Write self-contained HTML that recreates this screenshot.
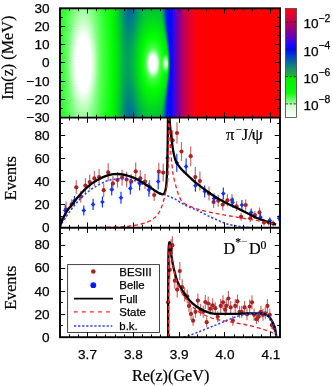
<!DOCTYPE html>
<html><head><meta charset="utf-8"><title>plot</title>
<style>
html,body{margin:0;padding:0;background:#fff;}
svg{display:block;}
.t{font-family:"Liberation Sans",sans-serif;font-size:13.6px;stroke:#000;stroke-width:0.25px;fill:#000;}
.s{font-family:"Liberation Serif",serif;font-size:16.2px;fill:#000;stroke:#000;stroke-width:0.2px;}
</style></head><body>
<svg width="332" height="386" viewBox="0 0 332 386">
<defs><clipPath id="clipm"><rect x="60.0" y="117.6" width="220.0" height="110.1"/></clipPath><clipPath id="clipb"><rect x="60.0" y="227.7" width="220.0" height="109.5"/></clipPath></defs>
<rect width="332" height="386" fill="#fff"/>
<defs><linearGradient id="c60" x1="0" y1="0" x2="0" y2="1"><stop offset="0.000" stop-color="#1bff1b"/><stop offset="0.028" stop-color="#1dff1d"/><stop offset="0.056" stop-color="#1fff1f"/><stop offset="0.083" stop-color="#20ff20"/><stop offset="0.111" stop-color="#22ff22"/><stop offset="0.139" stop-color="#23ff23"/><stop offset="0.167" stop-color="#24ff24"/><stop offset="0.194" stop-color="#26ff26"/><stop offset="0.222" stop-color="#27ff27"/><stop offset="0.250" stop-color="#28ff28"/><stop offset="0.278" stop-color="#28ff28"/><stop offset="0.306" stop-color="#29ff29"/><stop offset="0.333" stop-color="#2aff2a"/><stop offset="0.361" stop-color="#2aff2a"/><stop offset="0.389" stop-color="#2bff2b"/><stop offset="0.417" stop-color="#2bff2b"/><stop offset="0.444" stop-color="#2cff2c"/><stop offset="0.472" stop-color="#2cff2c"/><stop offset="0.500" stop-color="#2cff2c"/><stop offset="0.528" stop-color="#2cff2c"/><stop offset="0.556" stop-color="#2cff2c"/><stop offset="0.583" stop-color="#2bff2b"/><stop offset="0.611" stop-color="#2bff2b"/><stop offset="0.639" stop-color="#2bff2b"/><stop offset="0.667" stop-color="#2aff2a"/><stop offset="0.694" stop-color="#29ff29"/><stop offset="0.722" stop-color="#29ff29"/><stop offset="0.750" stop-color="#28ff28"/><stop offset="0.778" stop-color="#27ff27"/><stop offset="0.806" stop-color="#26ff26"/><stop offset="0.833" stop-color="#25ff25"/><stop offset="0.861" stop-color="#24ff24"/><stop offset="0.889" stop-color="#22ff22"/><stop offset="0.917" stop-color="#21ff21"/><stop offset="0.944" stop-color="#1fff1f"/><stop offset="0.972" stop-color="#1eff1e"/><stop offset="1.000" stop-color="#1cff1c"/></linearGradient><linearGradient id="c61" x1="0" y1="0" x2="0" y2="1"><stop offset="0.000" stop-color="#21ff21"/><stop offset="0.028" stop-color="#23ff23"/><stop offset="0.056" stop-color="#24ff24"/><stop offset="0.083" stop-color="#26ff26"/><stop offset="0.111" stop-color="#28ff28"/><stop offset="0.139" stop-color="#29ff29"/><stop offset="0.167" stop-color="#2bff2b"/><stop offset="0.194" stop-color="#2cff2c"/><stop offset="0.222" stop-color="#2dff2d"/><stop offset="0.250" stop-color="#2eff2e"/><stop offset="0.278" stop-color="#2fff2f"/><stop offset="0.306" stop-color="#30ff30"/><stop offset="0.333" stop-color="#31ff31"/><stop offset="0.361" stop-color="#32ff32"/><stop offset="0.389" stop-color="#32ff32"/><stop offset="0.417" stop-color="#33ff33"/><stop offset="0.444" stop-color="#33ff33"/><stop offset="0.472" stop-color="#33ff33"/><stop offset="0.500" stop-color="#33ff33"/><stop offset="0.528" stop-color="#33ff33"/><stop offset="0.556" stop-color="#33ff33"/><stop offset="0.583" stop-color="#33ff33"/><stop offset="0.611" stop-color="#32ff32"/><stop offset="0.639" stop-color="#32ff32"/><stop offset="0.667" stop-color="#31ff31"/><stop offset="0.694" stop-color="#31ff31"/><stop offset="0.722" stop-color="#30ff30"/><stop offset="0.750" stop-color="#2fff2f"/><stop offset="0.778" stop-color="#2eff2e"/><stop offset="0.806" stop-color="#2dff2d"/><stop offset="0.833" stop-color="#2bff2b"/><stop offset="0.861" stop-color="#2aff2a"/><stop offset="0.889" stop-color="#28ff28"/><stop offset="0.917" stop-color="#27ff27"/><stop offset="0.944" stop-color="#25ff25"/><stop offset="0.972" stop-color="#23ff23"/><stop offset="1.000" stop-color="#21ff21"/></linearGradient><linearGradient id="c62" x1="0" y1="0" x2="0" y2="1"><stop offset="0.000" stop-color="#26ff26"/><stop offset="0.028" stop-color="#28ff28"/><stop offset="0.056" stop-color="#2bff2b"/><stop offset="0.083" stop-color="#2dff2d"/><stop offset="0.111" stop-color="#2eff2e"/><stop offset="0.139" stop-color="#30ff30"/><stop offset="0.167" stop-color="#32ff32"/><stop offset="0.194" stop-color="#33ff33"/><stop offset="0.222" stop-color="#35ff35"/><stop offset="0.250" stop-color="#36ff36"/><stop offset="0.278" stop-color="#37ff37"/><stop offset="0.306" stop-color="#38ff38"/><stop offset="0.333" stop-color="#39ff39"/><stop offset="0.361" stop-color="#39ff39"/><stop offset="0.389" stop-color="#3aff3a"/><stop offset="0.417" stop-color="#3bff3b"/><stop offset="0.444" stop-color="#3bff3b"/><stop offset="0.472" stop-color="#3bff3b"/><stop offset="0.500" stop-color="#3bff3b"/><stop offset="0.528" stop-color="#3bff3b"/><stop offset="0.556" stop-color="#3bff3b"/><stop offset="0.583" stop-color="#3bff3b"/><stop offset="0.611" stop-color="#3aff3a"/><stop offset="0.639" stop-color="#3aff3a"/><stop offset="0.667" stop-color="#39ff39"/><stop offset="0.694" stop-color="#38ff38"/><stop offset="0.722" stop-color="#37ff37"/><stop offset="0.750" stop-color="#36ff36"/><stop offset="0.778" stop-color="#35ff35"/><stop offset="0.806" stop-color="#34ff34"/><stop offset="0.833" stop-color="#32ff32"/><stop offset="0.861" stop-color="#31ff31"/><stop offset="0.889" stop-color="#2fff2f"/><stop offset="0.917" stop-color="#2dff2d"/><stop offset="0.944" stop-color="#2bff2b"/><stop offset="0.972" stop-color="#29ff29"/><stop offset="1.000" stop-color="#27ff27"/></linearGradient><linearGradient id="c63" x1="0" y1="0" x2="0" y2="1"><stop offset="0.000" stop-color="#2cff2c"/><stop offset="0.028" stop-color="#2fff2f"/><stop offset="0.056" stop-color="#31ff31"/><stop offset="0.083" stop-color="#33ff33"/><stop offset="0.111" stop-color="#35ff35"/><stop offset="0.139" stop-color="#37ff37"/><stop offset="0.167" stop-color="#39ff39"/><stop offset="0.194" stop-color="#3bff3b"/><stop offset="0.222" stop-color="#3cff3c"/><stop offset="0.250" stop-color="#3eff3e"/><stop offset="0.278" stop-color="#3fff3f"/><stop offset="0.306" stop-color="#40ff40"/><stop offset="0.333" stop-color="#41ff41"/><stop offset="0.361" stop-color="#42ff42"/><stop offset="0.389" stop-color="#42ff42"/><stop offset="0.417" stop-color="#43ff43"/><stop offset="0.444" stop-color="#43ff43"/><stop offset="0.472" stop-color="#44ff44"/><stop offset="0.500" stop-color="#44ff44"/><stop offset="0.528" stop-color="#44ff44"/><stop offset="0.556" stop-color="#43ff43"/><stop offset="0.583" stop-color="#43ff43"/><stop offset="0.611" stop-color="#43ff43"/><stop offset="0.639" stop-color="#42ff42"/><stop offset="0.667" stop-color="#41ff41"/><stop offset="0.694" stop-color="#40ff40"/><stop offset="0.722" stop-color="#3fff3f"/><stop offset="0.750" stop-color="#3eff3e"/><stop offset="0.778" stop-color="#3dff3d"/><stop offset="0.806" stop-color="#3bff3b"/><stop offset="0.833" stop-color="#3aff3a"/><stop offset="0.861" stop-color="#38ff38"/><stop offset="0.889" stop-color="#36ff36"/><stop offset="0.917" stop-color="#34ff34"/><stop offset="0.944" stop-color="#32ff32"/><stop offset="0.972" stop-color="#30ff30"/><stop offset="1.000" stop-color="#2dff2d"/></linearGradient><linearGradient id="c64" x1="0" y1="0" x2="0" y2="1"><stop offset="0.000" stop-color="#33ff33"/><stop offset="0.028" stop-color="#35ff35"/><stop offset="0.056" stop-color="#38ff38"/><stop offset="0.083" stop-color="#3bff3b"/><stop offset="0.111" stop-color="#3dff3d"/><stop offset="0.139" stop-color="#3fff3f"/><stop offset="0.167" stop-color="#41ff41"/><stop offset="0.194" stop-color="#43ff43"/><stop offset="0.222" stop-color="#45ff45"/><stop offset="0.250" stop-color="#46ff46"/><stop offset="0.278" stop-color="#47ff47"/><stop offset="0.306" stop-color="#49ff49"/><stop offset="0.333" stop-color="#4aff4a"/><stop offset="0.361" stop-color="#4bff4b"/><stop offset="0.389" stop-color="#4bff4b"/><stop offset="0.417" stop-color="#4cff4c"/><stop offset="0.444" stop-color="#4cff4c"/><stop offset="0.472" stop-color="#4dff4d"/><stop offset="0.500" stop-color="#4dff4d"/><stop offset="0.528" stop-color="#4dff4d"/><stop offset="0.556" stop-color="#4cff4c"/><stop offset="0.583" stop-color="#4cff4c"/><stop offset="0.611" stop-color="#4cff4c"/><stop offset="0.639" stop-color="#4bff4b"/><stop offset="0.667" stop-color="#4aff4a"/><stop offset="0.694" stop-color="#49ff49"/><stop offset="0.722" stop-color="#48ff48"/><stop offset="0.750" stop-color="#47ff47"/><stop offset="0.778" stop-color="#45ff45"/><stop offset="0.806" stop-color="#43ff43"/><stop offset="0.833" stop-color="#42ff42"/><stop offset="0.861" stop-color="#40ff40"/><stop offset="0.889" stop-color="#3eff3e"/><stop offset="0.917" stop-color="#3bff3b"/><stop offset="0.944" stop-color="#39ff39"/><stop offset="0.972" stop-color="#36ff36"/><stop offset="1.000" stop-color="#34ff34"/></linearGradient><linearGradient id="c65" x1="0" y1="0" x2="0" y2="1"><stop offset="0.000" stop-color="#39ff39"/><stop offset="0.028" stop-color="#3cff3c"/><stop offset="0.056" stop-color="#3fff3f"/><stop offset="0.083" stop-color="#42ff42"/><stop offset="0.111" stop-color="#45ff45"/><stop offset="0.139" stop-color="#47ff47"/><stop offset="0.167" stop-color="#49ff49"/><stop offset="0.194" stop-color="#4bff4b"/><stop offset="0.222" stop-color="#4dff4d"/><stop offset="0.250" stop-color="#4fff4f"/><stop offset="0.278" stop-color="#50ff50"/><stop offset="0.306" stop-color="#52ff52"/><stop offset="0.333" stop-color="#53ff53"/><stop offset="0.361" stop-color="#54ff54"/><stop offset="0.389" stop-color="#55ff55"/><stop offset="0.417" stop-color="#55ff55"/><stop offset="0.444" stop-color="#56ff56"/><stop offset="0.472" stop-color="#56ff56"/><stop offset="0.500" stop-color="#56ff56"/><stop offset="0.528" stop-color="#56ff56"/><stop offset="0.556" stop-color="#56ff56"/><stop offset="0.583" stop-color="#56ff56"/><stop offset="0.611" stop-color="#55ff55"/><stop offset="0.639" stop-color="#54ff54"/><stop offset="0.667" stop-color="#53ff53"/><stop offset="0.694" stop-color="#52ff52"/><stop offset="0.722" stop-color="#51ff51"/><stop offset="0.750" stop-color="#4fff4f"/><stop offset="0.778" stop-color="#4eff4e"/><stop offset="0.806" stop-color="#4cff4c"/><stop offset="0.833" stop-color="#4aff4a"/><stop offset="0.861" stop-color="#48ff48"/><stop offset="0.889" stop-color="#46ff46"/><stop offset="0.917" stop-color="#43ff43"/><stop offset="0.944" stop-color="#40ff40"/><stop offset="0.972" stop-color="#3eff3e"/><stop offset="1.000" stop-color="#3aff3a"/></linearGradient><linearGradient id="c66" x1="0" y1="0" x2="0" y2="1"><stop offset="0.000" stop-color="#40ff40"/><stop offset="0.028" stop-color="#44ff44"/><stop offset="0.056" stop-color="#47ff47"/><stop offset="0.083" stop-color="#4aff4a"/><stop offset="0.111" stop-color="#4dff4d"/><stop offset="0.139" stop-color="#4fff4f"/><stop offset="0.167" stop-color="#52ff52"/><stop offset="0.194" stop-color="#54ff54"/><stop offset="0.222" stop-color="#56ff56"/><stop offset="0.250" stop-color="#58ff58"/><stop offset="0.278" stop-color="#5aff5a"/><stop offset="0.306" stop-color="#5bff5b"/><stop offset="0.333" stop-color="#5cff5c"/><stop offset="0.361" stop-color="#5eff5e"/><stop offset="0.389" stop-color="#5eff5e"/><stop offset="0.417" stop-color="#5fff5f"/><stop offset="0.444" stop-color="#60ff60"/><stop offset="0.472" stop-color="#60ff60"/><stop offset="0.500" stop-color="#60ff60"/><stop offset="0.528" stop-color="#60ff60"/><stop offset="0.556" stop-color="#60ff60"/><stop offset="0.583" stop-color="#5fff5f"/><stop offset="0.611" stop-color="#5fff5f"/><stop offset="0.639" stop-color="#5eff5e"/><stop offset="0.667" stop-color="#5dff5d"/><stop offset="0.694" stop-color="#5cff5c"/><stop offset="0.722" stop-color="#5aff5a"/><stop offset="0.750" stop-color="#59ff59"/><stop offset="0.778" stop-color="#57ff57"/><stop offset="0.806" stop-color="#55ff55"/><stop offset="0.833" stop-color="#53ff53"/><stop offset="0.861" stop-color="#50ff50"/><stop offset="0.889" stop-color="#4eff4e"/><stop offset="0.917" stop-color="#4bff4b"/><stop offset="0.944" stop-color="#48ff48"/><stop offset="0.972" stop-color="#45ff45"/><stop offset="1.000" stop-color="#42ff42"/></linearGradient><linearGradient id="c67" x1="0" y1="0" x2="0" y2="1"><stop offset="0.000" stop-color="#48ff48"/><stop offset="0.028" stop-color="#4bff4b"/><stop offset="0.056" stop-color="#4fff4f"/><stop offset="0.083" stop-color="#52ff52"/><stop offset="0.111" stop-color="#55ff55"/><stop offset="0.139" stop-color="#58ff58"/><stop offset="0.167" stop-color="#5bff5b"/><stop offset="0.194" stop-color="#5dff5d"/><stop offset="0.222" stop-color="#60ff60"/><stop offset="0.250" stop-color="#62ff62"/><stop offset="0.278" stop-color="#63ff63"/><stop offset="0.306" stop-color="#65ff65"/><stop offset="0.333" stop-color="#66ff66"/><stop offset="0.361" stop-color="#68ff68"/><stop offset="0.389" stop-color="#6aff6a"/><stop offset="0.417" stop-color="#6bff6b"/><stop offset="0.444" stop-color="#6cff6c"/><stop offset="0.472" stop-color="#6dff6d"/><stop offset="0.500" stop-color="#6dff6d"/><stop offset="0.528" stop-color="#6dff6d"/><stop offset="0.556" stop-color="#6cff6c"/><stop offset="0.583" stop-color="#6bff6b"/><stop offset="0.611" stop-color="#6aff6a"/><stop offset="0.639" stop-color="#69ff69"/><stop offset="0.667" stop-color="#67ff67"/><stop offset="0.694" stop-color="#66ff66"/><stop offset="0.722" stop-color="#64ff64"/><stop offset="0.750" stop-color="#62ff62"/><stop offset="0.778" stop-color="#60ff60"/><stop offset="0.806" stop-color="#5eff5e"/><stop offset="0.833" stop-color="#5cff5c"/><stop offset="0.861" stop-color="#59ff59"/><stop offset="0.889" stop-color="#56ff56"/><stop offset="0.917" stop-color="#53ff53"/><stop offset="0.944" stop-color="#50ff50"/><stop offset="0.972" stop-color="#4dff4d"/><stop offset="1.000" stop-color="#49ff49"/></linearGradient><linearGradient id="c68" x1="0" y1="0" x2="0" y2="1"><stop offset="0.000" stop-color="#4fff4f"/><stop offset="0.028" stop-color="#53ff53"/><stop offset="0.056" stop-color="#57ff57"/><stop offset="0.083" stop-color="#5bff5b"/><stop offset="0.111" stop-color="#5eff5e"/><stop offset="0.139" stop-color="#61ff61"/><stop offset="0.167" stop-color="#64ff64"/><stop offset="0.194" stop-color="#67ff67"/><stop offset="0.222" stop-color="#69ff69"/><stop offset="0.250" stop-color="#6bff6b"/><stop offset="0.278" stop-color="#6dff6d"/><stop offset="0.306" stop-color="#70ff70"/><stop offset="0.333" stop-color="#73ff73"/><stop offset="0.361" stop-color="#76ff76"/><stop offset="0.389" stop-color="#78ff78"/><stop offset="0.417" stop-color="#7aff7a"/><stop offset="0.444" stop-color="#7cff7c"/><stop offset="0.472" stop-color="#7dff7d"/><stop offset="0.500" stop-color="#7eff7e"/><stop offset="0.528" stop-color="#7dff7d"/><stop offset="0.556" stop-color="#7cff7c"/><stop offset="0.583" stop-color="#7bff7b"/><stop offset="0.611" stop-color="#79ff79"/><stop offset="0.639" stop-color="#76ff76"/><stop offset="0.667" stop-color="#74ff74"/><stop offset="0.694" stop-color="#71ff71"/><stop offset="0.722" stop-color="#6eff6e"/><stop offset="0.750" stop-color="#6cff6c"/><stop offset="0.778" stop-color="#6aff6a"/><stop offset="0.806" stop-color="#68ff68"/><stop offset="0.833" stop-color="#65ff65"/><stop offset="0.861" stop-color="#62ff62"/><stop offset="0.889" stop-color="#5fff5f"/><stop offset="0.917" stop-color="#5cff5c"/><stop offset="0.944" stop-color="#58ff58"/><stop offset="0.972" stop-color="#55ff55"/><stop offset="1.000" stop-color="#51ff51"/></linearGradient><linearGradient id="c69" x1="0" y1="0" x2="0" y2="1"><stop offset="0.000" stop-color="#57ff57"/><stop offset="0.028" stop-color="#5bff5b"/><stop offset="0.056" stop-color="#5fff5f"/><stop offset="0.083" stop-color="#63ff63"/><stop offset="0.111" stop-color="#67ff67"/><stop offset="0.139" stop-color="#6aff6a"/><stop offset="0.167" stop-color="#6dff6d"/><stop offset="0.194" stop-color="#70ff70"/><stop offset="0.222" stop-color="#73ff73"/><stop offset="0.250" stop-color="#76ff76"/><stop offset="0.278" stop-color="#7aff7a"/><stop offset="0.306" stop-color="#7eff7e"/><stop offset="0.333" stop-color="#82ff82"/><stop offset="0.361" stop-color="#86ff86"/><stop offset="0.389" stop-color="#8aff8a"/><stop offset="0.417" stop-color="#8dff8d"/><stop offset="0.444" stop-color="#8fff8f"/><stop offset="0.472" stop-color="#90ff90"/><stop offset="0.500" stop-color="#91ff91"/><stop offset="0.528" stop-color="#91ff91"/><stop offset="0.556" stop-color="#90ff90"/><stop offset="0.583" stop-color="#8eff8e"/><stop offset="0.611" stop-color="#8bff8b"/><stop offset="0.639" stop-color="#87ff87"/><stop offset="0.667" stop-color="#84ff84"/><stop offset="0.694" stop-color="#7fff7f"/><stop offset="0.722" stop-color="#7bff7b"/><stop offset="0.750" stop-color="#77ff77"/><stop offset="0.778" stop-color="#74ff74"/><stop offset="0.806" stop-color="#71ff71"/><stop offset="0.833" stop-color="#6eff6e"/><stop offset="0.861" stop-color="#6bff6b"/><stop offset="0.889" stop-color="#68ff68"/><stop offset="0.917" stop-color="#64ff64"/><stop offset="0.944" stop-color="#61ff61"/><stop offset="0.972" stop-color="#5dff5d"/><stop offset="1.000" stop-color="#58ff58"/></linearGradient><linearGradient id="c70" x1="0" y1="0" x2="0" y2="1"><stop offset="0.000" stop-color="#5eff5e"/><stop offset="0.028" stop-color="#63ff63"/><stop offset="0.056" stop-color="#67ff67"/><stop offset="0.083" stop-color="#6cff6c"/><stop offset="0.111" stop-color="#70ff70"/><stop offset="0.139" stop-color="#73ff73"/><stop offset="0.167" stop-color="#77ff77"/><stop offset="0.194" stop-color="#7aff7a"/><stop offset="0.222" stop-color="#7eff7e"/><stop offset="0.250" stop-color="#83ff83"/><stop offset="0.278" stop-color="#89ff89"/><stop offset="0.306" stop-color="#8eff8e"/><stop offset="0.333" stop-color="#94ff94"/><stop offset="0.361" stop-color="#99ff99"/><stop offset="0.389" stop-color="#9eff9e"/><stop offset="0.417" stop-color="#a1ffa1"/><stop offset="0.444" stop-color="#a4ffa4"/><stop offset="0.472" stop-color="#a6ffa6"/><stop offset="0.500" stop-color="#a7ffa7"/><stop offset="0.528" stop-color="#a7ffa7"/><stop offset="0.556" stop-color="#a5ffa5"/><stop offset="0.583" stop-color="#a3ffa3"/><stop offset="0.611" stop-color="#9fff9f"/><stop offset="0.639" stop-color="#9bff9b"/><stop offset="0.667" stop-color="#96ff96"/><stop offset="0.694" stop-color="#90ff90"/><stop offset="0.722" stop-color="#8bff8b"/><stop offset="0.750" stop-color="#85ff85"/><stop offset="0.778" stop-color="#80ff80"/><stop offset="0.806" stop-color="#7bff7b"/><stop offset="0.833" stop-color="#78ff78"/><stop offset="0.861" stop-color="#74ff74"/><stop offset="0.889" stop-color="#71ff71"/><stop offset="0.917" stop-color="#6dff6d"/><stop offset="0.944" stop-color="#69ff69"/><stop offset="0.972" stop-color="#65ff65"/><stop offset="1.000" stop-color="#60ff60"/></linearGradient><linearGradient id="c71" x1="0" y1="0" x2="0" y2="1"><stop offset="0.000" stop-color="#66ff66"/><stop offset="0.028" stop-color="#6bff6b"/><stop offset="0.056" stop-color="#70ff70"/><stop offset="0.083" stop-color="#74ff74"/><stop offset="0.111" stop-color="#78ff78"/><stop offset="0.139" stop-color="#7cff7c"/><stop offset="0.167" stop-color="#80ff80"/><stop offset="0.194" stop-color="#86ff86"/><stop offset="0.222" stop-color="#8cff8c"/><stop offset="0.250" stop-color="#93ff93"/><stop offset="0.278" stop-color="#9aff9a"/><stop offset="0.306" stop-color="#a1ffa1"/><stop offset="0.333" stop-color="#a8ffa8"/><stop offset="0.361" stop-color="#aeffae"/><stop offset="0.389" stop-color="#b2ffb2"/><stop offset="0.417" stop-color="#b5ffb5"/><stop offset="0.444" stop-color="#b7ffb7"/><stop offset="0.472" stop-color="#b9ffb9"/><stop offset="0.500" stop-color="#b9ffb9"/><stop offset="0.528" stop-color="#b9ffb9"/><stop offset="0.556" stop-color="#b8ffb8"/><stop offset="0.583" stop-color="#b6ffb6"/><stop offset="0.611" stop-color="#b3ffb3"/><stop offset="0.639" stop-color="#b0ffb0"/><stop offset="0.667" stop-color="#aaffaa"/><stop offset="0.694" stop-color="#a3ffa3"/><stop offset="0.722" stop-color="#9cff9c"/><stop offset="0.750" stop-color="#95ff95"/><stop offset="0.778" stop-color="#8eff8e"/><stop offset="0.806" stop-color="#88ff88"/><stop offset="0.833" stop-color="#82ff82"/><stop offset="0.861" stop-color="#7eff7e"/><stop offset="0.889" stop-color="#7aff7a"/><stop offset="0.917" stop-color="#76ff76"/><stop offset="0.944" stop-color="#71ff71"/><stop offset="0.972" stop-color="#6dff6d"/><stop offset="1.000" stop-color="#68ff68"/></linearGradient><linearGradient id="c72" x1="0" y1="0" x2="0" y2="1"><stop offset="0.000" stop-color="#6dff6d"/><stop offset="0.028" stop-color="#73ff73"/><stop offset="0.056" stop-color="#78ff78"/><stop offset="0.083" stop-color="#7cff7c"/><stop offset="0.111" stop-color="#81ff81"/><stop offset="0.139" stop-color="#85ff85"/><stop offset="0.167" stop-color="#8bff8b"/><stop offset="0.194" stop-color="#93ff93"/><stop offset="0.222" stop-color="#9bff9b"/><stop offset="0.250" stop-color="#a3ffa3"/><stop offset="0.278" stop-color="#acffac"/><stop offset="0.306" stop-color="#b3ffb3"/><stop offset="0.333" stop-color="#b8ffb8"/><stop offset="0.361" stop-color="#bdffbd"/><stop offset="0.389" stop-color="#c1ffc1"/><stop offset="0.417" stop-color="#c4ffc4"/><stop offset="0.444" stop-color="#c7ffc7"/><stop offset="0.472" stop-color="#c9ffc9"/><stop offset="0.500" stop-color="#c9ffc9"/><stop offset="0.528" stop-color="#c9ffc9"/><stop offset="0.556" stop-color="#c8ffc8"/><stop offset="0.583" stop-color="#c5ffc5"/><stop offset="0.611" stop-color="#c2ffc2"/><stop offset="0.639" stop-color="#beffbe"/><stop offset="0.667" stop-color="#baffba"/><stop offset="0.694" stop-color="#b5ffb5"/><stop offset="0.722" stop-color="#afffaf"/><stop offset="0.750" stop-color="#a6ffa6"/><stop offset="0.778" stop-color="#9eff9e"/><stop offset="0.806" stop-color="#95ff95"/><stop offset="0.833" stop-color="#8eff8e"/><stop offset="0.861" stop-color="#87ff87"/><stop offset="0.889" stop-color="#82ff82"/><stop offset="0.917" stop-color="#7eff7e"/><stop offset="0.944" stop-color="#79ff79"/><stop offset="0.972" stop-color="#74ff74"/><stop offset="1.000" stop-color="#6fff6f"/></linearGradient><linearGradient id="c73" x1="0" y1="0" x2="0" y2="1"><stop offset="0.000" stop-color="#74ff74"/><stop offset="0.028" stop-color="#7aff7a"/><stop offset="0.056" stop-color="#7fff7f"/><stop offset="0.083" stop-color="#84ff84"/><stop offset="0.111" stop-color="#89ff89"/><stop offset="0.139" stop-color="#90ff90"/><stop offset="0.167" stop-color="#98ff98"/><stop offset="0.194" stop-color="#a1ffa1"/><stop offset="0.222" stop-color="#abffab"/><stop offset="0.250" stop-color="#b3ffb3"/><stop offset="0.278" stop-color="#b9ffb9"/><stop offset="0.306" stop-color="#c0ffc0"/><stop offset="0.333" stop-color="#c6ffc6"/><stop offset="0.361" stop-color="#cbffcb"/><stop offset="0.389" stop-color="#d0ffd0"/><stop offset="0.417" stop-color="#d4ffd4"/><stop offset="0.444" stop-color="#d7ffd7"/><stop offset="0.472" stop-color="#d9ffd9"/><stop offset="0.500" stop-color="#daffda"/><stop offset="0.528" stop-color="#d9ffd9"/><stop offset="0.556" stop-color="#d8ffd8"/><stop offset="0.583" stop-color="#d5ffd5"/><stop offset="0.611" stop-color="#d2ffd2"/><stop offset="0.639" stop-color="#cdffcd"/><stop offset="0.667" stop-color="#c8ffc8"/><stop offset="0.694" stop-color="#c2ffc2"/><stop offset="0.722" stop-color="#bcffbc"/><stop offset="0.750" stop-color="#b5ffb5"/><stop offset="0.778" stop-color="#aeffae"/><stop offset="0.806" stop-color="#a4ffa4"/><stop offset="0.833" stop-color="#9bff9b"/><stop offset="0.861" stop-color="#93ff93"/><stop offset="0.889" stop-color="#8cff8c"/><stop offset="0.917" stop-color="#86ff86"/><stop offset="0.944" stop-color="#81ff81"/><stop offset="0.972" stop-color="#7cff7c"/><stop offset="1.000" stop-color="#76ff76"/></linearGradient><linearGradient id="c74" x1="0" y1="0" x2="0" y2="1"><stop offset="0.000" stop-color="#7bff7b"/><stop offset="0.028" stop-color="#81ff81"/><stop offset="0.056" stop-color="#87ff87"/><stop offset="0.083" stop-color="#8cff8c"/><stop offset="0.111" stop-color="#93ff93"/><stop offset="0.139" stop-color="#9bff9b"/><stop offset="0.167" stop-color="#a5ffa5"/><stop offset="0.194" stop-color="#afffaf"/><stop offset="0.222" stop-color="#b7ffb7"/><stop offset="0.250" stop-color="#beffbe"/><stop offset="0.278" stop-color="#c6ffc6"/><stop offset="0.306" stop-color="#cdffcd"/><stop offset="0.333" stop-color="#d4ffd4"/><stop offset="0.361" stop-color="#daffda"/><stop offset="0.389" stop-color="#e0ffe0"/><stop offset="0.417" stop-color="#e4ffe4"/><stop offset="0.444" stop-color="#e7ffe7"/><stop offset="0.472" stop-color="#eaffea"/><stop offset="0.500" stop-color="#eaffea"/><stop offset="0.528" stop-color="#eaffea"/><stop offset="0.556" stop-color="#e8ffe8"/><stop offset="0.583" stop-color="#e5ffe5"/><stop offset="0.611" stop-color="#e1ffe1"/><stop offset="0.639" stop-color="#dcffdc"/><stop offset="0.667" stop-color="#d6ffd6"/><stop offset="0.694" stop-color="#d0ffd0"/><stop offset="0.722" stop-color="#c8ffc8"/><stop offset="0.750" stop-color="#c1ffc1"/><stop offset="0.778" stop-color="#b9ffb9"/><stop offset="0.806" stop-color="#b2ffb2"/><stop offset="0.833" stop-color="#a9ffa9"/><stop offset="0.861" stop-color="#9eff9e"/><stop offset="0.889" stop-color="#95ff95"/><stop offset="0.917" stop-color="#8eff8e"/><stop offset="0.944" stop-color="#89ff89"/><stop offset="0.972" stop-color="#83ff83"/><stop offset="1.000" stop-color="#7dff7d"/></linearGradient><linearGradient id="c75" x1="0" y1="0" x2="0" y2="1"><stop offset="0.000" stop-color="#81ff81"/><stop offset="0.028" stop-color="#88ff88"/><stop offset="0.056" stop-color="#8eff8e"/><stop offset="0.083" stop-color="#94ff94"/><stop offset="0.111" stop-color="#9cff9c"/><stop offset="0.139" stop-color="#a6ffa6"/><stop offset="0.167" stop-color="#b1ffb1"/><stop offset="0.194" stop-color="#b9ffb9"/><stop offset="0.222" stop-color="#c1ffc1"/><stop offset="0.250" stop-color="#caffca"/><stop offset="0.278" stop-color="#d2ffd2"/><stop offset="0.306" stop-color="#daffda"/><stop offset="0.333" stop-color="#e2ffe2"/><stop offset="0.361" stop-color="#e9ffe9"/><stop offset="0.389" stop-color="#efffef"/><stop offset="0.417" stop-color="#f4fff4"/><stop offset="0.444" stop-color="#f7fff7"/><stop offset="0.472" stop-color="#fafffa"/><stop offset="0.500" stop-color="#fbfffb"/><stop offset="0.528" stop-color="#fafffa"/><stop offset="0.556" stop-color="#f8fff8"/><stop offset="0.583" stop-color="#f5fff5"/><stop offset="0.611" stop-color="#f1fff1"/><stop offset="0.639" stop-color="#ebffeb"/><stop offset="0.667" stop-color="#e4ffe4"/><stop offset="0.694" stop-color="#ddffdd"/><stop offset="0.722" stop-color="#d5ffd5"/><stop offset="0.750" stop-color="#cdffcd"/><stop offset="0.778" stop-color="#c4ffc4"/><stop offset="0.806" stop-color="#bcffbc"/><stop offset="0.833" stop-color="#b4ffb4"/><stop offset="0.861" stop-color="#aaffaa"/><stop offset="0.889" stop-color="#a0ffa0"/><stop offset="0.917" stop-color="#97ff97"/><stop offset="0.944" stop-color="#90ff90"/><stop offset="0.972" stop-color="#8aff8a"/><stop offset="1.000" stop-color="#84ff84"/></linearGradient><linearGradient id="c76" x1="0" y1="0" x2="0" y2="1"><stop offset="0.000" stop-color="#87ff87"/><stop offset="0.028" stop-color="#8eff8e"/><stop offset="0.056" stop-color="#94ff94"/><stop offset="0.083" stop-color="#9cff9c"/><stop offset="0.111" stop-color="#a6ffa6"/><stop offset="0.139" stop-color="#b1ffb1"/><stop offset="0.167" stop-color="#b9ffb9"/><stop offset="0.194" stop-color="#c2ffc2"/><stop offset="0.222" stop-color="#cbffcb"/><stop offset="0.250" stop-color="#d5ffd5"/><stop offset="0.278" stop-color="#deffde"/><stop offset="0.306" stop-color="#e7ffe7"/><stop offset="0.333" stop-color="#efffef"/><stop offset="0.361" stop-color="#f7fff7"/><stop offset="0.389" stop-color="#fdfffd"/><stop offset="0.417" stop-color="#ffffff"/><stop offset="0.444" stop-color="#ffffff"/><stop offset="0.472" stop-color="#ffffff"/><stop offset="0.500" stop-color="#ffffff"/><stop offset="0.528" stop-color="#ffffff"/><stop offset="0.556" stop-color="#ffffff"/><stop offset="0.583" stop-color="#ffffff"/><stop offset="0.611" stop-color="#ffffff"/><stop offset="0.639" stop-color="#f9fff9"/><stop offset="0.667" stop-color="#f2fff2"/><stop offset="0.694" stop-color="#eaffea"/><stop offset="0.722" stop-color="#e1ffe1"/><stop offset="0.750" stop-color="#d8ffd8"/><stop offset="0.778" stop-color="#cfffcf"/><stop offset="0.806" stop-color="#c5ffc5"/><stop offset="0.833" stop-color="#bcffbc"/><stop offset="0.861" stop-color="#b4ffb4"/><stop offset="0.889" stop-color="#aaffaa"/><stop offset="0.917" stop-color="#9fff9f"/><stop offset="0.944" stop-color="#97ff97"/><stop offset="0.972" stop-color="#90ff90"/><stop offset="1.000" stop-color="#8aff8a"/></linearGradient><linearGradient id="c77" x1="0" y1="0" x2="0" y2="1"><stop offset="0.000" stop-color="#8dff8d"/><stop offset="0.028" stop-color="#93ff93"/><stop offset="0.056" stop-color="#9aff9a"/><stop offset="0.083" stop-color="#a4ffa4"/><stop offset="0.111" stop-color="#afffaf"/><stop offset="0.139" stop-color="#b7ffb7"/><stop offset="0.167" stop-color="#c1ffc1"/><stop offset="0.194" stop-color="#caffca"/><stop offset="0.222" stop-color="#d5ffd5"/><stop offset="0.250" stop-color="#dfffdf"/><stop offset="0.278" stop-color="#e9ffe9"/><stop offset="0.306" stop-color="#f2fff2"/><stop offset="0.333" stop-color="#fbfffb"/><stop offset="0.361" stop-color="#ffffff"/><stop offset="0.389" stop-color="#ffffff"/><stop offset="0.417" stop-color="#ffffff"/><stop offset="0.444" stop-color="#ffffff"/><stop offset="0.472" stop-color="#ffffff"/><stop offset="0.500" stop-color="#ffffff"/><stop offset="0.528" stop-color="#ffffff"/><stop offset="0.556" stop-color="#ffffff"/><stop offset="0.583" stop-color="#ffffff"/><stop offset="0.611" stop-color="#ffffff"/><stop offset="0.639" stop-color="#ffffff"/><stop offset="0.667" stop-color="#ffffff"/><stop offset="0.694" stop-color="#f6fff6"/><stop offset="0.722" stop-color="#ecffec"/><stop offset="0.750" stop-color="#e2ffe2"/><stop offset="0.778" stop-color="#d8ffd8"/><stop offset="0.806" stop-color="#ceffce"/><stop offset="0.833" stop-color="#c4ffc4"/><stop offset="0.861" stop-color="#bbffbb"/><stop offset="0.889" stop-color="#b2ffb2"/><stop offset="0.917" stop-color="#a8ffa8"/><stop offset="0.944" stop-color="#9dff9d"/><stop offset="0.972" stop-color="#96ff96"/><stop offset="1.000" stop-color="#8fff8f"/></linearGradient><linearGradient id="c78" x1="0" y1="0" x2="0" y2="1"><stop offset="0.000" stop-color="#91ff91"/><stop offset="0.028" stop-color="#98ff98"/><stop offset="0.056" stop-color="#a0ffa0"/><stop offset="0.083" stop-color="#abffab"/><stop offset="0.111" stop-color="#b4ffb4"/><stop offset="0.139" stop-color="#beffbe"/><stop offset="0.167" stop-color="#c8ffc8"/><stop offset="0.194" stop-color="#d2ffd2"/><stop offset="0.222" stop-color="#ddffdd"/><stop offset="0.250" stop-color="#e8ffe8"/><stop offset="0.278" stop-color="#f3fff3"/><stop offset="0.306" stop-color="#fdfffd"/><stop offset="0.333" stop-color="#ffffff"/><stop offset="0.361" stop-color="#ffffff"/><stop offset="0.389" stop-color="#ffffff"/><stop offset="0.417" stop-color="#ffffff"/><stop offset="0.444" stop-color="#ffffff"/><stop offset="0.472" stop-color="#ffffff"/><stop offset="0.500" stop-color="#ffffff"/><stop offset="0.528" stop-color="#ffffff"/><stop offset="0.556" stop-color="#ffffff"/><stop offset="0.583" stop-color="#ffffff"/><stop offset="0.611" stop-color="#ffffff"/><stop offset="0.639" stop-color="#ffffff"/><stop offset="0.667" stop-color="#ffffff"/><stop offset="0.694" stop-color="#ffffff"/><stop offset="0.722" stop-color="#f6fff6"/><stop offset="0.750" stop-color="#ecffec"/><stop offset="0.778" stop-color="#e1ffe1"/><stop offset="0.806" stop-color="#d6ffd6"/><stop offset="0.833" stop-color="#cbffcb"/><stop offset="0.861" stop-color="#c1ffc1"/><stop offset="0.889" stop-color="#b8ffb8"/><stop offset="0.917" stop-color="#afffaf"/><stop offset="0.944" stop-color="#a4ffa4"/><stop offset="0.972" stop-color="#9bff9b"/><stop offset="1.000" stop-color="#94ff94"/></linearGradient><linearGradient id="c79" x1="0" y1="0" x2="0" y2="1"><stop offset="0.000" stop-color="#95ff95"/><stop offset="0.028" stop-color="#9cff9c"/><stop offset="0.056" stop-color="#a5ffa5"/><stop offset="0.083" stop-color="#b0ffb0"/><stop offset="0.111" stop-color="#b9ffb9"/><stop offset="0.139" stop-color="#c3ffc3"/><stop offset="0.167" stop-color="#cdffcd"/><stop offset="0.194" stop-color="#d9ffd9"/><stop offset="0.222" stop-color="#e4ffe4"/><stop offset="0.250" stop-color="#f0fff0"/><stop offset="0.278" stop-color="#fbfffb"/><stop offset="0.306" stop-color="#ffffff"/><stop offset="0.333" stop-color="#ffffff"/><stop offset="0.361" stop-color="#ffffff"/><stop offset="0.389" stop-color="#ffffff"/><stop offset="0.417" stop-color="#ffffff"/><stop offset="0.444" stop-color="#ffffff"/><stop offset="0.472" stop-color="#ffffff"/><stop offset="0.500" stop-color="#ffffff"/><stop offset="0.528" stop-color="#ffffff"/><stop offset="0.556" stop-color="#ffffff"/><stop offset="0.583" stop-color="#ffffff"/><stop offset="0.611" stop-color="#ffffff"/><stop offset="0.639" stop-color="#ffffff"/><stop offset="0.667" stop-color="#ffffff"/><stop offset="0.694" stop-color="#ffffff"/><stop offset="0.722" stop-color="#ffffff"/><stop offset="0.750" stop-color="#f4fff4"/><stop offset="0.778" stop-color="#e8ffe8"/><stop offset="0.806" stop-color="#ddffdd"/><stop offset="0.833" stop-color="#d1ffd1"/><stop offset="0.861" stop-color="#c7ffc7"/><stop offset="0.889" stop-color="#bcffbc"/><stop offset="0.917" stop-color="#b3ffb3"/><stop offset="0.944" stop-color="#a9ffa9"/><stop offset="0.972" stop-color="#9fff9f"/><stop offset="1.000" stop-color="#98ff98"/></linearGradient><linearGradient id="c80" x1="0" y1="0" x2="0" y2="1"><stop offset="0.000" stop-color="#98ff98"/><stop offset="0.028" stop-color="#a0ffa0"/><stop offset="0.056" stop-color="#aaffaa"/><stop offset="0.083" stop-color="#b4ffb4"/><stop offset="0.111" stop-color="#bdffbd"/><stop offset="0.139" stop-color="#c7ffc7"/><stop offset="0.167" stop-color="#d2ffd2"/><stop offset="0.194" stop-color="#deffde"/><stop offset="0.222" stop-color="#eaffea"/><stop offset="0.250" stop-color="#f6fff6"/><stop offset="0.278" stop-color="#ffffff"/><stop offset="0.306" stop-color="#ffffff"/><stop offset="0.333" stop-color="#ffffff"/><stop offset="0.361" stop-color="#ffffff"/><stop offset="0.389" stop-color="#ffffff"/><stop offset="0.417" stop-color="#ffffff"/><stop offset="0.444" stop-color="#ffffff"/><stop offset="0.472" stop-color="#ffffff"/><stop offset="0.500" stop-color="#ffffff"/><stop offset="0.528" stop-color="#ffffff"/><stop offset="0.556" stop-color="#ffffff"/><stop offset="0.583" stop-color="#ffffff"/><stop offset="0.611" stop-color="#ffffff"/><stop offset="0.639" stop-color="#ffffff"/><stop offset="0.667" stop-color="#ffffff"/><stop offset="0.694" stop-color="#ffffff"/><stop offset="0.722" stop-color="#ffffff"/><stop offset="0.750" stop-color="#fafffa"/><stop offset="0.778" stop-color="#eeffee"/><stop offset="0.806" stop-color="#e2ffe2"/><stop offset="0.833" stop-color="#d6ffd6"/><stop offset="0.861" stop-color="#cbffcb"/><stop offset="0.889" stop-color="#c0ffc0"/><stop offset="0.917" stop-color="#b7ffb7"/><stop offset="0.944" stop-color="#aeffae"/><stop offset="0.972" stop-color="#a3ffa3"/><stop offset="1.000" stop-color="#9bff9b"/></linearGradient><linearGradient id="c81" x1="0" y1="0" x2="0" y2="1"><stop offset="0.000" stop-color="#9aff9a"/><stop offset="0.028" stop-color="#a2ffa2"/><stop offset="0.056" stop-color="#adffad"/><stop offset="0.083" stop-color="#b6ffb6"/><stop offset="0.111" stop-color="#bfffbf"/><stop offset="0.139" stop-color="#caffca"/><stop offset="0.167" stop-color="#d6ffd6"/><stop offset="0.194" stop-color="#e2ffe2"/><stop offset="0.222" stop-color="#eeffee"/><stop offset="0.250" stop-color="#fafffa"/><stop offset="0.278" stop-color="#ffffff"/><stop offset="0.306" stop-color="#ffffff"/><stop offset="0.333" stop-color="#ffffff"/><stop offset="0.361" stop-color="#ffffff"/><stop offset="0.389" stop-color="#ffffff"/><stop offset="0.417" stop-color="#ffffff"/><stop offset="0.444" stop-color="#ffffff"/><stop offset="0.472" stop-color="#ffffff"/><stop offset="0.500" stop-color="#ffffff"/><stop offset="0.528" stop-color="#ffffff"/><stop offset="0.556" stop-color="#ffffff"/><stop offset="0.583" stop-color="#ffffff"/><stop offset="0.611" stop-color="#ffffff"/><stop offset="0.639" stop-color="#ffffff"/><stop offset="0.667" stop-color="#ffffff"/><stop offset="0.694" stop-color="#ffffff"/><stop offset="0.722" stop-color="#ffffff"/><stop offset="0.750" stop-color="#ffffff"/><stop offset="0.778" stop-color="#f2fff2"/><stop offset="0.806" stop-color="#e6ffe6"/><stop offset="0.833" stop-color="#daffda"/><stop offset="0.861" stop-color="#ceffce"/><stop offset="0.889" stop-color="#c3ffc3"/><stop offset="0.917" stop-color="#b9ffb9"/><stop offset="0.944" stop-color="#b0ffb0"/><stop offset="0.972" stop-color="#a6ffa6"/><stop offset="1.000" stop-color="#9dff9d"/></linearGradient><linearGradient id="c82" x1="0" y1="0" x2="0" y2="1"><stop offset="0.000" stop-color="#9bff9b"/><stop offset="0.028" stop-color="#a4ffa4"/><stop offset="0.056" stop-color="#aeffae"/><stop offset="0.083" stop-color="#b7ffb7"/><stop offset="0.111" stop-color="#c1ffc1"/><stop offset="0.139" stop-color="#ccffcc"/><stop offset="0.167" stop-color="#d8ffd8"/><stop offset="0.194" stop-color="#e4ffe4"/><stop offset="0.222" stop-color="#f0fff0"/><stop offset="0.250" stop-color="#fdfffd"/><stop offset="0.278" stop-color="#ffffff"/><stop offset="0.306" stop-color="#ffffff"/><stop offset="0.333" stop-color="#ffffff"/><stop offset="0.361" stop-color="#ffffff"/><stop offset="0.389" stop-color="#ffffff"/><stop offset="0.417" stop-color="#ffffff"/><stop offset="0.444" stop-color="#ffffff"/><stop offset="0.472" stop-color="#ffffff"/><stop offset="0.500" stop-color="#ffffff"/><stop offset="0.528" stop-color="#ffffff"/><stop offset="0.556" stop-color="#ffffff"/><stop offset="0.583" stop-color="#ffffff"/><stop offset="0.611" stop-color="#ffffff"/><stop offset="0.639" stop-color="#ffffff"/><stop offset="0.667" stop-color="#ffffff"/><stop offset="0.694" stop-color="#ffffff"/><stop offset="0.722" stop-color="#ffffff"/><stop offset="0.750" stop-color="#ffffff"/><stop offset="0.778" stop-color="#f5fff5"/><stop offset="0.806" stop-color="#e8ffe8"/><stop offset="0.833" stop-color="#dcffdc"/><stop offset="0.861" stop-color="#d0ffd0"/><stop offset="0.889" stop-color="#c5ffc5"/><stop offset="0.917" stop-color="#bbffbb"/><stop offset="0.944" stop-color="#b2ffb2"/><stop offset="0.972" stop-color="#a7ffa7"/><stop offset="1.000" stop-color="#9eff9e"/></linearGradient><linearGradient id="c83" x1="0" y1="0" x2="0" y2="1"><stop offset="0.000" stop-color="#9bff9b"/><stop offset="0.028" stop-color="#a4ffa4"/><stop offset="0.056" stop-color="#afffaf"/><stop offset="0.083" stop-color="#b8ffb8"/><stop offset="0.111" stop-color="#c1ffc1"/><stop offset="0.139" stop-color="#ccffcc"/><stop offset="0.167" stop-color="#d8ffd8"/><stop offset="0.194" stop-color="#e4ffe4"/><stop offset="0.222" stop-color="#f1fff1"/><stop offset="0.250" stop-color="#fdfffd"/><stop offset="0.278" stop-color="#ffffff"/><stop offset="0.306" stop-color="#ffffff"/><stop offset="0.333" stop-color="#ffffff"/><stop offset="0.361" stop-color="#ffffff"/><stop offset="0.389" stop-color="#ffffff"/><stop offset="0.417" stop-color="#ffffff"/><stop offset="0.444" stop-color="#ffffff"/><stop offset="0.472" stop-color="#ffffff"/><stop offset="0.500" stop-color="#ffffff"/><stop offset="0.528" stop-color="#ffffff"/><stop offset="0.556" stop-color="#ffffff"/><stop offset="0.583" stop-color="#ffffff"/><stop offset="0.611" stop-color="#ffffff"/><stop offset="0.639" stop-color="#ffffff"/><stop offset="0.667" stop-color="#ffffff"/><stop offset="0.694" stop-color="#ffffff"/><stop offset="0.722" stop-color="#ffffff"/><stop offset="0.750" stop-color="#ffffff"/><stop offset="0.778" stop-color="#f5fff5"/><stop offset="0.806" stop-color="#e9ffe9"/><stop offset="0.833" stop-color="#dcffdc"/><stop offset="0.861" stop-color="#d0ffd0"/><stop offset="0.889" stop-color="#c5ffc5"/><stop offset="0.917" stop-color="#bbffbb"/><stop offset="0.944" stop-color="#b2ffb2"/><stop offset="0.972" stop-color="#a8ffa8"/><stop offset="1.000" stop-color="#9eff9e"/></linearGradient><linearGradient id="c84" x1="0" y1="0" x2="0" y2="1"><stop offset="0.000" stop-color="#9bff9b"/><stop offset="0.028" stop-color="#a3ffa3"/><stop offset="0.056" stop-color="#aeffae"/><stop offset="0.083" stop-color="#b7ffb7"/><stop offset="0.111" stop-color="#c1ffc1"/><stop offset="0.139" stop-color="#cbffcb"/><stop offset="0.167" stop-color="#d7ffd7"/><stop offset="0.194" stop-color="#e3ffe3"/><stop offset="0.222" stop-color="#f0fff0"/><stop offset="0.250" stop-color="#fcfffc"/><stop offset="0.278" stop-color="#ffffff"/><stop offset="0.306" stop-color="#ffffff"/><stop offset="0.333" stop-color="#ffffff"/><stop offset="0.361" stop-color="#ffffff"/><stop offset="0.389" stop-color="#ffffff"/><stop offset="0.417" stop-color="#ffffff"/><stop offset="0.444" stop-color="#ffffff"/><stop offset="0.472" stop-color="#ffffff"/><stop offset="0.500" stop-color="#ffffff"/><stop offset="0.528" stop-color="#ffffff"/><stop offset="0.556" stop-color="#ffffff"/><stop offset="0.583" stop-color="#ffffff"/><stop offset="0.611" stop-color="#ffffff"/><stop offset="0.639" stop-color="#ffffff"/><stop offset="0.667" stop-color="#ffffff"/><stop offset="0.694" stop-color="#ffffff"/><stop offset="0.722" stop-color="#ffffff"/><stop offset="0.750" stop-color="#ffffff"/><stop offset="0.778" stop-color="#f4fff4"/><stop offset="0.806" stop-color="#e8ffe8"/><stop offset="0.833" stop-color="#dbffdb"/><stop offset="0.861" stop-color="#cfffcf"/><stop offset="0.889" stop-color="#c4ffc4"/><stop offset="0.917" stop-color="#baffba"/><stop offset="0.944" stop-color="#b1ffb1"/><stop offset="0.972" stop-color="#a7ffa7"/><stop offset="1.000" stop-color="#9eff9e"/></linearGradient><linearGradient id="c85" x1="0" y1="0" x2="0" y2="1"><stop offset="0.000" stop-color="#99ff99"/><stop offset="0.028" stop-color="#a1ffa1"/><stop offset="0.056" stop-color="#acffac"/><stop offset="0.083" stop-color="#b5ffb5"/><stop offset="0.111" stop-color="#bfffbf"/><stop offset="0.139" stop-color="#c9ffc9"/><stop offset="0.167" stop-color="#d4ffd4"/><stop offset="0.194" stop-color="#e0ffe0"/><stop offset="0.222" stop-color="#ecffec"/><stop offset="0.250" stop-color="#f9fff9"/><stop offset="0.278" stop-color="#ffffff"/><stop offset="0.306" stop-color="#ffffff"/><stop offset="0.333" stop-color="#ffffff"/><stop offset="0.361" stop-color="#ffffff"/><stop offset="0.389" stop-color="#ffffff"/><stop offset="0.417" stop-color="#ffffff"/><stop offset="0.444" stop-color="#ffffff"/><stop offset="0.472" stop-color="#ffffff"/><stop offset="0.500" stop-color="#ffffff"/><stop offset="0.528" stop-color="#ffffff"/><stop offset="0.556" stop-color="#ffffff"/><stop offset="0.583" stop-color="#ffffff"/><stop offset="0.611" stop-color="#ffffff"/><stop offset="0.639" stop-color="#ffffff"/><stop offset="0.667" stop-color="#ffffff"/><stop offset="0.694" stop-color="#ffffff"/><stop offset="0.722" stop-color="#ffffff"/><stop offset="0.750" stop-color="#fdfffd"/><stop offset="0.778" stop-color="#f1fff1"/><stop offset="0.806" stop-color="#e5ffe5"/><stop offset="0.833" stop-color="#d9ffd9"/><stop offset="0.861" stop-color="#cdffcd"/><stop offset="0.889" stop-color="#c2ffc2"/><stop offset="0.917" stop-color="#b8ffb8"/><stop offset="0.944" stop-color="#b0ffb0"/><stop offset="0.972" stop-color="#a5ffa5"/><stop offset="1.000" stop-color="#9cff9c"/></linearGradient><linearGradient id="c86" x1="0" y1="0" x2="0" y2="1"><stop offset="0.000" stop-color="#97ff97"/><stop offset="0.028" stop-color="#9eff9e"/><stop offset="0.056" stop-color="#a8ffa8"/><stop offset="0.083" stop-color="#b2ffb2"/><stop offset="0.111" stop-color="#bbffbb"/><stop offset="0.139" stop-color="#c6ffc6"/><stop offset="0.167" stop-color="#d0ffd0"/><stop offset="0.194" stop-color="#dcffdc"/><stop offset="0.222" stop-color="#e8ffe8"/><stop offset="0.250" stop-color="#f3fff3"/><stop offset="0.278" stop-color="#ffffff"/><stop offset="0.306" stop-color="#ffffff"/><stop offset="0.333" stop-color="#ffffff"/><stop offset="0.361" stop-color="#ffffff"/><stop offset="0.389" stop-color="#ffffff"/><stop offset="0.417" stop-color="#ffffff"/><stop offset="0.444" stop-color="#ffffff"/><stop offset="0.472" stop-color="#ffffff"/><stop offset="0.500" stop-color="#ffffff"/><stop offset="0.528" stop-color="#ffffff"/><stop offset="0.556" stop-color="#ffffff"/><stop offset="0.583" stop-color="#ffffff"/><stop offset="0.611" stop-color="#ffffff"/><stop offset="0.639" stop-color="#ffffff"/><stop offset="0.667" stop-color="#ffffff"/><stop offset="0.694" stop-color="#ffffff"/><stop offset="0.722" stop-color="#ffffff"/><stop offset="0.750" stop-color="#f8fff8"/><stop offset="0.778" stop-color="#ecffec"/><stop offset="0.806" stop-color="#e0ffe0"/><stop offset="0.833" stop-color="#d5ffd5"/><stop offset="0.861" stop-color="#c9ffc9"/><stop offset="0.889" stop-color="#bfffbf"/><stop offset="0.917" stop-color="#b5ffb5"/><stop offset="0.944" stop-color="#acffac"/><stop offset="0.972" stop-color="#a2ffa2"/><stop offset="1.000" stop-color="#99ff99"/></linearGradient><linearGradient id="c87" x1="0" y1="0" x2="0" y2="1"><stop offset="0.000" stop-color="#93ff93"/><stop offset="0.028" stop-color="#9bff9b"/><stop offset="0.056" stop-color="#a3ffa3"/><stop offset="0.083" stop-color="#afffaf"/><stop offset="0.111" stop-color="#b7ffb7"/><stop offset="0.139" stop-color="#c1ffc1"/><stop offset="0.167" stop-color="#cbffcb"/><stop offset="0.194" stop-color="#d6ffd6"/><stop offset="0.222" stop-color="#e1ffe1"/><stop offset="0.250" stop-color="#edffed"/><stop offset="0.278" stop-color="#f8fff8"/><stop offset="0.306" stop-color="#ffffff"/><stop offset="0.333" stop-color="#ffffff"/><stop offset="0.361" stop-color="#ffffff"/><stop offset="0.389" stop-color="#ffffff"/><stop offset="0.417" stop-color="#ffffff"/><stop offset="0.444" stop-color="#ffffff"/><stop offset="0.472" stop-color="#ffffff"/><stop offset="0.500" stop-color="#ffffff"/><stop offset="0.528" stop-color="#ffffff"/><stop offset="0.556" stop-color="#ffffff"/><stop offset="0.583" stop-color="#ffffff"/><stop offset="0.611" stop-color="#ffffff"/><stop offset="0.639" stop-color="#ffffff"/><stop offset="0.667" stop-color="#ffffff"/><stop offset="0.694" stop-color="#ffffff"/><stop offset="0.722" stop-color="#fcfffc"/><stop offset="0.750" stop-color="#f1fff1"/><stop offset="0.778" stop-color="#e5ffe5"/><stop offset="0.806" stop-color="#daffda"/><stop offset="0.833" stop-color="#cfffcf"/><stop offset="0.861" stop-color="#c5ffc5"/><stop offset="0.889" stop-color="#bbffbb"/><stop offset="0.917" stop-color="#b2ffb2"/><stop offset="0.944" stop-color="#a7ffa7"/><stop offset="0.972" stop-color="#9eff9e"/><stop offset="1.000" stop-color="#96ff96"/></linearGradient><linearGradient id="c88" x1="0" y1="0" x2="0" y2="1"><stop offset="0.000" stop-color="#8fff8f"/><stop offset="0.028" stop-color="#96ff96"/><stop offset="0.056" stop-color="#9eff9e"/><stop offset="0.083" stop-color="#a8ffa8"/><stop offset="0.111" stop-color="#b2ffb2"/><stop offset="0.139" stop-color="#bbffbb"/><stop offset="0.167" stop-color="#c5ffc5"/><stop offset="0.194" stop-color="#cfffcf"/><stop offset="0.222" stop-color="#daffda"/><stop offset="0.250" stop-color="#e4ffe4"/><stop offset="0.278" stop-color="#efffef"/><stop offset="0.306" stop-color="#f9fff9"/><stop offset="0.333" stop-color="#ffffff"/><stop offset="0.361" stop-color="#ffffff"/><stop offset="0.389" stop-color="#ffffff"/><stop offset="0.417" stop-color="#ffffff"/><stop offset="0.444" stop-color="#ffffff"/><stop offset="0.472" stop-color="#ffffff"/><stop offset="0.500" stop-color="#ffffff"/><stop offset="0.528" stop-color="#ffffff"/><stop offset="0.556" stop-color="#ffffff"/><stop offset="0.583" stop-color="#ffffff"/><stop offset="0.611" stop-color="#ffffff"/><stop offset="0.639" stop-color="#ffffff"/><stop offset="0.667" stop-color="#ffffff"/><stop offset="0.694" stop-color="#fcfffc"/><stop offset="0.722" stop-color="#f2fff2"/><stop offset="0.750" stop-color="#e8ffe8"/><stop offset="0.778" stop-color="#deffde"/><stop offset="0.806" stop-color="#d3ffd3"/><stop offset="0.833" stop-color="#c9ffc9"/><stop offset="0.861" stop-color="#bfffbf"/><stop offset="0.889" stop-color="#b5ffb5"/><stop offset="0.917" stop-color="#acffac"/><stop offset="0.944" stop-color="#a1ffa1"/><stop offset="0.972" stop-color="#99ff99"/><stop offset="1.000" stop-color="#92ff92"/></linearGradient><linearGradient id="c89" x1="0" y1="0" x2="0" y2="1"><stop offset="0.000" stop-color="#8bff8b"/><stop offset="0.028" stop-color="#91ff91"/><stop offset="0.056" stop-color="#98ff98"/><stop offset="0.083" stop-color="#a1ffa1"/><stop offset="0.111" stop-color="#acffac"/><stop offset="0.139" stop-color="#b5ffb5"/><stop offset="0.167" stop-color="#beffbe"/><stop offset="0.194" stop-color="#c7ffc7"/><stop offset="0.222" stop-color="#d1ffd1"/><stop offset="0.250" stop-color="#dbffdb"/><stop offset="0.278" stop-color="#e5ffe5"/><stop offset="0.306" stop-color="#eeffee"/><stop offset="0.333" stop-color="#f7fff7"/><stop offset="0.361" stop-color="#ffffff"/><stop offset="0.389" stop-color="#ffffff"/><stop offset="0.417" stop-color="#ffffff"/><stop offset="0.444" stop-color="#ffffff"/><stop offset="0.472" stop-color="#ffffff"/><stop offset="0.500" stop-color="#ffffff"/><stop offset="0.528" stop-color="#ffffff"/><stop offset="0.556" stop-color="#ffffff"/><stop offset="0.583" stop-color="#ffffff"/><stop offset="0.611" stop-color="#ffffff"/><stop offset="0.639" stop-color="#ffffff"/><stop offset="0.667" stop-color="#fafffa"/><stop offset="0.694" stop-color="#f1fff1"/><stop offset="0.722" stop-color="#e8ffe8"/><stop offset="0.750" stop-color="#deffde"/><stop offset="0.778" stop-color="#d4ffd4"/><stop offset="0.806" stop-color="#cbffcb"/><stop offset="0.833" stop-color="#c1ffc1"/><stop offset="0.861" stop-color="#b8ffb8"/><stop offset="0.889" stop-color="#b0ffb0"/><stop offset="0.917" stop-color="#a4ffa4"/><stop offset="0.944" stop-color="#9bff9b"/><stop offset="0.972" stop-color="#94ff94"/><stop offset="1.000" stop-color="#8dff8d"/></linearGradient><linearGradient id="c90" x1="0" y1="0" x2="0" y2="1"><stop offset="0.000" stop-color="#85ff85"/><stop offset="0.028" stop-color="#8bff8b"/><stop offset="0.056" stop-color="#92ff92"/><stop offset="0.083" stop-color="#99ff99"/><stop offset="0.111" stop-color="#a2ffa2"/><stop offset="0.139" stop-color="#adffad"/><stop offset="0.167" stop-color="#b6ffb6"/><stop offset="0.194" stop-color="#beffbe"/><stop offset="0.222" stop-color="#c7ffc7"/><stop offset="0.250" stop-color="#d0ffd0"/><stop offset="0.278" stop-color="#d9ffd9"/><stop offset="0.306" stop-color="#e2ffe2"/><stop offset="0.333" stop-color="#eaffea"/><stop offset="0.361" stop-color="#f1fff1"/><stop offset="0.389" stop-color="#f8fff8"/><stop offset="0.417" stop-color="#fdfffd"/><stop offset="0.444" stop-color="#ffffff"/><stop offset="0.472" stop-color="#ffffff"/><stop offset="0.500" stop-color="#ffffff"/><stop offset="0.528" stop-color="#ffffff"/><stop offset="0.556" stop-color="#ffffff"/><stop offset="0.583" stop-color="#fefffe"/><stop offset="0.611" stop-color="#fafffa"/><stop offset="0.639" stop-color="#f4fff4"/><stop offset="0.667" stop-color="#edffed"/><stop offset="0.694" stop-color="#e5ffe5"/><stop offset="0.722" stop-color="#dcffdc"/><stop offset="0.750" stop-color="#d4ffd4"/><stop offset="0.778" stop-color="#caffca"/><stop offset="0.806" stop-color="#c1ffc1"/><stop offset="0.833" stop-color="#b9ffb9"/><stop offset="0.861" stop-color="#b1ffb1"/><stop offset="0.889" stop-color="#a6ffa6"/><stop offset="0.917" stop-color="#9cff9c"/><stop offset="0.944" stop-color="#94ff94"/><stop offset="0.972" stop-color="#8eff8e"/><stop offset="1.000" stop-color="#87ff87"/></linearGradient><linearGradient id="c91" x1="0" y1="0" x2="0" y2="1"><stop offset="0.000" stop-color="#7fff7f"/><stop offset="0.028" stop-color="#85ff85"/><stop offset="0.056" stop-color="#8bff8b"/><stop offset="0.083" stop-color="#91ff91"/><stop offset="0.111" stop-color="#98ff98"/><stop offset="0.139" stop-color="#a2ffa2"/><stop offset="0.167" stop-color="#adffad"/><stop offset="0.194" stop-color="#b5ffb5"/><stop offset="0.222" stop-color="#bdffbd"/><stop offset="0.250" stop-color="#c5ffc5"/><stop offset="0.278" stop-color="#cdffcd"/><stop offset="0.306" stop-color="#d5ffd5"/><stop offset="0.333" stop-color="#dcffdc"/><stop offset="0.361" stop-color="#e3ffe3"/><stop offset="0.389" stop-color="#e9ffe9"/><stop offset="0.417" stop-color="#eeffee"/><stop offset="0.444" stop-color="#f1fff1"/><stop offset="0.472" stop-color="#f3fff3"/><stop offset="0.500" stop-color="#f4fff4"/><stop offset="0.528" stop-color="#f4fff4"/><stop offset="0.556" stop-color="#f2fff2"/><stop offset="0.583" stop-color="#efffef"/><stop offset="0.611" stop-color="#ebffeb"/><stop offset="0.639" stop-color="#e5ffe5"/><stop offset="0.667" stop-color="#dfffdf"/><stop offset="0.694" stop-color="#d8ffd8"/><stop offset="0.722" stop-color="#d0ffd0"/><stop offset="0.750" stop-color="#c8ffc8"/><stop offset="0.778" stop-color="#c0ffc0"/><stop offset="0.806" stop-color="#b8ffb8"/><stop offset="0.833" stop-color="#b0ffb0"/><stop offset="0.861" stop-color="#a6ffa6"/><stop offset="0.889" stop-color="#9cff9c"/><stop offset="0.917" stop-color="#93ff93"/><stop offset="0.944" stop-color="#8dff8d"/><stop offset="0.972" stop-color="#87ff87"/><stop offset="1.000" stop-color="#81ff81"/></linearGradient><linearGradient id="c92" x1="0" y1="0" x2="0" y2="1"><stop offset="0.000" stop-color="#78ff78"/><stop offset="0.028" stop-color="#7eff7e"/><stop offset="0.056" stop-color="#84ff84"/><stop offset="0.083" stop-color="#89ff89"/><stop offset="0.111" stop-color="#8fff8f"/><stop offset="0.139" stop-color="#96ff96"/><stop offset="0.167" stop-color="#a0ffa0"/><stop offset="0.194" stop-color="#aaffaa"/><stop offset="0.222" stop-color="#b2ffb2"/><stop offset="0.250" stop-color="#baffba"/><stop offset="0.278" stop-color="#c1ffc1"/><stop offset="0.306" stop-color="#c8ffc8"/><stop offset="0.333" stop-color="#ceffce"/><stop offset="0.361" stop-color="#d4ffd4"/><stop offset="0.389" stop-color="#d9ffd9"/><stop offset="0.417" stop-color="#deffde"/><stop offset="0.444" stop-color="#e1ffe1"/><stop offset="0.472" stop-color="#e3ffe3"/><stop offset="0.500" stop-color="#e4ffe4"/><stop offset="0.528" stop-color="#e3ffe3"/><stop offset="0.556" stop-color="#e2ffe2"/><stop offset="0.583" stop-color="#dfffdf"/><stop offset="0.611" stop-color="#dbffdb"/><stop offset="0.639" stop-color="#d6ffd6"/><stop offset="0.667" stop-color="#d1ffd1"/><stop offset="0.694" stop-color="#caffca"/><stop offset="0.722" stop-color="#c3ffc3"/><stop offset="0.750" stop-color="#bcffbc"/><stop offset="0.778" stop-color="#b5ffb5"/><stop offset="0.806" stop-color="#adffad"/><stop offset="0.833" stop-color="#a3ffa3"/><stop offset="0.861" stop-color="#9aff9a"/><stop offset="0.889" stop-color="#91ff91"/><stop offset="0.917" stop-color="#8bff8b"/><stop offset="0.944" stop-color="#86ff86"/><stop offset="0.972" stop-color="#80ff80"/><stop offset="1.000" stop-color="#7bff7b"/></linearGradient><linearGradient id="c93" x1="0" y1="0" x2="0" y2="1"><stop offset="0.000" stop-color="#71ff71"/><stop offset="0.028" stop-color="#77ff77"/><stop offset="0.056" stop-color="#7cff7c"/><stop offset="0.083" stop-color="#81ff81"/><stop offset="0.111" stop-color="#86ff86"/><stop offset="0.139" stop-color="#8cff8c"/><stop offset="0.167" stop-color="#93ff93"/><stop offset="0.194" stop-color="#9bff9b"/><stop offset="0.222" stop-color="#a4ffa4"/><stop offset="0.250" stop-color="#aeffae"/><stop offset="0.278" stop-color="#b4ffb4"/><stop offset="0.306" stop-color="#baffba"/><stop offset="0.333" stop-color="#c0ffc0"/><stop offset="0.361" stop-color="#c5ffc5"/><stop offset="0.389" stop-color="#caffca"/><stop offset="0.417" stop-color="#ceffce"/><stop offset="0.444" stop-color="#d1ffd1"/><stop offset="0.472" stop-color="#d2ffd2"/><stop offset="0.500" stop-color="#d3ffd3"/><stop offset="0.528" stop-color="#d3ffd3"/><stop offset="0.556" stop-color="#d1ffd1"/><stop offset="0.583" stop-color="#cfffcf"/><stop offset="0.611" stop-color="#cbffcb"/><stop offset="0.639" stop-color="#c7ffc7"/><stop offset="0.667" stop-color="#c2ffc2"/><stop offset="0.694" stop-color="#bdffbd"/><stop offset="0.722" stop-color="#b7ffb7"/><stop offset="0.750" stop-color="#b0ffb0"/><stop offset="0.778" stop-color="#a8ffa8"/><stop offset="0.806" stop-color="#9eff9e"/><stop offset="0.833" stop-color="#96ff96"/><stop offset="0.861" stop-color="#8eff8e"/><stop offset="0.889" stop-color="#88ff88"/><stop offset="0.917" stop-color="#83ff83"/><stop offset="0.944" stop-color="#7eff7e"/><stop offset="0.972" stop-color="#79ff79"/><stop offset="1.000" stop-color="#73ff73"/></linearGradient><linearGradient id="c94" x1="0" y1="0" x2="0" y2="1"><stop offset="0.000" stop-color="#6aff6a"/><stop offset="0.028" stop-color="#6fff6f"/><stop offset="0.056" stop-color="#74ff74"/><stop offset="0.083" stop-color="#79ff79"/><stop offset="0.111" stop-color="#7dff7d"/><stop offset="0.139" stop-color="#82ff82"/><stop offset="0.167" stop-color="#87ff87"/><stop offset="0.194" stop-color="#8dff8d"/><stop offset="0.222" stop-color="#95ff95"/><stop offset="0.250" stop-color="#9cff9c"/><stop offset="0.278" stop-color="#a5ffa5"/><stop offset="0.306" stop-color="#adffad"/><stop offset="0.333" stop-color="#b2ffb2"/><stop offset="0.361" stop-color="#b7ffb7"/><stop offset="0.389" stop-color="#bbffbb"/><stop offset="0.417" stop-color="#beffbe"/><stop offset="0.444" stop-color="#c1ffc1"/><stop offset="0.472" stop-color="#c2ffc2"/><stop offset="0.500" stop-color="#c3ffc3"/><stop offset="0.528" stop-color="#c2ffc2"/><stop offset="0.556" stop-color="#c1ffc1"/><stop offset="0.583" stop-color="#bfffbf"/><stop offset="0.611" stop-color="#bcffbc"/><stop offset="0.639" stop-color="#b8ffb8"/><stop offset="0.667" stop-color="#b4ffb4"/><stop offset="0.694" stop-color="#afffaf"/><stop offset="0.722" stop-color="#a7ffa7"/><stop offset="0.750" stop-color="#9fff9f"/><stop offset="0.778" stop-color="#97ff97"/><stop offset="0.806" stop-color="#90ff90"/><stop offset="0.833" stop-color="#89ff89"/><stop offset="0.861" stop-color="#83ff83"/><stop offset="0.889" stop-color="#7fff7f"/><stop offset="0.917" stop-color="#7bff7b"/><stop offset="0.944" stop-color="#76ff76"/><stop offset="0.972" stop-color="#71ff71"/><stop offset="1.000" stop-color="#6cff6c"/></linearGradient><linearGradient id="c95" x1="0" y1="0" x2="0" y2="1"><stop offset="0.000" stop-color="#63ff63"/><stop offset="0.028" stop-color="#68ff68"/><stop offset="0.056" stop-color="#6cff6c"/><stop offset="0.083" stop-color="#71ff71"/><stop offset="0.111" stop-color="#75ff75"/><stop offset="0.139" stop-color="#79ff79"/><stop offset="0.167" stop-color="#7cff7c"/><stop offset="0.194" stop-color="#81ff81"/><stop offset="0.222" stop-color="#86ff86"/><stop offset="0.250" stop-color="#8cff8c"/><stop offset="0.278" stop-color="#93ff93"/><stop offset="0.306" stop-color="#99ff99"/><stop offset="0.333" stop-color="#a0ffa0"/><stop offset="0.361" stop-color="#a5ffa5"/><stop offset="0.389" stop-color="#abffab"/><stop offset="0.417" stop-color="#afffaf"/><stop offset="0.444" stop-color="#b1ffb1"/><stop offset="0.472" stop-color="#b2ffb2"/><stop offset="0.500" stop-color="#b3ffb3"/><stop offset="0.528" stop-color="#b3ffb3"/><stop offset="0.556" stop-color="#b2ffb2"/><stop offset="0.583" stop-color="#b0ffb0"/><stop offset="0.611" stop-color="#acffac"/><stop offset="0.639" stop-color="#a7ffa7"/><stop offset="0.667" stop-color="#a2ffa2"/><stop offset="0.694" stop-color="#9cff9c"/><stop offset="0.722" stop-color="#95ff95"/><stop offset="0.750" stop-color="#8fff8f"/><stop offset="0.778" stop-color="#88ff88"/><stop offset="0.806" stop-color="#83ff83"/><stop offset="0.833" stop-color="#7eff7e"/><stop offset="0.861" stop-color="#7aff7a"/><stop offset="0.889" stop-color="#76ff76"/><stop offset="0.917" stop-color="#72ff72"/><stop offset="0.944" stop-color="#6eff6e"/><stop offset="0.972" stop-color="#69ff69"/><stop offset="1.000" stop-color="#65ff65"/></linearGradient><linearGradient id="c96" x1="0" y1="0" x2="0" y2="1"><stop offset="0.000" stop-color="#5bff5b"/><stop offset="0.028" stop-color="#60ff60"/><stop offset="0.056" stop-color="#64ff64"/><stop offset="0.083" stop-color="#68ff68"/><stop offset="0.111" stop-color="#6cff6c"/><stop offset="0.139" stop-color="#70ff70"/><stop offset="0.167" stop-color="#73ff73"/><stop offset="0.194" stop-color="#76ff76"/><stop offset="0.222" stop-color="#79ff79"/><stop offset="0.250" stop-color="#7eff7e"/><stop offset="0.278" stop-color="#83ff83"/><stop offset="0.306" stop-color="#88ff88"/><stop offset="0.333" stop-color="#8dff8d"/><stop offset="0.361" stop-color="#91ff91"/><stop offset="0.389" stop-color="#95ff95"/><stop offset="0.417" stop-color="#99ff99"/><stop offset="0.444" stop-color="#9cff9c"/><stop offset="0.472" stop-color="#9dff9d"/><stop offset="0.500" stop-color="#9eff9e"/><stop offset="0.528" stop-color="#9eff9e"/><stop offset="0.556" stop-color="#9cff9c"/><stop offset="0.583" stop-color="#9aff9a"/><stop offset="0.611" stop-color="#97ff97"/><stop offset="0.639" stop-color="#93ff93"/><stop offset="0.667" stop-color="#8eff8e"/><stop offset="0.694" stop-color="#89ff89"/><stop offset="0.722" stop-color="#84ff84"/><stop offset="0.750" stop-color="#7fff7f"/><stop offset="0.778" stop-color="#7bff7b"/><stop offset="0.806" stop-color="#77ff77"/><stop offset="0.833" stop-color="#74ff74"/><stop offset="0.861" stop-color="#71ff71"/><stop offset="0.889" stop-color="#6dff6d"/><stop offset="0.917" stop-color="#6aff6a"/><stop offset="0.944" stop-color="#66ff66"/><stop offset="0.972" stop-color="#61ff61"/><stop offset="1.000" stop-color="#5dff5d"/></linearGradient><linearGradient id="c97" x1="0" y1="0" x2="0" y2="1"><stop offset="0.000" stop-color="#54ff54"/><stop offset="0.028" stop-color="#58ff58"/><stop offset="0.056" stop-color="#5cff5c"/><stop offset="0.083" stop-color="#60ff60"/><stop offset="0.111" stop-color="#63ff63"/><stop offset="0.139" stop-color="#66ff66"/><stop offset="0.167" stop-color="#6aff6a"/><stop offset="0.194" stop-color="#6cff6c"/><stop offset="0.222" stop-color="#6fff6f"/><stop offset="0.250" stop-color="#71ff71"/><stop offset="0.278" stop-color="#75ff75"/><stop offset="0.306" stop-color="#78ff78"/><stop offset="0.333" stop-color="#7cff7c"/><stop offset="0.361" stop-color="#7fff7f"/><stop offset="0.389" stop-color="#82ff82"/><stop offset="0.417" stop-color="#85ff85"/><stop offset="0.444" stop-color="#87ff87"/><stop offset="0.472" stop-color="#88ff88"/><stop offset="0.500" stop-color="#89ff89"/><stop offset="0.528" stop-color="#89ff89"/><stop offset="0.556" stop-color="#88ff88"/><stop offset="0.583" stop-color="#86ff86"/><stop offset="0.611" stop-color="#83ff83"/><stop offset="0.639" stop-color="#80ff80"/><stop offset="0.667" stop-color="#7dff7d"/><stop offset="0.694" stop-color="#79ff79"/><stop offset="0.722" stop-color="#76ff76"/><stop offset="0.750" stop-color="#73ff73"/><stop offset="0.778" stop-color="#70ff70"/><stop offset="0.806" stop-color="#6dff6d"/><stop offset="0.833" stop-color="#6bff6b"/><stop offset="0.861" stop-color="#68ff68"/><stop offset="0.889" stop-color="#64ff64"/><stop offset="0.917" stop-color="#61ff61"/><stop offset="0.944" stop-color="#5dff5d"/><stop offset="0.972" stop-color="#59ff59"/><stop offset="1.000" stop-color="#55ff55"/></linearGradient><linearGradient id="c98" x1="0" y1="0" x2="0" y2="1"><stop offset="0.000" stop-color="#4cff4c"/><stop offset="0.028" stop-color="#50ff50"/><stop offset="0.056" stop-color="#54ff54"/><stop offset="0.083" stop-color="#57ff57"/><stop offset="0.111" stop-color="#5aff5a"/><stop offset="0.139" stop-color="#5dff5d"/><stop offset="0.167" stop-color="#60ff60"/><stop offset="0.194" stop-color="#63ff63"/><stop offset="0.222" stop-color="#65ff65"/><stop offset="0.250" stop-color="#67ff67"/><stop offset="0.278" stop-color="#69ff69"/><stop offset="0.306" stop-color="#6bff6b"/><stop offset="0.333" stop-color="#6dff6d"/><stop offset="0.361" stop-color="#70ff70"/><stop offset="0.389" stop-color="#72ff72"/><stop offset="0.417" stop-color="#74ff74"/><stop offset="0.444" stop-color="#75ff75"/><stop offset="0.472" stop-color="#76ff76"/><stop offset="0.500" stop-color="#77ff77"/><stop offset="0.528" stop-color="#76ff76"/><stop offset="0.556" stop-color="#76ff76"/><stop offset="0.583" stop-color="#74ff74"/><stop offset="0.611" stop-color="#73ff73"/><stop offset="0.639" stop-color="#71ff71"/><stop offset="0.667" stop-color="#6eff6e"/><stop offset="0.694" stop-color="#6cff6c"/><stop offset="0.722" stop-color="#6aff6a"/><stop offset="0.750" stop-color="#68ff68"/><stop offset="0.778" stop-color="#66ff66"/><stop offset="0.806" stop-color="#64ff64"/><stop offset="0.833" stop-color="#61ff61"/><stop offset="0.861" stop-color="#5fff5f"/><stop offset="0.889" stop-color="#5cff5c"/><stop offset="0.917" stop-color="#58ff58"/><stop offset="0.944" stop-color="#55ff55"/><stop offset="0.972" stop-color="#51ff51"/><stop offset="1.000" stop-color="#4eff4e"/></linearGradient><linearGradient id="c99" x1="0" y1="0" x2="0" y2="1"><stop offset="0.000" stop-color="#45ff45"/><stop offset="0.028" stop-color="#48ff48"/><stop offset="0.056" stop-color="#4cff4c"/><stop offset="0.083" stop-color="#4fff4f"/><stop offset="0.111" stop-color="#52ff52"/><stop offset="0.139" stop-color="#55ff55"/><stop offset="0.167" stop-color="#57ff57"/><stop offset="0.194" stop-color="#5aff5a"/><stop offset="0.222" stop-color="#5cff5c"/><stop offset="0.250" stop-color="#5eff5e"/><stop offset="0.278" stop-color="#5fff5f"/><stop offset="0.306" stop-color="#61ff61"/><stop offset="0.333" stop-color="#62ff62"/><stop offset="0.361" stop-color="#64ff64"/><stop offset="0.389" stop-color="#65ff65"/><stop offset="0.417" stop-color="#66ff66"/><stop offset="0.444" stop-color="#67ff67"/><stop offset="0.472" stop-color="#67ff67"/><stop offset="0.500" stop-color="#68ff68"/><stop offset="0.528" stop-color="#67ff67"/><stop offset="0.556" stop-color="#67ff67"/><stop offset="0.583" stop-color="#66ff66"/><stop offset="0.611" stop-color="#65ff65"/><stop offset="0.639" stop-color="#64ff64"/><stop offset="0.667" stop-color="#63ff63"/><stop offset="0.694" stop-color="#62ff62"/><stop offset="0.722" stop-color="#60ff60"/><stop offset="0.750" stop-color="#5eff5e"/><stop offset="0.778" stop-color="#5dff5d"/><stop offset="0.806" stop-color="#5aff5a"/><stop offset="0.833" stop-color="#58ff58"/><stop offset="0.861" stop-color="#56ff56"/><stop offset="0.889" stop-color="#53ff53"/><stop offset="0.917" stop-color="#50ff50"/><stop offset="0.944" stop-color="#4dff4d"/><stop offset="0.972" stop-color="#4aff4a"/><stop offset="1.000" stop-color="#46ff46"/></linearGradient><linearGradient id="c100" x1="0" y1="0" x2="0" y2="1"><stop offset="0.000" stop-color="#3eff3e"/><stop offset="0.028" stop-color="#41ff41"/><stop offset="0.056" stop-color="#44ff44"/><stop offset="0.083" stop-color="#47ff47"/><stop offset="0.111" stop-color="#4aff4a"/><stop offset="0.139" stop-color="#4cff4c"/><stop offset="0.167" stop-color="#4eff4e"/><stop offset="0.194" stop-color="#51ff51"/><stop offset="0.222" stop-color="#53ff53"/><stop offset="0.250" stop-color="#54ff54"/><stop offset="0.278" stop-color="#56ff56"/><stop offset="0.306" stop-color="#57ff57"/><stop offset="0.333" stop-color="#59ff59"/><stop offset="0.361" stop-color="#5aff5a"/><stop offset="0.389" stop-color="#5bff5b"/><stop offset="0.417" stop-color="#5bff5b"/><stop offset="0.444" stop-color="#5cff5c"/><stop offset="0.472" stop-color="#5cff5c"/><stop offset="0.500" stop-color="#5cff5c"/><stop offset="0.528" stop-color="#5cff5c"/><stop offset="0.556" stop-color="#5cff5c"/><stop offset="0.583" stop-color="#5bff5b"/><stop offset="0.611" stop-color="#5bff5b"/><stop offset="0.639" stop-color="#5aff5a"/><stop offset="0.667" stop-color="#59ff59"/><stop offset="0.694" stop-color="#58ff58"/><stop offset="0.722" stop-color="#56ff56"/><stop offset="0.750" stop-color="#55ff55"/><stop offset="0.778" stop-color="#53ff53"/><stop offset="0.806" stop-color="#51ff51"/><stop offset="0.833" stop-color="#4fff4f"/><stop offset="0.861" stop-color="#4dff4d"/><stop offset="0.889" stop-color="#4aff4a"/><stop offset="0.917" stop-color="#48ff48"/><stop offset="0.944" stop-color="#45ff45"/><stop offset="0.972" stop-color="#42ff42"/><stop offset="1.000" stop-color="#3fff3f"/></linearGradient><linearGradient id="c101" x1="0" y1="0" x2="0" y2="1"><stop offset="0.000" stop-color="#37ff37"/><stop offset="0.028" stop-color="#3aff3a"/><stop offset="0.056" stop-color="#3cff3c"/><stop offset="0.083" stop-color="#3fff3f"/><stop offset="0.111" stop-color="#41ff41"/><stop offset="0.139" stop-color="#44ff44"/><stop offset="0.167" stop-color="#46ff46"/><stop offset="0.194" stop-color="#48ff48"/><stop offset="0.222" stop-color="#4aff4a"/><stop offset="0.250" stop-color="#4bff4b"/><stop offset="0.278" stop-color="#4dff4d"/><stop offset="0.306" stop-color="#4eff4e"/><stop offset="0.333" stop-color="#4fff4f"/><stop offset="0.361" stop-color="#50ff50"/><stop offset="0.389" stop-color="#51ff51"/><stop offset="0.417" stop-color="#52ff52"/><stop offset="0.444" stop-color="#52ff52"/><stop offset="0.472" stop-color="#52ff52"/><stop offset="0.500" stop-color="#52ff52"/><stop offset="0.528" stop-color="#52ff52"/><stop offset="0.556" stop-color="#52ff52"/><stop offset="0.583" stop-color="#52ff52"/><stop offset="0.611" stop-color="#51ff51"/><stop offset="0.639" stop-color="#50ff50"/><stop offset="0.667" stop-color="#50ff50"/><stop offset="0.694" stop-color="#4eff4e"/><stop offset="0.722" stop-color="#4dff4d"/><stop offset="0.750" stop-color="#4cff4c"/><stop offset="0.778" stop-color="#4aff4a"/><stop offset="0.806" stop-color="#49ff49"/><stop offset="0.833" stop-color="#47ff47"/><stop offset="0.861" stop-color="#45ff45"/><stop offset="0.889" stop-color="#42ff42"/><stop offset="0.917" stop-color="#40ff40"/><stop offset="0.944" stop-color="#3dff3d"/><stop offset="0.972" stop-color="#3bff3b"/><stop offset="1.000" stop-color="#38ff38"/></linearGradient><linearGradient id="c102" x1="0" y1="0" x2="0" y2="1"><stop offset="0.000" stop-color="#30ff30"/><stop offset="0.028" stop-color="#33ff33"/><stop offset="0.056" stop-color="#35ff35"/><stop offset="0.083" stop-color="#38ff38"/><stop offset="0.111" stop-color="#3aff3a"/><stop offset="0.139" stop-color="#3cff3c"/><stop offset="0.167" stop-color="#3eff3e"/><stop offset="0.194" stop-color="#40ff40"/><stop offset="0.222" stop-color="#41ff41"/><stop offset="0.250" stop-color="#43ff43"/><stop offset="0.278" stop-color="#44ff44"/><stop offset="0.306" stop-color="#45ff45"/><stop offset="0.333" stop-color="#46ff46"/><stop offset="0.361" stop-color="#47ff47"/><stop offset="0.389" stop-color="#48ff48"/><stop offset="0.417" stop-color="#48ff48"/><stop offset="0.444" stop-color="#49ff49"/><stop offset="0.472" stop-color="#49ff49"/><stop offset="0.500" stop-color="#49ff49"/><stop offset="0.528" stop-color="#49ff49"/><stop offset="0.556" stop-color="#49ff49"/><stop offset="0.583" stop-color="#48ff48"/><stop offset="0.611" stop-color="#48ff48"/><stop offset="0.639" stop-color="#47ff47"/><stop offset="0.667" stop-color="#46ff46"/><stop offset="0.694" stop-color="#46ff46"/><stop offset="0.722" stop-color="#44ff44"/><stop offset="0.750" stop-color="#43ff43"/><stop offset="0.778" stop-color="#42ff42"/><stop offset="0.806" stop-color="#40ff40"/><stop offset="0.833" stop-color="#3eff3e"/><stop offset="0.861" stop-color="#3dff3d"/><stop offset="0.889" stop-color="#3bff3b"/><stop offset="0.917" stop-color="#38ff38"/><stop offset="0.944" stop-color="#36ff36"/><stop offset="0.972" stop-color="#34ff34"/><stop offset="1.000" stop-color="#31ff31"/></linearGradient><linearGradient id="c103" x1="0" y1="0" x2="0" y2="1"><stop offset="0.000" stop-color="#2aff2a"/><stop offset="0.028" stop-color="#2cff2c"/><stop offset="0.056" stop-color="#2eff2e"/><stop offset="0.083" stop-color="#31ff31"/><stop offset="0.111" stop-color="#33ff33"/><stop offset="0.139" stop-color="#34ff34"/><stop offset="0.167" stop-color="#36ff36"/><stop offset="0.194" stop-color="#38ff38"/><stop offset="0.222" stop-color="#39ff39"/><stop offset="0.250" stop-color="#3aff3a"/><stop offset="0.278" stop-color="#3cff3c"/><stop offset="0.306" stop-color="#3dff3d"/><stop offset="0.333" stop-color="#3eff3e"/><stop offset="0.361" stop-color="#3eff3e"/><stop offset="0.389" stop-color="#3fff3f"/><stop offset="0.417" stop-color="#40ff40"/><stop offset="0.444" stop-color="#40ff40"/><stop offset="0.472" stop-color="#40ff40"/><stop offset="0.500" stop-color="#40ff40"/><stop offset="0.528" stop-color="#40ff40"/><stop offset="0.556" stop-color="#40ff40"/><stop offset="0.583" stop-color="#40ff40"/><stop offset="0.611" stop-color="#3fff3f"/><stop offset="0.639" stop-color="#3fff3f"/><stop offset="0.667" stop-color="#3eff3e"/><stop offset="0.694" stop-color="#3dff3d"/><stop offset="0.722" stop-color="#3cff3c"/><stop offset="0.750" stop-color="#3bff3b"/><stop offset="0.778" stop-color="#3aff3a"/><stop offset="0.806" stop-color="#38ff38"/><stop offset="0.833" stop-color="#37ff37"/><stop offset="0.861" stop-color="#35ff35"/><stop offset="0.889" stop-color="#33ff33"/><stop offset="0.917" stop-color="#31ff31"/><stop offset="0.944" stop-color="#2fff2f"/><stop offset="0.972" stop-color="#2dff2d"/><stop offset="1.000" stop-color="#2bff2b"/></linearGradient><linearGradient id="c104" x1="0" y1="0" x2="0" y2="1"><stop offset="0.000" stop-color="#24ff24"/><stop offset="0.028" stop-color="#26ff26"/><stop offset="0.056" stop-color="#28ff28"/><stop offset="0.083" stop-color="#2aff2a"/><stop offset="0.111" stop-color="#2cff2c"/><stop offset="0.139" stop-color="#2dff2d"/><stop offset="0.167" stop-color="#2fff2f"/><stop offset="0.194" stop-color="#30ff30"/><stop offset="0.222" stop-color="#32ff32"/><stop offset="0.250" stop-color="#33ff33"/><stop offset="0.278" stop-color="#34ff34"/><stop offset="0.306" stop-color="#35ff35"/><stop offset="0.333" stop-color="#36ff36"/><stop offset="0.361" stop-color="#36ff36"/><stop offset="0.389" stop-color="#37ff37"/><stop offset="0.417" stop-color="#37ff37"/><stop offset="0.444" stop-color="#38ff38"/><stop offset="0.472" stop-color="#38ff38"/><stop offset="0.500" stop-color="#38ff38"/><stop offset="0.528" stop-color="#38ff38"/><stop offset="0.556" stop-color="#38ff38"/><stop offset="0.583" stop-color="#37ff37"/><stop offset="0.611" stop-color="#37ff37"/><stop offset="0.639" stop-color="#36ff36"/><stop offset="0.667" stop-color="#36ff36"/><stop offset="0.694" stop-color="#35ff35"/><stop offset="0.722" stop-color="#34ff34"/><stop offset="0.750" stop-color="#33ff33"/><stop offset="0.778" stop-color="#32ff32"/><stop offset="0.806" stop-color="#31ff31"/><stop offset="0.833" stop-color="#2fff2f"/><stop offset="0.861" stop-color="#2eff2e"/><stop offset="0.889" stop-color="#2cff2c"/><stop offset="0.917" stop-color="#2bff2b"/><stop offset="0.944" stop-color="#29ff29"/><stop offset="0.972" stop-color="#27ff27"/><stop offset="1.000" stop-color="#25ff25"/></linearGradient><linearGradient id="c105" x1="0" y1="0" x2="0" y2="1"><stop offset="0.000" stop-color="#1eff1e"/><stop offset="0.028" stop-color="#20ff20"/><stop offset="0.056" stop-color="#22ff22"/><stop offset="0.083" stop-color="#24ff24"/><stop offset="0.111" stop-color="#25ff25"/><stop offset="0.139" stop-color="#27ff27"/><stop offset="0.167" stop-color="#28ff28"/><stop offset="0.194" stop-color="#29ff29"/><stop offset="0.222" stop-color="#2bff2b"/><stop offset="0.250" stop-color="#2cff2c"/><stop offset="0.278" stop-color="#2dff2d"/><stop offset="0.306" stop-color="#2dff2d"/><stop offset="0.333" stop-color="#2eff2e"/><stop offset="0.361" stop-color="#2fff2f"/><stop offset="0.389" stop-color="#2fff2f"/><stop offset="0.417" stop-color="#30ff30"/><stop offset="0.444" stop-color="#30ff30"/><stop offset="0.472" stop-color="#30ff30"/><stop offset="0.500" stop-color="#30ff30"/><stop offset="0.528" stop-color="#30ff30"/><stop offset="0.556" stop-color="#30ff30"/><stop offset="0.583" stop-color="#30ff30"/><stop offset="0.611" stop-color="#2fff2f"/><stop offset="0.639" stop-color="#2fff2f"/><stop offset="0.667" stop-color="#2eff2e"/><stop offset="0.694" stop-color="#2eff2e"/><stop offset="0.722" stop-color="#2dff2d"/><stop offset="0.750" stop-color="#2cff2c"/><stop offset="0.778" stop-color="#2bff2b"/><stop offset="0.806" stop-color="#2aff2a"/><stop offset="0.833" stop-color="#29ff29"/><stop offset="0.861" stop-color="#27ff27"/><stop offset="0.889" stop-color="#26ff26"/><stop offset="0.917" stop-color="#24ff24"/><stop offset="0.944" stop-color="#23ff23"/><stop offset="0.972" stop-color="#21ff21"/><stop offset="1.000" stop-color="#1fff1f"/></linearGradient><linearGradient id="c106" x1="0" y1="0" x2="0" y2="1"><stop offset="0.000" stop-color="#19ff19"/><stop offset="0.028" stop-color="#1bff1b"/><stop offset="0.056" stop-color="#1dff1d"/><stop offset="0.083" stop-color="#1eff1e"/><stop offset="0.111" stop-color="#1fff1f"/><stop offset="0.139" stop-color="#21ff21"/><stop offset="0.167" stop-color="#22ff22"/><stop offset="0.194" stop-color="#23ff23"/><stop offset="0.222" stop-color="#24ff24"/><stop offset="0.250" stop-color="#25ff25"/><stop offset="0.278" stop-color="#26ff26"/><stop offset="0.306" stop-color="#27ff27"/><stop offset="0.333" stop-color="#27ff27"/><stop offset="0.361" stop-color="#28ff28"/><stop offset="0.389" stop-color="#28ff28"/><stop offset="0.417" stop-color="#28ff28"/><stop offset="0.444" stop-color="#29ff29"/><stop offset="0.472" stop-color="#29ff29"/><stop offset="0.500" stop-color="#29ff29"/><stop offset="0.528" stop-color="#29ff29"/><stop offset="0.556" stop-color="#29ff29"/><stop offset="0.583" stop-color="#29ff29"/><stop offset="0.611" stop-color="#28ff28"/><stop offset="0.639" stop-color="#28ff28"/><stop offset="0.667" stop-color="#27ff27"/><stop offset="0.694" stop-color="#27ff27"/><stop offset="0.722" stop-color="#26ff26"/><stop offset="0.750" stop-color="#25ff25"/><stop offset="0.778" stop-color="#24ff24"/><stop offset="0.806" stop-color="#23ff23"/><stop offset="0.833" stop-color="#22ff22"/><stop offset="0.861" stop-color="#21ff21"/><stop offset="0.889" stop-color="#20ff20"/><stop offset="0.917" stop-color="#1fff1f"/><stop offset="0.944" stop-color="#1dff1d"/><stop offset="0.972" stop-color="#1cff1c"/><stop offset="1.000" stop-color="#1aff1a"/></linearGradient><linearGradient id="c107" x1="0" y1="0" x2="0" y2="1"><stop offset="0.000" stop-color="#15ff15"/><stop offset="0.028" stop-color="#16ff16"/><stop offset="0.056" stop-color="#18ff18"/><stop offset="0.083" stop-color="#19ff19"/><stop offset="0.111" stop-color="#1aff1a"/><stop offset="0.139" stop-color="#1bff1b"/><stop offset="0.167" stop-color="#1cff1c"/><stop offset="0.194" stop-color="#1dff1d"/><stop offset="0.222" stop-color="#1eff1e"/><stop offset="0.250" stop-color="#1fff1f"/><stop offset="0.278" stop-color="#20ff20"/><stop offset="0.306" stop-color="#20ff20"/><stop offset="0.333" stop-color="#21ff21"/><stop offset="0.361" stop-color="#21ff21"/><stop offset="0.389" stop-color="#22ff22"/><stop offset="0.417" stop-color="#22ff22"/><stop offset="0.444" stop-color="#22ff22"/><stop offset="0.472" stop-color="#22ff22"/><stop offset="0.500" stop-color="#22ff22"/><stop offset="0.528" stop-color="#22ff22"/><stop offset="0.556" stop-color="#22ff22"/><stop offset="0.583" stop-color="#22ff22"/><stop offset="0.611" stop-color="#22ff22"/><stop offset="0.639" stop-color="#21ff21"/><stop offset="0.667" stop-color="#21ff21"/><stop offset="0.694" stop-color="#20ff20"/><stop offset="0.722" stop-color="#20ff20"/><stop offset="0.750" stop-color="#1fff1f"/><stop offset="0.778" stop-color="#1eff1e"/><stop offset="0.806" stop-color="#1eff1e"/><stop offset="0.833" stop-color="#1dff1d"/><stop offset="0.861" stop-color="#1cff1c"/><stop offset="0.889" stop-color="#1aff1a"/><stop offset="0.917" stop-color="#19ff19"/><stop offset="0.944" stop-color="#18ff18"/><stop offset="0.972" stop-color="#17ff17"/><stop offset="1.000" stop-color="#15ff15"/></linearGradient><linearGradient id="c108" x1="0" y1="0" x2="0" y2="1"><stop offset="0.000" stop-color="#10ff10"/><stop offset="0.028" stop-color="#12ff12"/><stop offset="0.056" stop-color="#13ff13"/><stop offset="0.083" stop-color="#14ff14"/><stop offset="0.111" stop-color="#15ff15"/><stop offset="0.139" stop-color="#16ff16"/><stop offset="0.167" stop-color="#17ff17"/><stop offset="0.194" stop-color="#18ff18"/><stop offset="0.222" stop-color="#19ff19"/><stop offset="0.250" stop-color="#19ff19"/><stop offset="0.278" stop-color="#1aff1a"/><stop offset="0.306" stop-color="#1bff1b"/><stop offset="0.333" stop-color="#1bff1b"/><stop offset="0.361" stop-color="#1bff1b"/><stop offset="0.389" stop-color="#1cff1c"/><stop offset="0.417" stop-color="#1cff1c"/><stop offset="0.444" stop-color="#1cff1c"/><stop offset="0.472" stop-color="#1cff1c"/><stop offset="0.500" stop-color="#1cff1c"/><stop offset="0.528" stop-color="#1cff1c"/><stop offset="0.556" stop-color="#1cff1c"/><stop offset="0.583" stop-color="#1cff1c"/><stop offset="0.611" stop-color="#1cff1c"/><stop offset="0.639" stop-color="#1cff1c"/><stop offset="0.667" stop-color="#1bff1b"/><stop offset="0.694" stop-color="#1bff1b"/><stop offset="0.722" stop-color="#1aff1a"/><stop offset="0.750" stop-color="#1aff1a"/><stop offset="0.778" stop-color="#19ff19"/><stop offset="0.806" stop-color="#18ff18"/><stop offset="0.833" stop-color="#17ff17"/><stop offset="0.861" stop-color="#16ff16"/><stop offset="0.889" stop-color="#15ff15"/><stop offset="0.917" stop-color="#14ff14"/><stop offset="0.944" stop-color="#13ff13"/><stop offset="0.972" stop-color="#12ff12"/><stop offset="1.000" stop-color="#11ff11"/></linearGradient><linearGradient id="c109" x1="0" y1="0" x2="0" y2="1"><stop offset="0.000" stop-color="#0cff0c"/><stop offset="0.028" stop-color="#0dff0d"/><stop offset="0.056" stop-color="#0eff0e"/><stop offset="0.083" stop-color="#0fff0f"/><stop offset="0.111" stop-color="#10ff10"/><stop offset="0.139" stop-color="#11ff11"/><stop offset="0.167" stop-color="#12ff12"/><stop offset="0.194" stop-color="#13ff13"/><stop offset="0.222" stop-color="#13ff13"/><stop offset="0.250" stop-color="#14ff14"/><stop offset="0.278" stop-color="#14ff14"/><stop offset="0.306" stop-color="#15ff15"/><stop offset="0.333" stop-color="#15ff15"/><stop offset="0.361" stop-color="#16ff16"/><stop offset="0.389" stop-color="#16ff16"/><stop offset="0.417" stop-color="#16ff16"/><stop offset="0.444" stop-color="#16ff16"/><stop offset="0.472" stop-color="#17ff17"/><stop offset="0.500" stop-color="#17ff17"/><stop offset="0.528" stop-color="#17ff17"/><stop offset="0.556" stop-color="#16ff16"/><stop offset="0.583" stop-color="#16ff16"/><stop offset="0.611" stop-color="#16ff16"/><stop offset="0.639" stop-color="#16ff16"/><stop offset="0.667" stop-color="#16ff16"/><stop offset="0.694" stop-color="#15ff15"/><stop offset="0.722" stop-color="#15ff15"/><stop offset="0.750" stop-color="#14ff14"/><stop offset="0.778" stop-color="#14ff14"/><stop offset="0.806" stop-color="#13ff13"/><stop offset="0.833" stop-color="#12ff12"/><stop offset="0.861" stop-color="#11ff11"/><stop offset="0.889" stop-color="#11ff11"/><stop offset="0.917" stop-color="#10ff10"/><stop offset="0.944" stop-color="#0fff0f"/><stop offset="0.972" stop-color="#0eff0e"/><stop offset="1.000" stop-color="#0dff0d"/></linearGradient><linearGradient id="c110" x1="0" y1="0" x2="0" y2="1"><stop offset="0.000" stop-color="#06ff06"/><stop offset="0.028" stop-color="#07ff07"/><stop offset="0.056" stop-color="#08ff08"/><stop offset="0.083" stop-color="#09ff09"/><stop offset="0.111" stop-color="#09ff09"/><stop offset="0.139" stop-color="#0aff0a"/><stop offset="0.167" stop-color="#0bff0b"/><stop offset="0.194" stop-color="#0bff0b"/><stop offset="0.222" stop-color="#0cff0c"/><stop offset="0.250" stop-color="#0dff0d"/><stop offset="0.278" stop-color="#0dff0d"/><stop offset="0.306" stop-color="#0dff0d"/><stop offset="0.333" stop-color="#0eff0e"/><stop offset="0.361" stop-color="#0eff0e"/><stop offset="0.389" stop-color="#0eff0e"/><stop offset="0.417" stop-color="#0fff0f"/><stop offset="0.444" stop-color="#0fff0f"/><stop offset="0.472" stop-color="#0fff0f"/><stop offset="0.500" stop-color="#0fff0f"/><stop offset="0.528" stop-color="#0fff0f"/><stop offset="0.556" stop-color="#0fff0f"/><stop offset="0.583" stop-color="#0fff0f"/><stop offset="0.611" stop-color="#0eff0e"/><stop offset="0.639" stop-color="#0eff0e"/><stop offset="0.667" stop-color="#0eff0e"/><stop offset="0.694" stop-color="#0eff0e"/><stop offset="0.722" stop-color="#0dff0d"/><stop offset="0.750" stop-color="#0dff0d"/><stop offset="0.778" stop-color="#0cff0c"/><stop offset="0.806" stop-color="#0cff0c"/><stop offset="0.833" stop-color="#0bff0b"/><stop offset="0.861" stop-color="#0aff0a"/><stop offset="0.889" stop-color="#0aff0a"/><stop offset="0.917" stop-color="#09ff09"/><stop offset="0.944" stop-color="#08ff08"/><stop offset="0.972" stop-color="#07ff07"/><stop offset="1.000" stop-color="#06ff06"/></linearGradient><linearGradient id="c111" x1="0" y1="0" x2="0" y2="1"><stop offset="0.000" stop-color="#00fe01"/><stop offset="0.028" stop-color="#00fe01"/><stop offset="0.056" stop-color="#00fe00"/><stop offset="0.083" stop-color="#00ff00"/><stop offset="0.111" stop-color="#00ff00"/><stop offset="0.139" stop-color="#01ff01"/><stop offset="0.167" stop-color="#02ff02"/><stop offset="0.194" stop-color="#02ff02"/><stop offset="0.222" stop-color="#03ff03"/><stop offset="0.250" stop-color="#03ff03"/><stop offset="0.278" stop-color="#03ff03"/><stop offset="0.306" stop-color="#04ff04"/><stop offset="0.333" stop-color="#04ff04"/><stop offset="0.361" stop-color="#05ff05"/><stop offset="0.389" stop-color="#05ff05"/><stop offset="0.417" stop-color="#06ff06"/><stop offset="0.444" stop-color="#07ff07"/><stop offset="0.472" stop-color="#07ff07"/><stop offset="0.500" stop-color="#07ff07"/><stop offset="0.528" stop-color="#07ff07"/><stop offset="0.556" stop-color="#07ff07"/><stop offset="0.583" stop-color="#06ff06"/><stop offset="0.611" stop-color="#06ff06"/><stop offset="0.639" stop-color="#05ff05"/><stop offset="0.667" stop-color="#04ff04"/><stop offset="0.694" stop-color="#04ff04"/><stop offset="0.722" stop-color="#04ff04"/><stop offset="0.750" stop-color="#03ff03"/><stop offset="0.778" stop-color="#03ff03"/><stop offset="0.806" stop-color="#02ff02"/><stop offset="0.833" stop-color="#02ff02"/><stop offset="0.861" stop-color="#01ff01"/><stop offset="0.889" stop-color="#01ff01"/><stop offset="0.917" stop-color="#00ff00"/><stop offset="0.944" stop-color="#00ff00"/><stop offset="0.972" stop-color="#00fe01"/><stop offset="1.000" stop-color="#00fe01"/></linearGradient><linearGradient id="c112" x1="0" y1="0" x2="0" y2="1"><stop offset="0.000" stop-color="#00f805"/><stop offset="0.028" stop-color="#00f805"/><stop offset="0.056" stop-color="#00f905"/><stop offset="0.083" stop-color="#00f904"/><stop offset="0.111" stop-color="#00f904"/><stop offset="0.139" stop-color="#00fa04"/><stop offset="0.167" stop-color="#00fa04"/><stop offset="0.194" stop-color="#00fa04"/><stop offset="0.222" stop-color="#00fa03"/><stop offset="0.250" stop-color="#00fb03"/><stop offset="0.278" stop-color="#00fb03"/><stop offset="0.306" stop-color="#00fc02"/><stop offset="0.333" stop-color="#00fd02"/><stop offset="0.361" stop-color="#00fd01"/><stop offset="0.389" stop-color="#00fe01"/><stop offset="0.417" stop-color="#00fe01"/><stop offset="0.444" stop-color="#00fe00"/><stop offset="0.472" stop-color="#00ff00"/><stop offset="0.500" stop-color="#00ff00"/><stop offset="0.528" stop-color="#00ff00"/><stop offset="0.556" stop-color="#00ff00"/><stop offset="0.583" stop-color="#00fe01"/><stop offset="0.611" stop-color="#00fe01"/><stop offset="0.639" stop-color="#00fe01"/><stop offset="0.667" stop-color="#00fd01"/><stop offset="0.694" stop-color="#00fc02"/><stop offset="0.722" stop-color="#00fc02"/><stop offset="0.750" stop-color="#00fb03"/><stop offset="0.778" stop-color="#00fa03"/><stop offset="0.806" stop-color="#00fa04"/><stop offset="0.833" stop-color="#00fa04"/><stop offset="0.861" stop-color="#00fa04"/><stop offset="0.889" stop-color="#00f904"/><stop offset="0.917" stop-color="#00f904"/><stop offset="0.944" stop-color="#00f905"/><stop offset="0.972" stop-color="#00f805"/><stop offset="1.000" stop-color="#00f805"/></linearGradient><linearGradient id="c113" x1="0" y1="0" x2="0" y2="1"><stop offset="0.000" stop-color="#00f10a"/><stop offset="0.028" stop-color="#00f20a"/><stop offset="0.056" stop-color="#00f20a"/><stop offset="0.083" stop-color="#00f209"/><stop offset="0.111" stop-color="#00f309"/><stop offset="0.139" stop-color="#00f309"/><stop offset="0.167" stop-color="#00f309"/><stop offset="0.194" stop-color="#00f408"/><stop offset="0.222" stop-color="#00f508"/><stop offset="0.250" stop-color="#00f607"/><stop offset="0.278" stop-color="#00f706"/><stop offset="0.306" stop-color="#00f706"/><stop offset="0.333" stop-color="#00f805"/><stop offset="0.361" stop-color="#00f905"/><stop offset="0.389" stop-color="#00f904"/><stop offset="0.417" stop-color="#00f904"/><stop offset="0.444" stop-color="#00fa04"/><stop offset="0.472" stop-color="#00fa04"/><stop offset="0.500" stop-color="#00fa04"/><stop offset="0.528" stop-color="#00fa04"/><stop offset="0.556" stop-color="#00fa04"/><stop offset="0.583" stop-color="#00f904"/><stop offset="0.611" stop-color="#00f904"/><stop offset="0.639" stop-color="#00f905"/><stop offset="0.667" stop-color="#00f805"/><stop offset="0.694" stop-color="#00f806"/><stop offset="0.722" stop-color="#00f706"/><stop offset="0.750" stop-color="#00f607"/><stop offset="0.778" stop-color="#00f507"/><stop offset="0.806" stop-color="#00f408"/><stop offset="0.833" stop-color="#00f309"/><stop offset="0.861" stop-color="#00f309"/><stop offset="0.889" stop-color="#00f309"/><stop offset="0.917" stop-color="#00f209"/><stop offset="0.944" stop-color="#00f20a"/><stop offset="0.972" stop-color="#00f20a"/><stop offset="1.000" stop-color="#00f20a"/></linearGradient><linearGradient id="c114" x1="0" y1="0" x2="0" y2="1"><stop offset="0.000" stop-color="#00ea10"/><stop offset="0.028" stop-color="#00ea0f"/><stop offset="0.056" stop-color="#00eb0f"/><stop offset="0.083" stop-color="#00eb0f"/><stop offset="0.111" stop-color="#00eb0f"/><stop offset="0.139" stop-color="#00ec0e"/><stop offset="0.167" stop-color="#00ed0d"/><stop offset="0.194" stop-color="#00ee0d"/><stop offset="0.222" stop-color="#00ef0c"/><stop offset="0.250" stop-color="#00f00b"/><stop offset="0.278" stop-color="#00f10a"/><stop offset="0.306" stop-color="#00f20a"/><stop offset="0.333" stop-color="#00f209"/><stop offset="0.361" stop-color="#00f309"/><stop offset="0.389" stop-color="#00f409"/><stop offset="0.417" stop-color="#00f408"/><stop offset="0.444" stop-color="#00f408"/><stop offset="0.472" stop-color="#00f408"/><stop offset="0.500" stop-color="#00f408"/><stop offset="0.528" stop-color="#00f408"/><stop offset="0.556" stop-color="#00f408"/><stop offset="0.583" stop-color="#00f408"/><stop offset="0.611" stop-color="#00f408"/><stop offset="0.639" stop-color="#00f309"/><stop offset="0.667" stop-color="#00f309"/><stop offset="0.694" stop-color="#00f20a"/><stop offset="0.722" stop-color="#00f10a"/><stop offset="0.750" stop-color="#00f10b"/><stop offset="0.778" stop-color="#00f00c"/><stop offset="0.806" stop-color="#00ef0c"/><stop offset="0.833" stop-color="#00ee0d"/><stop offset="0.861" stop-color="#00ec0e"/><stop offset="0.889" stop-color="#00eb0f"/><stop offset="0.917" stop-color="#00eb0f"/><stop offset="0.944" stop-color="#00eb0f"/><stop offset="0.972" stop-color="#00eb0f"/><stop offset="1.000" stop-color="#00ea10"/></linearGradient><linearGradient id="c115" x1="0" y1="0" x2="0" y2="1"><stop offset="0.000" stop-color="#00e216"/><stop offset="0.028" stop-color="#00e215"/><stop offset="0.056" stop-color="#00e315"/><stop offset="0.083" stop-color="#00e315"/><stop offset="0.111" stop-color="#00e514"/><stop offset="0.139" stop-color="#00e613"/><stop offset="0.167" stop-color="#00e712"/><stop offset="0.194" stop-color="#00e811"/><stop offset="0.222" stop-color="#00e910"/><stop offset="0.250" stop-color="#00ea10"/><stop offset="0.278" stop-color="#00eb0f"/><stop offset="0.306" stop-color="#00ec0e"/><stop offset="0.333" stop-color="#00ec0e"/><stop offset="0.361" stop-color="#00ed0d"/><stop offset="0.389" stop-color="#00ee0d"/><stop offset="0.417" stop-color="#00ee0d"/><stop offset="0.444" stop-color="#00ee0d"/><stop offset="0.472" stop-color="#00ee0c"/><stop offset="0.500" stop-color="#00ef0c"/><stop offset="0.528" stop-color="#00ee0c"/><stop offset="0.556" stop-color="#00ee0c"/><stop offset="0.583" stop-color="#00ee0d"/><stop offset="0.611" stop-color="#00ee0d"/><stop offset="0.639" stop-color="#00ed0d"/><stop offset="0.667" stop-color="#00ed0e"/><stop offset="0.694" stop-color="#00ec0e"/><stop offset="0.722" stop-color="#00eb0f"/><stop offset="0.750" stop-color="#00ea0f"/><stop offset="0.778" stop-color="#00ea10"/><stop offset="0.806" stop-color="#00e811"/><stop offset="0.833" stop-color="#00e712"/><stop offset="0.861" stop-color="#00e613"/><stop offset="0.889" stop-color="#00e513"/><stop offset="0.917" stop-color="#00e414"/><stop offset="0.944" stop-color="#00e315"/><stop offset="0.972" stop-color="#00e215"/><stop offset="1.000" stop-color="#00e216"/></linearGradient><linearGradient id="c116" x1="0" y1="0" x2="0" y2="1"><stop offset="0.000" stop-color="#00da1c"/><stop offset="0.028" stop-color="#00da1c"/><stop offset="0.056" stop-color="#00db1b"/><stop offset="0.083" stop-color="#00dd1a"/><stop offset="0.111" stop-color="#00de19"/><stop offset="0.139" stop-color="#00df18"/><stop offset="0.167" stop-color="#00e017"/><stop offset="0.194" stop-color="#00e116"/><stop offset="0.222" stop-color="#00e315"/><stop offset="0.250" stop-color="#00e415"/><stop offset="0.278" stop-color="#00e414"/><stop offset="0.306" stop-color="#00e513"/><stop offset="0.333" stop-color="#00e613"/><stop offset="0.361" stop-color="#00e712"/><stop offset="0.389" stop-color="#00e712"/><stop offset="0.417" stop-color="#00e812"/><stop offset="0.444" stop-color="#00e811"/><stop offset="0.472" stop-color="#00e811"/><stop offset="0.500" stop-color="#00e811"/><stop offset="0.528" stop-color="#00e811"/><stop offset="0.556" stop-color="#00e811"/><stop offset="0.583" stop-color="#00e811"/><stop offset="0.611" stop-color="#00e712"/><stop offset="0.639" stop-color="#00e712"/><stop offset="0.667" stop-color="#00e613"/><stop offset="0.694" stop-color="#00e613"/><stop offset="0.722" stop-color="#00e514"/><stop offset="0.750" stop-color="#00e414"/><stop offset="0.778" stop-color="#00e315"/><stop offset="0.806" stop-color="#00e216"/><stop offset="0.833" stop-color="#00e117"/><stop offset="0.861" stop-color="#00e018"/><stop offset="0.889" stop-color="#00de19"/><stop offset="0.917" stop-color="#00dd19"/><stop offset="0.944" stop-color="#00dc1b"/><stop offset="0.972" stop-color="#00da1c"/><stop offset="1.000" stop-color="#00da1c"/></linearGradient><linearGradient id="c117" x1="0" y1="0" x2="0" y2="1"><stop offset="0.000" stop-color="#00cf27"/><stop offset="0.028" stop-color="#00d125"/><stop offset="0.056" stop-color="#00d323"/><stop offset="0.083" stop-color="#00d521"/><stop offset="0.111" stop-color="#00d71e"/><stop offset="0.139" stop-color="#00d81d"/><stop offset="0.167" stop-color="#00d91c"/><stop offset="0.194" stop-color="#00da1b"/><stop offset="0.222" stop-color="#00dc1b"/><stop offset="0.250" stop-color="#00dd1a"/><stop offset="0.278" stop-color="#00de19"/><stop offset="0.306" stop-color="#00df18"/><stop offset="0.333" stop-color="#00df18"/><stop offset="0.361" stop-color="#00e017"/><stop offset="0.389" stop-color="#00e117"/><stop offset="0.417" stop-color="#00e117"/><stop offset="0.444" stop-color="#00e116"/><stop offset="0.472" stop-color="#00e216"/><stop offset="0.500" stop-color="#00e216"/><stop offset="0.528" stop-color="#00e216"/><stop offset="0.556" stop-color="#00e116"/><stop offset="0.583" stop-color="#00e116"/><stop offset="0.611" stop-color="#00e117"/><stop offset="0.639" stop-color="#00e017"/><stop offset="0.667" stop-color="#00e018"/><stop offset="0.694" stop-color="#00df18"/><stop offset="0.722" stop-color="#00de19"/><stop offset="0.750" stop-color="#00dd19"/><stop offset="0.778" stop-color="#00dc1a"/><stop offset="0.806" stop-color="#00db1b"/><stop offset="0.833" stop-color="#00da1c"/><stop offset="0.861" stop-color="#00d81d"/><stop offset="0.889" stop-color="#00d71e"/><stop offset="0.917" stop-color="#00d520"/><stop offset="0.944" stop-color="#00d422"/><stop offset="0.972" stop-color="#00d224"/><stop offset="1.000" stop-color="#00d027"/></linearGradient><linearGradient id="c118" x1="0" y1="0" x2="0" y2="1"><stop offset="0.000" stop-color="#00c533"/><stop offset="0.028" stop-color="#00c731"/><stop offset="0.056" stop-color="#00c92f"/><stop offset="0.083" stop-color="#00cb2c"/><stop offset="0.111" stop-color="#00cd2a"/><stop offset="0.139" stop-color="#00cf28"/><stop offset="0.167" stop-color="#00d026"/><stop offset="0.194" stop-color="#00d224"/><stop offset="0.222" stop-color="#00d422"/><stop offset="0.250" stop-color="#00d520"/><stop offset="0.278" stop-color="#00d61f"/><stop offset="0.306" stop-color="#00d81e"/><stop offset="0.333" stop-color="#00d81d"/><stop offset="0.361" stop-color="#00d91c"/><stop offset="0.389" stop-color="#00da1c"/><stop offset="0.417" stop-color="#00da1c"/><stop offset="0.444" stop-color="#00db1b"/><stop offset="0.472" stop-color="#00db1b"/><stop offset="0.500" stop-color="#00db1b"/><stop offset="0.528" stop-color="#00db1b"/><stop offset="0.556" stop-color="#00db1b"/><stop offset="0.583" stop-color="#00da1b"/><stop offset="0.611" stop-color="#00da1c"/><stop offset="0.639" stop-color="#00d91c"/><stop offset="0.667" stop-color="#00d91d"/><stop offset="0.694" stop-color="#00d81d"/><stop offset="0.722" stop-color="#00d71e"/><stop offset="0.750" stop-color="#00d620"/><stop offset="0.778" stop-color="#00d421"/><stop offset="0.806" stop-color="#00d323"/><stop offset="0.833" stop-color="#00d125"/><stop offset="0.861" stop-color="#00cf27"/><stop offset="0.889" stop-color="#00ce29"/><stop offset="0.917" stop-color="#00cc2c"/><stop offset="0.944" stop-color="#00ca2e"/><stop offset="0.972" stop-color="#00c830"/><stop offset="1.000" stop-color="#00c632"/></linearGradient><linearGradient id="c119" x1="0" y1="0" x2="0" y2="1"><stop offset="0.000" stop-color="#00bb40"/><stop offset="0.028" stop-color="#00bd3d"/><stop offset="0.056" stop-color="#00bf3b"/><stop offset="0.083" stop-color="#00c139"/><stop offset="0.111" stop-color="#00c336"/><stop offset="0.139" stop-color="#00c534"/><stop offset="0.167" stop-color="#00c732"/><stop offset="0.194" stop-color="#00c830"/><stop offset="0.222" stop-color="#00ca2e"/><stop offset="0.250" stop-color="#00cc2c"/><stop offset="0.278" stop-color="#00cd2a"/><stop offset="0.306" stop-color="#00ce28"/><stop offset="0.333" stop-color="#00d027"/><stop offset="0.361" stop-color="#00d126"/><stop offset="0.389" stop-color="#00d225"/><stop offset="0.417" stop-color="#00d224"/><stop offset="0.444" stop-color="#00d323"/><stop offset="0.472" stop-color="#00d323"/><stop offset="0.500" stop-color="#00d322"/><stop offset="0.528" stop-color="#00d323"/><stop offset="0.556" stop-color="#00d323"/><stop offset="0.583" stop-color="#00d323"/><stop offset="0.611" stop-color="#00d224"/><stop offset="0.639" stop-color="#00d125"/><stop offset="0.667" stop-color="#00d026"/><stop offset="0.694" stop-color="#00cf28"/><stop offset="0.722" stop-color="#00ce29"/><stop offset="0.750" stop-color="#00cc2b"/><stop offset="0.778" stop-color="#00cb2d"/><stop offset="0.806" stop-color="#00c92f"/><stop offset="0.833" stop-color="#00c731"/><stop offset="0.861" stop-color="#00c633"/><stop offset="0.889" stop-color="#00c435"/><stop offset="0.917" stop-color="#00c238"/><stop offset="0.944" stop-color="#00c03a"/><stop offset="0.972" stop-color="#00be3c"/><stop offset="1.000" stop-color="#00bc3f"/></linearGradient><linearGradient id="c120" x1="0" y1="0" x2="0" y2="1"><stop offset="0.000" stop-color="#00b14c"/><stop offset="0.028" stop-color="#00b34a"/><stop offset="0.056" stop-color="#00b547"/><stop offset="0.083" stop-color="#00b745"/><stop offset="0.111" stop-color="#00b943"/><stop offset="0.139" stop-color="#00bb40"/><stop offset="0.167" stop-color="#00bd3e"/><stop offset="0.194" stop-color="#00bf3b"/><stop offset="0.222" stop-color="#00c039"/><stop offset="0.250" stop-color="#00c237"/><stop offset="0.278" stop-color="#00c435"/><stop offset="0.306" stop-color="#00c533"/><stop offset="0.333" stop-color="#00c732"/><stop offset="0.361" stop-color="#00c830"/><stop offset="0.389" stop-color="#00c92f"/><stop offset="0.417" stop-color="#00ca2e"/><stop offset="0.444" stop-color="#00ca2e"/><stop offset="0.472" stop-color="#00cb2d"/><stop offset="0.500" stop-color="#00cb2d"/><stop offset="0.528" stop-color="#00cb2d"/><stop offset="0.556" stop-color="#00ca2d"/><stop offset="0.583" stop-color="#00ca2e"/><stop offset="0.611" stop-color="#00c92f"/><stop offset="0.639" stop-color="#00c830"/><stop offset="0.667" stop-color="#00c731"/><stop offset="0.694" stop-color="#00c633"/><stop offset="0.722" stop-color="#00c435"/><stop offset="0.750" stop-color="#00c336"/><stop offset="0.778" stop-color="#00c138"/><stop offset="0.806" stop-color="#00bf3b"/><stop offset="0.833" stop-color="#00bd3d"/><stop offset="0.861" stop-color="#00bc3f"/><stop offset="0.889" stop-color="#00ba42"/><stop offset="0.917" stop-color="#00b744"/><stop offset="0.944" stop-color="#00b547"/><stop offset="0.972" stop-color="#00b349"/><stop offset="1.000" stop-color="#00b14c"/></linearGradient><linearGradient id="c121" x1="0" y1="0" x2="0" y2="1"><stop offset="0.000" stop-color="#00a559"/><stop offset="0.028" stop-color="#00a857"/><stop offset="0.056" stop-color="#00aa54"/><stop offset="0.083" stop-color="#00ac52"/><stop offset="0.111" stop-color="#00af4f"/><stop offset="0.139" stop-color="#00b14c"/><stop offset="0.167" stop-color="#00b34a"/><stop offset="0.194" stop-color="#00b547"/><stop offset="0.222" stop-color="#00b745"/><stop offset="0.250" stop-color="#00b942"/><stop offset="0.278" stop-color="#00bb40"/><stop offset="0.306" stop-color="#00bc3e"/><stop offset="0.333" stop-color="#00be3d"/><stop offset="0.361" stop-color="#00bf3b"/><stop offset="0.389" stop-color="#00c03a"/><stop offset="0.417" stop-color="#00c138"/><stop offset="0.444" stop-color="#00c238"/><stop offset="0.472" stop-color="#00c237"/><stop offset="0.500" stop-color="#00c237"/><stop offset="0.528" stop-color="#00c237"/><stop offset="0.556" stop-color="#00c237"/><stop offset="0.583" stop-color="#00c138"/><stop offset="0.611" stop-color="#00c139"/><stop offset="0.639" stop-color="#00c03a"/><stop offset="0.667" stop-color="#00be3c"/><stop offset="0.694" stop-color="#00bd3e"/><stop offset="0.722" stop-color="#00bb40"/><stop offset="0.750" stop-color="#00ba42"/><stop offset="0.778" stop-color="#00b844"/><stop offset="0.806" stop-color="#00b646"/><stop offset="0.833" stop-color="#00b449"/><stop offset="0.861" stop-color="#00b24b"/><stop offset="0.889" stop-color="#00af4e"/><stop offset="0.917" stop-color="#00ad51"/><stop offset="0.944" stop-color="#00ab53"/><stop offset="0.972" stop-color="#00a956"/><stop offset="1.000" stop-color="#00a659"/></linearGradient><linearGradient id="c122" x1="0" y1="0" x2="0" y2="1"><stop offset="0.000" stop-color="#009a67"/><stop offset="0.028" stop-color="#009c64"/><stop offset="0.056" stop-color="#009f61"/><stop offset="0.083" stop-color="#00a15e"/><stop offset="0.111" stop-color="#00a45b"/><stop offset="0.139" stop-color="#00a658"/><stop offset="0.167" stop-color="#00a956"/><stop offset="0.194" stop-color="#00ab53"/><stop offset="0.222" stop-color="#00ae50"/><stop offset="0.250" stop-color="#00b04d"/><stop offset="0.278" stop-color="#00b24b"/><stop offset="0.306" stop-color="#00b449"/><stop offset="0.333" stop-color="#00b547"/><stop offset="0.361" stop-color="#00b745"/><stop offset="0.389" stop-color="#00b843"/><stop offset="0.417" stop-color="#00b942"/><stop offset="0.444" stop-color="#00ba41"/><stop offset="0.472" stop-color="#00ba41"/><stop offset="0.500" stop-color="#00bb40"/><stop offset="0.528" stop-color="#00ba40"/><stop offset="0.556" stop-color="#00ba41"/><stop offset="0.583" stop-color="#00b942"/><stop offset="0.611" stop-color="#00b843"/><stop offset="0.639" stop-color="#00b744"/><stop offset="0.667" stop-color="#00b646"/><stop offset="0.694" stop-color="#00b448"/><stop offset="0.722" stop-color="#00b24a"/><stop offset="0.750" stop-color="#00b04d"/><stop offset="0.778" stop-color="#00ae4f"/><stop offset="0.806" stop-color="#00ac52"/><stop offset="0.833" stop-color="#00aa54"/><stop offset="0.861" stop-color="#00a757"/><stop offset="0.889" stop-color="#00a55a"/><stop offset="0.917" stop-color="#00a25d"/><stop offset="0.944" stop-color="#00a060"/><stop offset="0.972" stop-color="#009d63"/><stop offset="1.000" stop-color="#009b66"/></linearGradient><linearGradient id="c123" x1="0" y1="0" x2="0" y2="1"><stop offset="0.000" stop-color="#008f73"/><stop offset="0.028" stop-color="#009170"/><stop offset="0.056" stop-color="#00946d"/><stop offset="0.083" stop-color="#00966a"/><stop offset="0.111" stop-color="#009967"/><stop offset="0.139" stop-color="#009c64"/><stop offset="0.167" stop-color="#009f61"/><stop offset="0.194" stop-color="#00a15e"/><stop offset="0.222" stop-color="#00a45b"/><stop offset="0.250" stop-color="#00a758"/><stop offset="0.278" stop-color="#00a955"/><stop offset="0.306" stop-color="#00ab53"/><stop offset="0.333" stop-color="#00ad50"/><stop offset="0.361" stop-color="#00af4e"/><stop offset="0.389" stop-color="#00b14c"/><stop offset="0.417" stop-color="#00b24b"/><stop offset="0.444" stop-color="#00b34a"/><stop offset="0.472" stop-color="#00b349"/><stop offset="0.500" stop-color="#00b349"/><stop offset="0.528" stop-color="#00b349"/><stop offset="0.556" stop-color="#00b34a"/><stop offset="0.583" stop-color="#00b24b"/><stop offset="0.611" stop-color="#00b14c"/><stop offset="0.639" stop-color="#00b04e"/><stop offset="0.667" stop-color="#00ae50"/><stop offset="0.694" stop-color="#00ac52"/><stop offset="0.722" stop-color="#00aa54"/><stop offset="0.750" stop-color="#00a857"/><stop offset="0.778" stop-color="#00a55a"/><stop offset="0.806" stop-color="#00a25d"/><stop offset="0.833" stop-color="#00a060"/><stop offset="0.861" stop-color="#009d63"/><stop offset="0.889" stop-color="#009a66"/><stop offset="0.917" stop-color="#009769"/><stop offset="0.944" stop-color="#00956c"/><stop offset="0.972" stop-color="#00926f"/><stop offset="1.000" stop-color="#008f72"/></linearGradient><linearGradient id="c124" x1="0" y1="0" x2="0" y2="1"><stop offset="0.000" stop-color="#00847f"/><stop offset="0.028" stop-color="#00877c"/><stop offset="0.056" stop-color="#008979"/><stop offset="0.083" stop-color="#008c76"/><stop offset="0.111" stop-color="#008f72"/><stop offset="0.139" stop-color="#00926f"/><stop offset="0.167" stop-color="#00956c"/><stop offset="0.194" stop-color="#009868"/><stop offset="0.222" stop-color="#009b65"/><stop offset="0.250" stop-color="#009e62"/><stop offset="0.278" stop-color="#00a15e"/><stop offset="0.306" stop-color="#00a45c"/><stop offset="0.333" stop-color="#00a659"/><stop offset="0.361" stop-color="#00a857"/><stop offset="0.389" stop-color="#00aa54"/><stop offset="0.417" stop-color="#00ab53"/><stop offset="0.444" stop-color="#00ac52"/><stop offset="0.472" stop-color="#00ad51"/><stop offset="0.500" stop-color="#00ad50"/><stop offset="0.528" stop-color="#00ad51"/><stop offset="0.556" stop-color="#00ad51"/><stop offset="0.583" stop-color="#00ac52"/><stop offset="0.611" stop-color="#00aa54"/><stop offset="0.639" stop-color="#00a956"/><stop offset="0.667" stop-color="#00a758"/><stop offset="0.694" stop-color="#00a45b"/><stop offset="0.722" stop-color="#00a25d"/><stop offset="0.750" stop-color="#009f60"/><stop offset="0.778" stop-color="#009c64"/><stop offset="0.806" stop-color="#009967"/><stop offset="0.833" stop-color="#00966a"/><stop offset="0.861" stop-color="#00936e"/><stop offset="0.889" stop-color="#009071"/><stop offset="0.917" stop-color="#008d75"/><stop offset="0.944" stop-color="#008a78"/><stop offset="0.972" stop-color="#00887b"/><stop offset="1.000" stop-color="#00857e"/></linearGradient><linearGradient id="c125" x1="0" y1="0" x2="0" y2="1"><stop offset="0.000" stop-color="#007a8a"/><stop offset="0.028" stop-color="#007d87"/><stop offset="0.056" stop-color="#008083"/><stop offset="0.083" stop-color="#008380"/><stop offset="0.111" stop-color="#00867c"/><stop offset="0.139" stop-color="#008a79"/><stop offset="0.167" stop-color="#008d75"/><stop offset="0.194" stop-color="#009071"/><stop offset="0.222" stop-color="#00946d"/><stop offset="0.250" stop-color="#00976a"/><stop offset="0.278" stop-color="#009a66"/><stop offset="0.306" stop-color="#009d63"/><stop offset="0.333" stop-color="#00a060"/><stop offset="0.361" stop-color="#00a25d"/><stop offset="0.389" stop-color="#00a45b"/><stop offset="0.417" stop-color="#00a659"/><stop offset="0.444" stop-color="#00a758"/><stop offset="0.472" stop-color="#00a857"/><stop offset="0.500" stop-color="#00a856"/><stop offset="0.528" stop-color="#00a857"/><stop offset="0.556" stop-color="#00a757"/><stop offset="0.583" stop-color="#00a659"/><stop offset="0.611" stop-color="#00a55a"/><stop offset="0.639" stop-color="#00a35d"/><stop offset="0.667" stop-color="#00a05f"/><stop offset="0.694" stop-color="#009e62"/><stop offset="0.722" stop-color="#009b65"/><stop offset="0.750" stop-color="#009868"/><stop offset="0.778" stop-color="#00956c"/><stop offset="0.806" stop-color="#009270"/><stop offset="0.833" stop-color="#008e73"/><stop offset="0.861" stop-color="#008b77"/><stop offset="0.889" stop-color="#00887b"/><stop offset="0.917" stop-color="#00847f"/><stop offset="0.944" stop-color="#008182"/><stop offset="0.972" stop-color="#007e86"/><stop offset="1.000" stop-color="#007b89"/></linearGradient><linearGradient id="c126" x1="0" y1="0" x2="0" y2="1"><stop offset="0.000" stop-color="#007195"/><stop offset="0.028" stop-color="#007491"/><stop offset="0.056" stop-color="#00788d"/><stop offset="0.083" stop-color="#007c89"/><stop offset="0.111" stop-color="#007f84"/><stop offset="0.139" stop-color="#008380"/><stop offset="0.167" stop-color="#00877c"/><stop offset="0.194" stop-color="#008a78"/><stop offset="0.222" stop-color="#008e74"/><stop offset="0.250" stop-color="#009170"/><stop offset="0.278" stop-color="#00956c"/><stop offset="0.306" stop-color="#009869"/><stop offset="0.333" stop-color="#009b65"/><stop offset="0.361" stop-color="#009e62"/><stop offset="0.389" stop-color="#00a060"/><stop offset="0.417" stop-color="#00a25e"/><stop offset="0.444" stop-color="#00a35c"/><stop offset="0.472" stop-color="#00a45b"/><stop offset="0.500" stop-color="#00a45b"/><stop offset="0.528" stop-color="#00a45b"/><stop offset="0.556" stop-color="#00a35c"/><stop offset="0.583" stop-color="#00a25d"/><stop offset="0.611" stop-color="#00a15f"/><stop offset="0.639" stop-color="#009e61"/><stop offset="0.667" stop-color="#009c64"/><stop offset="0.694" stop-color="#009967"/><stop offset="0.722" stop-color="#00966b"/><stop offset="0.750" stop-color="#00936f"/><stop offset="0.778" stop-color="#008f73"/><stop offset="0.806" stop-color="#008c77"/><stop offset="0.833" stop-color="#00887b"/><stop offset="0.861" stop-color="#00847f"/><stop offset="0.889" stop-color="#008183"/><stop offset="0.917" stop-color="#007d87"/><stop offset="0.944" stop-color="#00798b"/><stop offset="0.972" stop-color="#007590"/><stop offset="1.000" stop-color="#007294"/></linearGradient><linearGradient id="c127" x1="0" y1="0" x2="0" y2="1"><stop offset="0.000" stop-color="#006a9d"/><stop offset="0.028" stop-color="#006d99"/><stop offset="0.056" stop-color="#007195"/><stop offset="0.083" stop-color="#007590"/><stop offset="0.111" stop-color="#007a8b"/><stop offset="0.139" stop-color="#007e86"/><stop offset="0.167" stop-color="#008281"/><stop offset="0.194" stop-color="#00867d"/><stop offset="0.222" stop-color="#008a78"/><stop offset="0.250" stop-color="#008e74"/><stop offset="0.278" stop-color="#009270"/><stop offset="0.306" stop-color="#00956c"/><stop offset="0.333" stop-color="#009868"/><stop offset="0.361" stop-color="#009b65"/><stop offset="0.389" stop-color="#009e62"/><stop offset="0.417" stop-color="#00a060"/><stop offset="0.444" stop-color="#00a15e"/><stop offset="0.472" stop-color="#00a25d"/><stop offset="0.500" stop-color="#00a35c"/><stop offset="0.528" stop-color="#00a35d"/><stop offset="0.556" stop-color="#00a25d"/><stop offset="0.583" stop-color="#00a05f"/><stop offset="0.611" stop-color="#009f61"/><stop offset="0.639" stop-color="#009c64"/><stop offset="0.667" stop-color="#009967"/><stop offset="0.694" stop-color="#00966a"/><stop offset="0.722" stop-color="#00936e"/><stop offset="0.750" stop-color="#008f72"/><stop offset="0.778" stop-color="#008b77"/><stop offset="0.806" stop-color="#00887b"/><stop offset="0.833" stop-color="#008480"/><stop offset="0.861" stop-color="#008084"/><stop offset="0.889" stop-color="#007b89"/><stop offset="0.917" stop-color="#00778e"/><stop offset="0.944" stop-color="#007393"/><stop offset="0.972" stop-color="#006f98"/><stop offset="1.000" stop-color="#006b9c"/></linearGradient><linearGradient id="c128" x1="0" y1="0" x2="0" y2="1"><stop offset="0.000" stop-color="#0066a1"/><stop offset="0.028" stop-color="#006a9d"/><stop offset="0.056" stop-color="#006e98"/><stop offset="0.083" stop-color="#007293"/><stop offset="0.111" stop-color="#00778e"/><stop offset="0.139" stop-color="#007c88"/><stop offset="0.167" stop-color="#008083"/><stop offset="0.194" stop-color="#00857e"/><stop offset="0.222" stop-color="#00897a"/><stop offset="0.250" stop-color="#008d75"/><stop offset="0.278" stop-color="#009170"/><stop offset="0.306" stop-color="#00956c"/><stop offset="0.333" stop-color="#009868"/><stop offset="0.361" stop-color="#009b65"/><stop offset="0.389" stop-color="#009e62"/><stop offset="0.417" stop-color="#00a05f"/><stop offset="0.444" stop-color="#00a25d"/><stop offset="0.472" stop-color="#00a35c"/><stop offset="0.500" stop-color="#00a45b"/><stop offset="0.528" stop-color="#00a45c"/><stop offset="0.556" stop-color="#00a35d"/><stop offset="0.583" stop-color="#00a15e"/><stop offset="0.611" stop-color="#009f61"/><stop offset="0.639" stop-color="#009c63"/><stop offset="0.667" stop-color="#009967"/><stop offset="0.694" stop-color="#00966b"/><stop offset="0.722" stop-color="#00926f"/><stop offset="0.750" stop-color="#008e73"/><stop offset="0.778" stop-color="#008a78"/><stop offset="0.806" stop-color="#00867d"/><stop offset="0.833" stop-color="#008281"/><stop offset="0.861" stop-color="#007e86"/><stop offset="0.889" stop-color="#00798c"/><stop offset="0.917" stop-color="#007491"/><stop offset="0.944" stop-color="#006f97"/><stop offset="0.972" stop-color="#006b9c"/><stop offset="1.000" stop-color="#0067a0"/></linearGradient><linearGradient id="c129" x1="0" y1="0" x2="0" y2="1"><stop offset="0.000" stop-color="#0066a2"/><stop offset="0.028" stop-color="#00699d"/><stop offset="0.056" stop-color="#006e98"/><stop offset="0.083" stop-color="#007393"/><stop offset="0.111" stop-color="#00788d"/><stop offset="0.139" stop-color="#007d87"/><stop offset="0.167" stop-color="#008182"/><stop offset="0.194" stop-color="#00867d"/><stop offset="0.222" stop-color="#008a78"/><stop offset="0.250" stop-color="#008f73"/><stop offset="0.278" stop-color="#00936e"/><stop offset="0.306" stop-color="#009769"/><stop offset="0.333" stop-color="#009b65"/><stop offset="0.361" stop-color="#009e61"/><stop offset="0.389" stop-color="#00a15e"/><stop offset="0.417" stop-color="#00a45b"/><stop offset="0.444" stop-color="#00a659"/><stop offset="0.472" stop-color="#00a758"/><stop offset="0.500" stop-color="#00a757"/><stop offset="0.528" stop-color="#00a758"/><stop offset="0.556" stop-color="#00a659"/><stop offset="0.583" stop-color="#00a45b"/><stop offset="0.611" stop-color="#00a25d"/><stop offset="0.639" stop-color="#009f60"/><stop offset="0.667" stop-color="#009c64"/><stop offset="0.694" stop-color="#009968"/><stop offset="0.722" stop-color="#00956c"/><stop offset="0.750" stop-color="#009071"/><stop offset="0.778" stop-color="#008c76"/><stop offset="0.806" stop-color="#00887b"/><stop offset="0.833" stop-color="#008380"/><stop offset="0.861" stop-color="#007f85"/><stop offset="0.889" stop-color="#00798b"/><stop offset="0.917" stop-color="#007491"/><stop offset="0.944" stop-color="#006f96"/><stop offset="0.972" stop-color="#006b9c"/><stop offset="1.000" stop-color="#0067a0"/></linearGradient><linearGradient id="c130" x1="0" y1="0" x2="0" y2="1"><stop offset="0.000" stop-color="#0067a0"/><stop offset="0.028" stop-color="#006b9b"/><stop offset="0.056" stop-color="#007096"/><stop offset="0.083" stop-color="#007590"/><stop offset="0.111" stop-color="#007a8a"/><stop offset="0.139" stop-color="#007f85"/><stop offset="0.167" stop-color="#00847f"/><stop offset="0.194" stop-color="#00897a"/><stop offset="0.222" stop-color="#008d75"/><stop offset="0.250" stop-color="#00926f"/><stop offset="0.278" stop-color="#00976a"/><stop offset="0.306" stop-color="#009b65"/><stop offset="0.333" stop-color="#009f61"/><stop offset="0.361" stop-color="#00a25d"/><stop offset="0.389" stop-color="#00a559"/><stop offset="0.417" stop-color="#00a856"/><stop offset="0.444" stop-color="#00aa54"/><stop offset="0.472" stop-color="#00ab53"/><stop offset="0.500" stop-color="#00ac52"/><stop offset="0.528" stop-color="#00ac53"/><stop offset="0.556" stop-color="#00ab54"/><stop offset="0.583" stop-color="#00a956"/><stop offset="0.611" stop-color="#00a658"/><stop offset="0.639" stop-color="#00a45c"/><stop offset="0.667" stop-color="#00a05f"/><stop offset="0.694" stop-color="#009c64"/><stop offset="0.722" stop-color="#009868"/><stop offset="0.750" stop-color="#00946d"/><stop offset="0.778" stop-color="#008f73"/><stop offset="0.806" stop-color="#008a78"/><stop offset="0.833" stop-color="#00867d"/><stop offset="0.861" stop-color="#008183"/><stop offset="0.889" stop-color="#007c88"/><stop offset="0.917" stop-color="#00778e"/><stop offset="0.944" stop-color="#007294"/><stop offset="0.972" stop-color="#006d99"/><stop offset="1.000" stop-color="#00699e"/></linearGradient><linearGradient id="c131" x1="0" y1="0" x2="0" y2="1"><stop offset="0.000" stop-color="#006a9c"/><stop offset="0.028" stop-color="#006f97"/><stop offset="0.056" stop-color="#007492"/><stop offset="0.083" stop-color="#00798c"/><stop offset="0.111" stop-color="#007e86"/><stop offset="0.139" stop-color="#008381"/><stop offset="0.167" stop-color="#00887b"/><stop offset="0.194" stop-color="#008d75"/><stop offset="0.222" stop-color="#009270"/><stop offset="0.250" stop-color="#00966a"/><stop offset="0.278" stop-color="#009b65"/><stop offset="0.306" stop-color="#00a060"/><stop offset="0.333" stop-color="#00a45b"/><stop offset="0.361" stop-color="#00a757"/><stop offset="0.389" stop-color="#00ab53"/><stop offset="0.417" stop-color="#00ad50"/><stop offset="0.444" stop-color="#00af4e"/><stop offset="0.472" stop-color="#00b04d"/><stop offset="0.500" stop-color="#00b14c"/><stop offset="0.528" stop-color="#00b14c"/><stop offset="0.556" stop-color="#00b04e"/><stop offset="0.583" stop-color="#00ae50"/><stop offset="0.611" stop-color="#00ac52"/><stop offset="0.639" stop-color="#00a956"/><stop offset="0.667" stop-color="#00a55a"/><stop offset="0.694" stop-color="#00a15e"/><stop offset="0.722" stop-color="#009d63"/><stop offset="0.750" stop-color="#009868"/><stop offset="0.778" stop-color="#00936e"/><stop offset="0.806" stop-color="#008e73"/><stop offset="0.833" stop-color="#008979"/><stop offset="0.861" stop-color="#00847f"/><stop offset="0.889" stop-color="#008084"/><stop offset="0.917" stop-color="#007b8a"/><stop offset="0.944" stop-color="#007590"/><stop offset="0.972" stop-color="#007095"/><stop offset="1.000" stop-color="#006c9a"/></linearGradient><linearGradient id="c132" x1="0" y1="0" x2="0" y2="1"><stop offset="0.000" stop-color="#006f97"/><stop offset="0.028" stop-color="#007491"/><stop offset="0.056" stop-color="#00798c"/><stop offset="0.083" stop-color="#007e86"/><stop offset="0.111" stop-color="#008381"/><stop offset="0.139" stop-color="#00887b"/><stop offset="0.167" stop-color="#008d75"/><stop offset="0.194" stop-color="#009270"/><stop offset="0.222" stop-color="#00976a"/><stop offset="0.250" stop-color="#009c64"/><stop offset="0.278" stop-color="#00a15f"/><stop offset="0.306" stop-color="#00a559"/><stop offset="0.333" stop-color="#00aa55"/><stop offset="0.361" stop-color="#00ad50"/><stop offset="0.389" stop-color="#00b04d"/><stop offset="0.417" stop-color="#00b34a"/><stop offset="0.444" stop-color="#00b547"/><stop offset="0.472" stop-color="#00b646"/><stop offset="0.500" stop-color="#00b745"/><stop offset="0.528" stop-color="#00b645"/><stop offset="0.556" stop-color="#00b547"/><stop offset="0.583" stop-color="#00b449"/><stop offset="0.611" stop-color="#00b14b"/><stop offset="0.639" stop-color="#00af4f"/><stop offset="0.667" stop-color="#00ab53"/><stop offset="0.694" stop-color="#00a758"/><stop offset="0.722" stop-color="#00a25d"/><stop offset="0.750" stop-color="#009e62"/><stop offset="0.778" stop-color="#009968"/><stop offset="0.806" stop-color="#00946d"/><stop offset="0.833" stop-color="#008e73"/><stop offset="0.861" stop-color="#008979"/><stop offset="0.889" stop-color="#00847f"/><stop offset="0.917" stop-color="#008084"/><stop offset="0.944" stop-color="#007b8a"/><stop offset="0.972" stop-color="#00768f"/><stop offset="1.000" stop-color="#007195"/></linearGradient><linearGradient id="c133" x1="0" y1="0" x2="0" y2="1"><stop offset="0.000" stop-color="#00768f"/><stop offset="0.028" stop-color="#007b8a"/><stop offset="0.056" stop-color="#007f85"/><stop offset="0.083" stop-color="#00847f"/><stop offset="0.111" stop-color="#00897a"/><stop offset="0.139" stop-color="#008e74"/><stop offset="0.167" stop-color="#00936e"/><stop offset="0.194" stop-color="#009868"/><stop offset="0.222" stop-color="#009d63"/><stop offset="0.250" stop-color="#00a25d"/><stop offset="0.278" stop-color="#00a757"/><stop offset="0.306" stop-color="#00ac52"/><stop offset="0.333" stop-color="#00b04d"/><stop offset="0.361" stop-color="#00b449"/><stop offset="0.389" stop-color="#00b745"/><stop offset="0.417" stop-color="#00ba42"/><stop offset="0.444" stop-color="#00bc3f"/><stop offset="0.472" stop-color="#00bd3e"/><stop offset="0.500" stop-color="#00bd3d"/><stop offset="0.528" stop-color="#00bd3d"/><stop offset="0.556" stop-color="#00bc3f"/><stop offset="0.583" stop-color="#00ba41"/><stop offset="0.611" stop-color="#00b844"/><stop offset="0.639" stop-color="#00b547"/><stop offset="0.667" stop-color="#00b24b"/><stop offset="0.694" stop-color="#00ae50"/><stop offset="0.722" stop-color="#00a955"/><stop offset="0.750" stop-color="#00a45b"/><stop offset="0.778" stop-color="#009f60"/><stop offset="0.806" stop-color="#009a66"/><stop offset="0.833" stop-color="#00956c"/><stop offset="0.861" stop-color="#009072"/><stop offset="0.889" stop-color="#008a78"/><stop offset="0.917" stop-color="#00857d"/><stop offset="0.944" stop-color="#008183"/><stop offset="0.972" stop-color="#007c88"/><stop offset="1.000" stop-color="#00778d"/></linearGradient><linearGradient id="c134" x1="0" y1="0" x2="0" y2="1"><stop offset="0.000" stop-color="#007d87"/><stop offset="0.028" stop-color="#008182"/><stop offset="0.056" stop-color="#00867d"/><stop offset="0.083" stop-color="#008b78"/><stop offset="0.111" stop-color="#008f72"/><stop offset="0.139" stop-color="#00956c"/><stop offset="0.167" stop-color="#009a66"/><stop offset="0.194" stop-color="#009f60"/><stop offset="0.222" stop-color="#00a55a"/><stop offset="0.250" stop-color="#00aa54"/><stop offset="0.278" stop-color="#00af4f"/><stop offset="0.306" stop-color="#00b349"/><stop offset="0.333" stop-color="#00b744"/><stop offset="0.361" stop-color="#00bb40"/><stop offset="0.389" stop-color="#00be3c"/><stop offset="0.417" stop-color="#00c139"/><stop offset="0.444" stop-color="#00c336"/><stop offset="0.472" stop-color="#00c435"/><stop offset="0.500" stop-color="#00c534"/><stop offset="0.528" stop-color="#00c434"/><stop offset="0.556" stop-color="#00c336"/><stop offset="0.583" stop-color="#00c238"/><stop offset="0.611" stop-color="#00bf3b"/><stop offset="0.639" stop-color="#00bc3e"/><stop offset="0.667" stop-color="#00b943"/><stop offset="0.694" stop-color="#00b547"/><stop offset="0.722" stop-color="#00b04d"/><stop offset="0.750" stop-color="#00ac52"/><stop offset="0.778" stop-color="#00a758"/><stop offset="0.806" stop-color="#00a15e"/><stop offset="0.833" stop-color="#009c64"/><stop offset="0.861" stop-color="#00976a"/><stop offset="0.889" stop-color="#009170"/><stop offset="0.917" stop-color="#008c76"/><stop offset="0.944" stop-color="#00877b"/><stop offset="0.972" stop-color="#008380"/><stop offset="1.000" stop-color="#007f85"/></linearGradient><linearGradient id="c135" x1="0" y1="0" x2="0" y2="1"><stop offset="0.000" stop-color="#00847f"/><stop offset="0.028" stop-color="#00897a"/><stop offset="0.056" stop-color="#008d75"/><stop offset="0.083" stop-color="#00926f"/><stop offset="0.111" stop-color="#00976a"/><stop offset="0.139" stop-color="#009c64"/><stop offset="0.167" stop-color="#00a25e"/><stop offset="0.194" stop-color="#00a757"/><stop offset="0.222" stop-color="#00ad51"/><stop offset="0.250" stop-color="#00b14b"/><stop offset="0.278" stop-color="#00b646"/><stop offset="0.306" stop-color="#00bb40"/><stop offset="0.333" stop-color="#00bf3b"/><stop offset="0.361" stop-color="#00c336"/><stop offset="0.389" stop-color="#00c632"/><stop offset="0.417" stop-color="#00c92f"/><stop offset="0.444" stop-color="#00cb2d"/><stop offset="0.472" stop-color="#00cc2b"/><stop offset="0.500" stop-color="#00cd2a"/><stop offset="0.528" stop-color="#00cd2b"/><stop offset="0.556" stop-color="#00cb2c"/><stop offset="0.583" stop-color="#00ca2e"/><stop offset="0.611" stop-color="#00c731"/><stop offset="0.639" stop-color="#00c435"/><stop offset="0.667" stop-color="#00c039"/><stop offset="0.694" stop-color="#00bc3e"/><stop offset="0.722" stop-color="#00b844"/><stop offset="0.750" stop-color="#00b349"/><stop offset="0.778" stop-color="#00ae4f"/><stop offset="0.806" stop-color="#00a955"/><stop offset="0.833" stop-color="#00a45b"/><stop offset="0.861" stop-color="#009e61"/><stop offset="0.889" stop-color="#009967"/><stop offset="0.917" stop-color="#00946d"/><stop offset="0.944" stop-color="#008f73"/><stop offset="0.972" stop-color="#008a78"/><stop offset="1.000" stop-color="#00867d"/></linearGradient><linearGradient id="c136" x1="0" y1="0" x2="0" y2="1"><stop offset="0.000" stop-color="#008c76"/><stop offset="0.028" stop-color="#009071"/><stop offset="0.056" stop-color="#00956c"/><stop offset="0.083" stop-color="#009a67"/><stop offset="0.111" stop-color="#009f61"/><stop offset="0.139" stop-color="#00a45b"/><stop offset="0.167" stop-color="#00aa54"/><stop offset="0.194" stop-color="#00af4e"/><stop offset="0.222" stop-color="#00b448"/><stop offset="0.250" stop-color="#00b942"/><stop offset="0.278" stop-color="#00be3c"/><stop offset="0.306" stop-color="#00c336"/><stop offset="0.333" stop-color="#00c731"/><stop offset="0.361" stop-color="#00cb2d"/><stop offset="0.389" stop-color="#00ce28"/><stop offset="0.417" stop-color="#00d125"/><stop offset="0.444" stop-color="#00d322"/><stop offset="0.472" stop-color="#00d521"/><stop offset="0.500" stop-color="#00d520"/><stop offset="0.528" stop-color="#00d520"/><stop offset="0.556" stop-color="#00d422"/><stop offset="0.583" stop-color="#00d224"/><stop offset="0.611" stop-color="#00d027"/><stop offset="0.639" stop-color="#00cc2b"/><stop offset="0.667" stop-color="#00c92f"/><stop offset="0.694" stop-color="#00c435"/><stop offset="0.722" stop-color="#00c03a"/><stop offset="0.750" stop-color="#00bb40"/><stop offset="0.778" stop-color="#00b646"/><stop offset="0.806" stop-color="#00b14c"/><stop offset="0.833" stop-color="#00ac52"/><stop offset="0.861" stop-color="#00a658"/><stop offset="0.889" stop-color="#00a15f"/><stop offset="0.917" stop-color="#009c64"/><stop offset="0.944" stop-color="#00976a"/><stop offset="0.972" stop-color="#009270"/><stop offset="1.000" stop-color="#008d75"/></linearGradient><linearGradient id="c137" x1="0" y1="0" x2="0" y2="1"><stop offset="0.000" stop-color="#00936e"/><stop offset="0.028" stop-color="#009869"/><stop offset="0.056" stop-color="#009c63"/><stop offset="0.083" stop-color="#00a25e"/><stop offset="0.111" stop-color="#00a758"/><stop offset="0.139" stop-color="#00ac51"/><stop offset="0.167" stop-color="#00b24b"/><stop offset="0.194" stop-color="#00b745"/><stop offset="0.222" stop-color="#00bc3f"/><stop offset="0.250" stop-color="#00c138"/><stop offset="0.278" stop-color="#00c632"/><stop offset="0.306" stop-color="#00cb2d"/><stop offset="0.333" stop-color="#00cf27"/><stop offset="0.361" stop-color="#00d422"/><stop offset="0.389" stop-color="#00d71e"/><stop offset="0.417" stop-color="#00d91c"/><stop offset="0.444" stop-color="#00db1b"/><stop offset="0.472" stop-color="#00dc1a"/><stop offset="0.500" stop-color="#00dd1a"/><stop offset="0.528" stop-color="#00dc1a"/><stop offset="0.556" stop-color="#00dc1b"/><stop offset="0.583" stop-color="#00da1c"/><stop offset="0.611" stop-color="#00d81d"/><stop offset="0.639" stop-color="#00d521"/><stop offset="0.667" stop-color="#00d125"/><stop offset="0.694" stop-color="#00cd2b"/><stop offset="0.722" stop-color="#00c830"/><stop offset="0.750" stop-color="#00c336"/><stop offset="0.778" stop-color="#00be3c"/><stop offset="0.806" stop-color="#00b943"/><stop offset="0.833" stop-color="#00b349"/><stop offset="0.861" stop-color="#00ae4f"/><stop offset="0.889" stop-color="#00a955"/><stop offset="0.917" stop-color="#00a45c"/><stop offset="0.944" stop-color="#009e61"/><stop offset="0.972" stop-color="#009967"/><stop offset="1.000" stop-color="#00956c"/></linearGradient><linearGradient id="c138" x1="0" y1="0" x2="0" y2="1"><stop offset="0.000" stop-color="#009a66"/><stop offset="0.028" stop-color="#009f61"/><stop offset="0.056" stop-color="#00a45b"/><stop offset="0.083" stop-color="#00a955"/><stop offset="0.111" stop-color="#00ae4f"/><stop offset="0.139" stop-color="#00b449"/><stop offset="0.167" stop-color="#00b942"/><stop offset="0.194" stop-color="#00be3c"/><stop offset="0.222" stop-color="#00c435"/><stop offset="0.250" stop-color="#00c92f"/><stop offset="0.278" stop-color="#00ce29"/><stop offset="0.306" stop-color="#00d323"/><stop offset="0.333" stop-color="#00d81d"/><stop offset="0.361" stop-color="#00db1b"/><stop offset="0.389" stop-color="#00de19"/><stop offset="0.417" stop-color="#00e017"/><stop offset="0.444" stop-color="#00e216"/><stop offset="0.472" stop-color="#00e315"/><stop offset="0.500" stop-color="#00e414"/><stop offset="0.528" stop-color="#00e414"/><stop offset="0.556" stop-color="#00e315"/><stop offset="0.583" stop-color="#00e116"/><stop offset="0.611" stop-color="#00df18"/><stop offset="0.639" stop-color="#00dc1a"/><stop offset="0.667" stop-color="#00d91d"/><stop offset="0.694" stop-color="#00d520"/><stop offset="0.722" stop-color="#00d026"/><stop offset="0.750" stop-color="#00cb2d"/><stop offset="0.778" stop-color="#00c633"/><stop offset="0.806" stop-color="#00c039"/><stop offset="0.833" stop-color="#00bb40"/><stop offset="0.861" stop-color="#00b646"/><stop offset="0.889" stop-color="#00b04d"/><stop offset="0.917" stop-color="#00ab53"/><stop offset="0.944" stop-color="#00a659"/><stop offset="0.972" stop-color="#00a15f"/><stop offset="1.000" stop-color="#009c64"/></linearGradient><linearGradient id="c139" x1="0" y1="0" x2="0" y2="1"><stop offset="0.000" stop-color="#00a15f"/><stop offset="0.028" stop-color="#00a659"/><stop offset="0.056" stop-color="#00ab53"/><stop offset="0.083" stop-color="#00b04d"/><stop offset="0.111" stop-color="#00b547"/><stop offset="0.139" stop-color="#00ba40"/><stop offset="0.167" stop-color="#00c03a"/><stop offset="0.194" stop-color="#00c633"/><stop offset="0.222" stop-color="#00cb2c"/><stop offset="0.250" stop-color="#00d126"/><stop offset="0.278" stop-color="#00d61f"/><stop offset="0.306" stop-color="#00da1b"/><stop offset="0.333" stop-color="#00de19"/><stop offset="0.361" stop-color="#00e216"/><stop offset="0.389" stop-color="#00e513"/><stop offset="0.417" stop-color="#00e812"/><stop offset="0.444" stop-color="#00ea10"/><stop offset="0.472" stop-color="#00eb0f"/><stop offset="0.500" stop-color="#00ec0f"/><stop offset="0.528" stop-color="#00eb0f"/><stop offset="0.556" stop-color="#00ea10"/><stop offset="0.583" stop-color="#00e811"/><stop offset="0.611" stop-color="#00e613"/><stop offset="0.639" stop-color="#00e315"/><stop offset="0.667" stop-color="#00e018"/><stop offset="0.694" stop-color="#00dc1a"/><stop offset="0.722" stop-color="#00d81d"/><stop offset="0.750" stop-color="#00d323"/><stop offset="0.778" stop-color="#00cd2a"/><stop offset="0.806" stop-color="#00c831"/><stop offset="0.833" stop-color="#00c237"/><stop offset="0.861" stop-color="#00bc3e"/><stop offset="0.889" stop-color="#00b745"/><stop offset="0.917" stop-color="#00b24b"/><stop offset="0.944" stop-color="#00ad51"/><stop offset="0.972" stop-color="#00a757"/><stop offset="1.000" stop-color="#00a25d"/></linearGradient><linearGradient id="c140" x1="0" y1="0" x2="0" y2="1"><stop offset="0.000" stop-color="#00a758"/><stop offset="0.028" stop-color="#00ac52"/><stop offset="0.056" stop-color="#00b14c"/><stop offset="0.083" stop-color="#00b646"/><stop offset="0.111" stop-color="#00bb40"/><stop offset="0.139" stop-color="#00c139"/><stop offset="0.167" stop-color="#00c732"/><stop offset="0.194" stop-color="#00cc2b"/><stop offset="0.222" stop-color="#00d224"/><stop offset="0.250" stop-color="#00d81d"/><stop offset="0.278" stop-color="#00dc1a"/><stop offset="0.306" stop-color="#00e117"/><stop offset="0.333" stop-color="#00e514"/><stop offset="0.361" stop-color="#00e911"/><stop offset="0.389" stop-color="#00ec0e"/><stop offset="0.417" stop-color="#00ef0c"/><stop offset="0.444" stop-color="#00f10a"/><stop offset="0.472" stop-color="#00f309"/><stop offset="0.500" stop-color="#00f309"/><stop offset="0.528" stop-color="#00f309"/><stop offset="0.556" stop-color="#00f20a"/><stop offset="0.583" stop-color="#00f00b"/><stop offset="0.611" stop-color="#00ed0d"/><stop offset="0.639" stop-color="#00ea10"/><stop offset="0.667" stop-color="#00e613"/><stop offset="0.694" stop-color="#00e216"/><stop offset="0.722" stop-color="#00de19"/><stop offset="0.750" stop-color="#00d91c"/><stop offset="0.778" stop-color="#00d421"/><stop offset="0.806" stop-color="#00ce28"/><stop offset="0.833" stop-color="#00c92f"/><stop offset="0.861" stop-color="#00c336"/><stop offset="0.889" stop-color="#00bd3d"/><stop offset="0.917" stop-color="#00b844"/><stop offset="0.944" stop-color="#00b34a"/><stop offset="0.972" stop-color="#00ae50"/><stop offset="1.000" stop-color="#00a856"/></linearGradient><linearGradient id="c141" x1="0" y1="0" x2="0" y2="1"><stop offset="0.000" stop-color="#00ac52"/><stop offset="0.028" stop-color="#00b14c"/><stop offset="0.056" stop-color="#00b646"/><stop offset="0.083" stop-color="#00bb40"/><stop offset="0.111" stop-color="#00c139"/><stop offset="0.139" stop-color="#00c732"/><stop offset="0.167" stop-color="#00cd2b"/><stop offset="0.194" stop-color="#00d323"/><stop offset="0.222" stop-color="#00d81d"/><stop offset="0.250" stop-color="#00dd19"/><stop offset="0.278" stop-color="#00e216"/><stop offset="0.306" stop-color="#00e712"/><stop offset="0.333" stop-color="#00eb0f"/><stop offset="0.361" stop-color="#00f00c"/><stop offset="0.389" stop-color="#00f309"/><stop offset="0.417" stop-color="#00f706"/><stop offset="0.444" stop-color="#00f904"/><stop offset="0.472" stop-color="#00fb03"/><stop offset="0.500" stop-color="#00fc03"/><stop offset="0.528" stop-color="#00fb03"/><stop offset="0.556" stop-color="#00fa04"/><stop offset="0.583" stop-color="#00f806"/><stop offset="0.611" stop-color="#00f508"/><stop offset="0.639" stop-color="#00f10b"/><stop offset="0.667" stop-color="#00ed0e"/><stop offset="0.694" stop-color="#00e811"/><stop offset="0.722" stop-color="#00e414"/><stop offset="0.750" stop-color="#00df18"/><stop offset="0.778" stop-color="#00da1c"/><stop offset="0.806" stop-color="#00d521"/><stop offset="0.833" stop-color="#00cf28"/><stop offset="0.861" stop-color="#00c92f"/><stop offset="0.889" stop-color="#00c336"/><stop offset="0.917" stop-color="#00bd3d"/><stop offset="0.944" stop-color="#00b844"/><stop offset="0.972" stop-color="#00b34a"/><stop offset="1.000" stop-color="#00ae50"/></linearGradient><linearGradient id="c142" x1="0" y1="0" x2="0" y2="1"><stop offset="0.000" stop-color="#00b04d"/><stop offset="0.028" stop-color="#00b547"/><stop offset="0.056" stop-color="#00ba41"/><stop offset="0.083" stop-color="#00c03a"/><stop offset="0.111" stop-color="#00c633"/><stop offset="0.139" stop-color="#00cc2c"/><stop offset="0.167" stop-color="#00d224"/><stop offset="0.194" stop-color="#00d81d"/><stop offset="0.222" stop-color="#00dd19"/><stop offset="0.250" stop-color="#00e216"/><stop offset="0.278" stop-color="#00e812"/><stop offset="0.306" stop-color="#00ed0e"/><stop offset="0.333" stop-color="#00f20a"/><stop offset="0.361" stop-color="#00f607"/><stop offset="0.389" stop-color="#00fa03"/><stop offset="0.417" stop-color="#00fe01"/><stop offset="0.444" stop-color="#04ff04"/><stop offset="0.472" stop-color="#08ff08"/><stop offset="0.500" stop-color="#0aff0a"/><stop offset="0.528" stop-color="#09ff09"/><stop offset="0.556" stop-color="#06ff06"/><stop offset="0.583" stop-color="#01ff01"/><stop offset="0.611" stop-color="#00fc02"/><stop offset="0.639" stop-color="#00f805"/><stop offset="0.667" stop-color="#00f309"/><stop offset="0.694" stop-color="#00ee0c"/><stop offset="0.722" stop-color="#00e910"/><stop offset="0.750" stop-color="#00e414"/><stop offset="0.778" stop-color="#00df18"/><stop offset="0.806" stop-color="#00da1c"/><stop offset="0.833" stop-color="#00d421"/><stop offset="0.861" stop-color="#00ce29"/><stop offset="0.889" stop-color="#00c830"/><stop offset="0.917" stop-color="#00c237"/><stop offset="0.944" stop-color="#00bc3e"/><stop offset="0.972" stop-color="#00b745"/><stop offset="1.000" stop-color="#00b24b"/></linearGradient><linearGradient id="c143" x1="0" y1="0" x2="0" y2="1"><stop offset="0.000" stop-color="#00b349"/><stop offset="0.028" stop-color="#00b943"/><stop offset="0.056" stop-color="#00be3c"/><stop offset="0.083" stop-color="#00c435"/><stop offset="0.111" stop-color="#00ca2e"/><stop offset="0.139" stop-color="#00d026"/><stop offset="0.167" stop-color="#00d71e"/><stop offset="0.194" stop-color="#00dc1a"/><stop offset="0.222" stop-color="#00e216"/><stop offset="0.250" stop-color="#00e712"/><stop offset="0.278" stop-color="#00ed0e"/><stop offset="0.306" stop-color="#00f20a"/><stop offset="0.333" stop-color="#00f706"/><stop offset="0.361" stop-color="#00fd02"/><stop offset="0.389" stop-color="#05ff05"/><stop offset="0.417" stop-color="#0dff0d"/><stop offset="0.444" stop-color="#14ff14"/><stop offset="0.472" stop-color="#19ff19"/><stop offset="0.500" stop-color="#1bff1b"/><stop offset="0.528" stop-color="#1aff1a"/><stop offset="0.556" stop-color="#16ff16"/><stop offset="0.583" stop-color="#10ff10"/><stop offset="0.611" stop-color="#08ff08"/><stop offset="0.639" stop-color="#00fe00"/><stop offset="0.667" stop-color="#00f904"/><stop offset="0.694" stop-color="#00f408"/><stop offset="0.722" stop-color="#00ef0c"/><stop offset="0.750" stop-color="#00e910"/><stop offset="0.778" stop-color="#00e415"/><stop offset="0.806" stop-color="#00de19"/><stop offset="0.833" stop-color="#00d91d"/><stop offset="0.861" stop-color="#00d323"/><stop offset="0.889" stop-color="#00cc2b"/><stop offset="0.917" stop-color="#00c632"/><stop offset="0.944" stop-color="#00c039"/><stop offset="0.972" stop-color="#00bb40"/><stop offset="1.000" stop-color="#00b547"/></linearGradient><linearGradient id="c144" x1="0" y1="0" x2="0" y2="1"><stop offset="0.000" stop-color="#00b645"/><stop offset="0.028" stop-color="#00bc3f"/><stop offset="0.056" stop-color="#00c238"/><stop offset="0.083" stop-color="#00c831"/><stop offset="0.111" stop-color="#00ce29"/><stop offset="0.139" stop-color="#00d421"/><stop offset="0.167" stop-color="#00da1c"/><stop offset="0.194" stop-color="#00e017"/><stop offset="0.222" stop-color="#00e613"/><stop offset="0.250" stop-color="#00ec0f"/><stop offset="0.278" stop-color="#00f20a"/><stop offset="0.306" stop-color="#00f706"/><stop offset="0.333" stop-color="#00fd01"/><stop offset="0.361" stop-color="#07ff07"/><stop offset="0.389" stop-color="#12ff12"/><stop offset="0.417" stop-color="#1cff1c"/><stop offset="0.444" stop-color="#25ff25"/><stop offset="0.472" stop-color="#2bff2b"/><stop offset="0.500" stop-color="#2eff2e"/><stop offset="0.528" stop-color="#2dff2d"/><stop offset="0.556" stop-color="#28ff28"/><stop offset="0.583" stop-color="#20ff20"/><stop offset="0.611" stop-color="#16ff16"/><stop offset="0.639" stop-color="#0bff0b"/><stop offset="0.667" stop-color="#00ff00"/><stop offset="0.694" stop-color="#00f904"/><stop offset="0.722" stop-color="#00f409"/><stop offset="0.750" stop-color="#00ee0d"/><stop offset="0.778" stop-color="#00e811"/><stop offset="0.806" stop-color="#00e216"/><stop offset="0.833" stop-color="#00dc1a"/><stop offset="0.861" stop-color="#00d71e"/><stop offset="0.889" stop-color="#00d026"/><stop offset="0.917" stop-color="#00ca2e"/><stop offset="0.944" stop-color="#00c435"/><stop offset="0.972" stop-color="#00be3c"/><stop offset="1.000" stop-color="#00b843"/></linearGradient><linearGradient id="c145" x1="0" y1="0" x2="0" y2="1"><stop offset="0.000" stop-color="#00b942"/><stop offset="0.028" stop-color="#00be3c"/><stop offset="0.056" stop-color="#00c434"/><stop offset="0.083" stop-color="#00cb2d"/><stop offset="0.111" stop-color="#00d125"/><stop offset="0.139" stop-color="#00d81d"/><stop offset="0.167" stop-color="#00dd19"/><stop offset="0.194" stop-color="#00e315"/><stop offset="0.222" stop-color="#00e910"/><stop offset="0.250" stop-color="#00f00b"/><stop offset="0.278" stop-color="#00f607"/><stop offset="0.306" stop-color="#00fc02"/><stop offset="0.333" stop-color="#06ff06"/><stop offset="0.361" stop-color="#13ff13"/><stop offset="0.389" stop-color="#1fff1f"/><stop offset="0.417" stop-color="#2cff2c"/><stop offset="0.444" stop-color="#37ff37"/><stop offset="0.472" stop-color="#3fff3f"/><stop offset="0.500" stop-color="#43ff43"/><stop offset="0.528" stop-color="#41ff41"/><stop offset="0.556" stop-color="#3aff3a"/><stop offset="0.583" stop-color="#30ff30"/><stop offset="0.611" stop-color="#24ff24"/><stop offset="0.639" stop-color="#17ff17"/><stop offset="0.667" stop-color="#0bff0b"/><stop offset="0.694" stop-color="#00fe01"/><stop offset="0.722" stop-color="#00f805"/><stop offset="0.750" stop-color="#00f20a"/><stop offset="0.778" stop-color="#00ec0f"/><stop offset="0.806" stop-color="#00e513"/><stop offset="0.833" stop-color="#00df18"/><stop offset="0.861" stop-color="#00da1c"/><stop offset="0.889" stop-color="#00d422"/><stop offset="0.917" stop-color="#00cd2a"/><stop offset="0.944" stop-color="#00c732"/><stop offset="0.972" stop-color="#00c139"/><stop offset="1.000" stop-color="#00bb40"/></linearGradient><linearGradient id="c146" x1="0" y1="0" x2="0" y2="1"><stop offset="0.000" stop-color="#00bb40"/><stop offset="0.028" stop-color="#00c139"/><stop offset="0.056" stop-color="#00c732"/><stop offset="0.083" stop-color="#00cd2a"/><stop offset="0.111" stop-color="#00d422"/><stop offset="0.139" stop-color="#00da1c"/><stop offset="0.167" stop-color="#00e017"/><stop offset="0.194" stop-color="#00e613"/><stop offset="0.222" stop-color="#00ed0e"/><stop offset="0.250" stop-color="#00f309"/><stop offset="0.278" stop-color="#00fa04"/><stop offset="0.306" stop-color="#02ff02"/><stop offset="0.333" stop-color="#0fff0f"/><stop offset="0.361" stop-color="#1dff1d"/><stop offset="0.389" stop-color="#2cff2c"/><stop offset="0.417" stop-color="#3cff3c"/><stop offset="0.444" stop-color="#4aff4a"/><stop offset="0.472" stop-color="#60ff60"/><stop offset="0.500" stop-color="#6dff6d"/><stop offset="0.528" stop-color="#67ff67"/><stop offset="0.556" stop-color="#4fff4f"/><stop offset="0.583" stop-color="#41ff41"/><stop offset="0.611" stop-color="#32ff32"/><stop offset="0.639" stop-color="#23ff23"/><stop offset="0.667" stop-color="#14ff14"/><stop offset="0.694" stop-color="#07ff07"/><stop offset="0.722" stop-color="#00fc02"/><stop offset="0.750" stop-color="#00f607"/><stop offset="0.778" stop-color="#00ef0c"/><stop offset="0.806" stop-color="#00e811"/><stop offset="0.833" stop-color="#00e216"/><stop offset="0.861" stop-color="#00dc1a"/><stop offset="0.889" stop-color="#00d61f"/><stop offset="0.917" stop-color="#00d027"/><stop offset="0.944" stop-color="#00c92f"/><stop offset="0.972" stop-color="#00c336"/><stop offset="1.000" stop-color="#00bd3e"/></linearGradient><linearGradient id="c147" x1="0" y1="0" x2="0" y2="1"><stop offset="0.000" stop-color="#00bd3e"/><stop offset="0.028" stop-color="#00c237"/><stop offset="0.056" stop-color="#00c92f"/><stop offset="0.083" stop-color="#00cf27"/><stop offset="0.111" stop-color="#00d61f"/><stop offset="0.139" stop-color="#00dc1a"/><stop offset="0.167" stop-color="#00e216"/><stop offset="0.194" stop-color="#00e911"/><stop offset="0.222" stop-color="#00f00c"/><stop offset="0.250" stop-color="#00f607"/><stop offset="0.278" stop-color="#00fd02"/><stop offset="0.306" stop-color="#09ff09"/><stop offset="0.333" stop-color="#18ff18"/><stop offset="0.361" stop-color="#27ff27"/><stop offset="0.389" stop-color="#39ff39"/><stop offset="0.417" stop-color="#4cff4c"/><stop offset="0.444" stop-color="#78ff78"/><stop offset="0.472" stop-color="#a0ffa0"/><stop offset="0.500" stop-color="#b2ffb2"/><stop offset="0.528" stop-color="#aaffaa"/><stop offset="0.556" stop-color="#88ff88"/><stop offset="0.583" stop-color="#59ff59"/><stop offset="0.611" stop-color="#40ff40"/><stop offset="0.639" stop-color="#2eff2e"/><stop offset="0.667" stop-color="#1dff1d"/><stop offset="0.694" stop-color="#0eff0e"/><stop offset="0.722" stop-color="#01ff01"/><stop offset="0.750" stop-color="#00f905"/><stop offset="0.778" stop-color="#00f20a"/><stop offset="0.806" stop-color="#00eb0f"/><stop offset="0.833" stop-color="#00e514"/><stop offset="0.861" stop-color="#00de18"/><stop offset="0.889" stop-color="#00d91d"/><stop offset="0.917" stop-color="#00d224"/><stop offset="0.944" stop-color="#00cb2c"/><stop offset="0.972" stop-color="#00c534"/><stop offset="1.000" stop-color="#00bf3b"/></linearGradient><linearGradient id="c148" x1="0" y1="0" x2="0" y2="1"><stop offset="0.000" stop-color="#00be3c"/><stop offset="0.028" stop-color="#00c435"/><stop offset="0.056" stop-color="#00ca2d"/><stop offset="0.083" stop-color="#00d125"/><stop offset="0.111" stop-color="#00d81d"/><stop offset="0.139" stop-color="#00de19"/><stop offset="0.167" stop-color="#00e414"/><stop offset="0.194" stop-color="#00eb0f"/><stop offset="0.222" stop-color="#00f20a"/><stop offset="0.250" stop-color="#00f905"/><stop offset="0.278" stop-color="#01ff01"/><stop offset="0.306" stop-color="#0fff0f"/><stop offset="0.333" stop-color="#1fff1f"/><stop offset="0.361" stop-color="#30ff30"/><stop offset="0.389" stop-color="#45ff45"/><stop offset="0.417" stop-color="#71ff71"/><stop offset="0.444" stop-color="#b0ffb0"/><stop offset="0.472" stop-color="#d4ffd4"/><stop offset="0.500" stop-color="#e7ffe7"/><stop offset="0.528" stop-color="#deffde"/><stop offset="0.556" stop-color="#beffbe"/><stop offset="0.583" stop-color="#88ff88"/><stop offset="0.611" stop-color="#4dff4d"/><stop offset="0.639" stop-color="#38ff38"/><stop offset="0.667" stop-color="#25ff25"/><stop offset="0.694" stop-color="#15ff15"/><stop offset="0.722" stop-color="#06ff06"/><stop offset="0.750" stop-color="#00fb03"/><stop offset="0.778" stop-color="#00f408"/><stop offset="0.806" stop-color="#00ee0d"/><stop offset="0.833" stop-color="#00e712"/><stop offset="0.861" stop-color="#00e017"/><stop offset="0.889" stop-color="#00da1c"/><stop offset="0.917" stop-color="#00d422"/><stop offset="0.944" stop-color="#00cd2a"/><stop offset="0.972" stop-color="#00c632"/><stop offset="1.000" stop-color="#00c03a"/></linearGradient><linearGradient id="c149" x1="0" y1="0" x2="0" y2="1"><stop offset="0.000" stop-color="#00bf3b"/><stop offset="0.028" stop-color="#00c534"/><stop offset="0.056" stop-color="#00cc2c"/><stop offset="0.083" stop-color="#00d223"/><stop offset="0.111" stop-color="#00d91c"/><stop offset="0.139" stop-color="#00df18"/><stop offset="0.167" stop-color="#00e613"/><stop offset="0.194" stop-color="#00ed0e"/><stop offset="0.222" stop-color="#00f408"/><stop offset="0.250" stop-color="#00fb03"/><stop offset="0.278" stop-color="#06ff06"/><stop offset="0.306" stop-color="#14ff14"/><stop offset="0.333" stop-color="#25ff25"/><stop offset="0.361" stop-color="#38ff38"/><stop offset="0.389" stop-color="#51ff51"/><stop offset="0.417" stop-color="#99ff99"/><stop offset="0.444" stop-color="#d6ffd6"/><stop offset="0.472" stop-color="#ffffff"/><stop offset="0.500" stop-color="#ffffff"/><stop offset="0.528" stop-color="#ffffff"/><stop offset="0.556" stop-color="#eaffea"/><stop offset="0.583" stop-color="#b3ffb3"/><stop offset="0.611" stop-color="#69ff69"/><stop offset="0.639" stop-color="#40ff40"/><stop offset="0.667" stop-color="#2bff2b"/><stop offset="0.694" stop-color="#1aff1a"/><stop offset="0.722" stop-color="#0bff0b"/><stop offset="0.750" stop-color="#00fd01"/><stop offset="0.778" stop-color="#00f606"/><stop offset="0.806" stop-color="#00ef0c"/><stop offset="0.833" stop-color="#00e811"/><stop offset="0.861" stop-color="#00e216"/><stop offset="0.889" stop-color="#00db1b"/><stop offset="0.917" stop-color="#00d520"/><stop offset="0.944" stop-color="#00ce29"/><stop offset="0.972" stop-color="#00c731"/><stop offset="1.000" stop-color="#00c139"/></linearGradient><linearGradient id="c150" x1="0" y1="0" x2="0" y2="1"><stop offset="0.000" stop-color="#00c03a"/><stop offset="0.028" stop-color="#00c633"/><stop offset="0.056" stop-color="#00cd2b"/><stop offset="0.083" stop-color="#00d422"/><stop offset="0.111" stop-color="#00da1c"/><stop offset="0.139" stop-color="#00e017"/><stop offset="0.167" stop-color="#00e712"/><stop offset="0.194" stop-color="#00ee0d"/><stop offset="0.222" stop-color="#00f507"/><stop offset="0.250" stop-color="#00fc02"/><stop offset="0.278" stop-color="#09ff09"/><stop offset="0.306" stop-color="#18ff18"/><stop offset="0.333" stop-color="#29ff29"/><stop offset="0.361" stop-color="#3fff3f"/><stop offset="0.389" stop-color="#67ff67"/><stop offset="0.417" stop-color="#b7ffb7"/><stop offset="0.444" stop-color="#fcfffc"/><stop offset="0.472" stop-color="#ffffff"/><stop offset="0.500" stop-color="#ffffff"/><stop offset="0.528" stop-color="#ffffff"/><stop offset="0.556" stop-color="#ffffff"/><stop offset="0.583" stop-color="#ceffce"/><stop offset="0.611" stop-color="#84ff84"/><stop offset="0.639" stop-color="#47ff47"/><stop offset="0.667" stop-color="#31ff31"/><stop offset="0.694" stop-color="#1eff1e"/><stop offset="0.722" stop-color="#0eff0e"/><stop offset="0.750" stop-color="#00ff00"/><stop offset="0.778" stop-color="#00f805"/><stop offset="0.806" stop-color="#00f10b"/><stop offset="0.833" stop-color="#00ea10"/><stop offset="0.861" stop-color="#00e315"/><stop offset="0.889" stop-color="#00dc1a"/><stop offset="0.917" stop-color="#00d61f"/><stop offset="0.944" stop-color="#00cf28"/><stop offset="0.972" stop-color="#00c830"/><stop offset="1.000" stop-color="#00c238"/></linearGradient><linearGradient id="c151" x1="0" y1="0" x2="0" y2="1"><stop offset="0.000" stop-color="#00c03a"/><stop offset="0.028" stop-color="#00c632"/><stop offset="0.056" stop-color="#00cd2a"/><stop offset="0.083" stop-color="#00d421"/><stop offset="0.111" stop-color="#00db1b"/><stop offset="0.139" stop-color="#00e116"/><stop offset="0.167" stop-color="#00e811"/><stop offset="0.194" stop-color="#00ef0c"/><stop offset="0.222" stop-color="#00f607"/><stop offset="0.250" stop-color="#00fd01"/><stop offset="0.278" stop-color="#0bff0b"/><stop offset="0.306" stop-color="#1aff1a"/><stop offset="0.333" stop-color="#2dff2d"/><stop offset="0.361" stop-color="#43ff43"/><stop offset="0.389" stop-color="#78ff78"/><stop offset="0.417" stop-color="#c9ffc9"/><stop offset="0.444" stop-color="#ffffff"/><stop offset="0.472" stop-color="#ffffff"/><stop offset="0.500" stop-color="#ffffff"/><stop offset="0.528" stop-color="#ffffff"/><stop offset="0.556" stop-color="#ffffff"/><stop offset="0.583" stop-color="#e4ffe4"/><stop offset="0.611" stop-color="#97ff97"/><stop offset="0.639" stop-color="#4cff4c"/><stop offset="0.667" stop-color="#34ff34"/><stop offset="0.694" stop-color="#21ff21"/><stop offset="0.722" stop-color="#10ff10"/><stop offset="0.750" stop-color="#02ff02"/><stop offset="0.778" stop-color="#00f905"/><stop offset="0.806" stop-color="#00f20a"/><stop offset="0.833" stop-color="#00ea0f"/><stop offset="0.861" stop-color="#00e315"/><stop offset="0.889" stop-color="#00dd1a"/><stop offset="0.917" stop-color="#00d71e"/><stop offset="0.944" stop-color="#00d027"/><stop offset="0.972" stop-color="#00c92f"/><stop offset="1.000" stop-color="#00c237"/></linearGradient><linearGradient id="c152" x1="0" y1="0" x2="0" y2="1"><stop offset="0.000" stop-color="#00c039"/><stop offset="0.028" stop-color="#00c732"/><stop offset="0.056" stop-color="#00cd2a"/><stop offset="0.083" stop-color="#00d521"/><stop offset="0.111" stop-color="#00db1b"/><stop offset="0.139" stop-color="#00e116"/><stop offset="0.167" stop-color="#00e811"/><stop offset="0.194" stop-color="#00f00c"/><stop offset="0.222" stop-color="#00f706"/><stop offset="0.250" stop-color="#00fe01"/><stop offset="0.278" stop-color="#0cff0c"/><stop offset="0.306" stop-color="#1cff1c"/><stop offset="0.333" stop-color="#2eff2e"/><stop offset="0.361" stop-color="#45ff45"/><stop offset="0.389" stop-color="#81ff81"/><stop offset="0.417" stop-color="#d2ffd2"/><stop offset="0.444" stop-color="#ffffff"/><stop offset="0.472" stop-color="#ffffff"/><stop offset="0.500" stop-color="#ffffff"/><stop offset="0.528" stop-color="#ffffff"/><stop offset="0.556" stop-color="#ffffff"/><stop offset="0.583" stop-color="#f0fff0"/><stop offset="0.611" stop-color="#a2ffa2"/><stop offset="0.639" stop-color="#4fff4f"/><stop offset="0.667" stop-color="#36ff36"/><stop offset="0.694" stop-color="#22ff22"/><stop offset="0.722" stop-color="#11ff11"/><stop offset="0.750" stop-color="#03ff03"/><stop offset="0.778" stop-color="#00f904"/><stop offset="0.806" stop-color="#00f20a"/><stop offset="0.833" stop-color="#00eb0f"/><stop offset="0.861" stop-color="#00e414"/><stop offset="0.889" stop-color="#00dd19"/><stop offset="0.917" stop-color="#00d71e"/><stop offset="0.944" stop-color="#00d026"/><stop offset="0.972" stop-color="#00c92f"/><stop offset="1.000" stop-color="#00c337"/></linearGradient><linearGradient id="c153" x1="0" y1="0" x2="0" y2="1"><stop offset="0.000" stop-color="#00c039"/><stop offset="0.028" stop-color="#00c732"/><stop offset="0.056" stop-color="#00cd2a"/><stop offset="0.083" stop-color="#00d521"/><stop offset="0.111" stop-color="#00db1b"/><stop offset="0.139" stop-color="#00e116"/><stop offset="0.167" stop-color="#00e811"/><stop offset="0.194" stop-color="#00f00c"/><stop offset="0.222" stop-color="#00f706"/><stop offset="0.250" stop-color="#00fe01"/><stop offset="0.278" stop-color="#0cff0c"/><stop offset="0.306" stop-color="#1cff1c"/><stop offset="0.333" stop-color="#2eff2e"/><stop offset="0.361" stop-color="#45ff45"/><stop offset="0.389" stop-color="#81ff81"/><stop offset="0.417" stop-color="#d2ffd2"/><stop offset="0.444" stop-color="#ffffff"/><stop offset="0.472" stop-color="#ffffff"/><stop offset="0.500" stop-color="#ffffff"/><stop offset="0.528" stop-color="#ffffff"/><stop offset="0.556" stop-color="#ffffff"/><stop offset="0.583" stop-color="#f0fff0"/><stop offset="0.611" stop-color="#a2ffa2"/><stop offset="0.639" stop-color="#4fff4f"/><stop offset="0.667" stop-color="#36ff36"/><stop offset="0.694" stop-color="#22ff22"/><stop offset="0.722" stop-color="#11ff11"/><stop offset="0.750" stop-color="#03ff03"/><stop offset="0.778" stop-color="#00f904"/><stop offset="0.806" stop-color="#00f20a"/><stop offset="0.833" stop-color="#00eb0f"/><stop offset="0.861" stop-color="#00e414"/><stop offset="0.889" stop-color="#00dd19"/><stop offset="0.917" stop-color="#00d71e"/><stop offset="0.944" stop-color="#00d026"/><stop offset="0.972" stop-color="#00c92f"/><stop offset="1.000" stop-color="#00c337"/></linearGradient><linearGradient id="c154" x1="0" y1="0" x2="0" y2="1"><stop offset="0.000" stop-color="#00c03a"/><stop offset="0.028" stop-color="#00c632"/><stop offset="0.056" stop-color="#00cd2a"/><stop offset="0.083" stop-color="#00d421"/><stop offset="0.111" stop-color="#00db1b"/><stop offset="0.139" stop-color="#00e116"/><stop offset="0.167" stop-color="#00e811"/><stop offset="0.194" stop-color="#00ef0c"/><stop offset="0.222" stop-color="#00f607"/><stop offset="0.250" stop-color="#00fd01"/><stop offset="0.278" stop-color="#0bff0b"/><stop offset="0.306" stop-color="#1aff1a"/><stop offset="0.333" stop-color="#2dff2d"/><stop offset="0.361" stop-color="#43ff43"/><stop offset="0.389" stop-color="#78ff78"/><stop offset="0.417" stop-color="#c9ffc9"/><stop offset="0.444" stop-color="#ffffff"/><stop offset="0.472" stop-color="#ffffff"/><stop offset="0.500" stop-color="#ffffff"/><stop offset="0.528" stop-color="#ffffff"/><stop offset="0.556" stop-color="#ffffff"/><stop offset="0.583" stop-color="#e4ffe4"/><stop offset="0.611" stop-color="#97ff97"/><stop offset="0.639" stop-color="#4cff4c"/><stop offset="0.667" stop-color="#34ff34"/><stop offset="0.694" stop-color="#21ff21"/><stop offset="0.722" stop-color="#10ff10"/><stop offset="0.750" stop-color="#02ff02"/><stop offset="0.778" stop-color="#00f905"/><stop offset="0.806" stop-color="#00f20a"/><stop offset="0.833" stop-color="#00ea0f"/><stop offset="0.861" stop-color="#00e315"/><stop offset="0.889" stop-color="#00dd1a"/><stop offset="0.917" stop-color="#00d71e"/><stop offset="0.944" stop-color="#00d027"/><stop offset="0.972" stop-color="#00c92f"/><stop offset="1.000" stop-color="#00c237"/></linearGradient><linearGradient id="c155" x1="0" y1="0" x2="0" y2="1"><stop offset="0.000" stop-color="#00c03a"/><stop offset="0.028" stop-color="#00c633"/><stop offset="0.056" stop-color="#00cd2b"/><stop offset="0.083" stop-color="#00d422"/><stop offset="0.111" stop-color="#00da1c"/><stop offset="0.139" stop-color="#00e017"/><stop offset="0.167" stop-color="#00e712"/><stop offset="0.194" stop-color="#00ee0d"/><stop offset="0.222" stop-color="#00f507"/><stop offset="0.250" stop-color="#00fc02"/><stop offset="0.278" stop-color="#09ff09"/><stop offset="0.306" stop-color="#18ff18"/><stop offset="0.333" stop-color="#29ff29"/><stop offset="0.361" stop-color="#3fff3f"/><stop offset="0.389" stop-color="#68ff68"/><stop offset="0.417" stop-color="#b7ffb7"/><stop offset="0.444" stop-color="#fcfffc"/><stop offset="0.472" stop-color="#ffffff"/><stop offset="0.500" stop-color="#ffffff"/><stop offset="0.528" stop-color="#ffffff"/><stop offset="0.556" stop-color="#ffffff"/><stop offset="0.583" stop-color="#ceffce"/><stop offset="0.611" stop-color="#84ff84"/><stop offset="0.639" stop-color="#47ff47"/><stop offset="0.667" stop-color="#31ff31"/><stop offset="0.694" stop-color="#1eff1e"/><stop offset="0.722" stop-color="#0eff0e"/><stop offset="0.750" stop-color="#00ff00"/><stop offset="0.778" stop-color="#00f805"/><stop offset="0.806" stop-color="#00f10b"/><stop offset="0.833" stop-color="#00ea10"/><stop offset="0.861" stop-color="#00e315"/><stop offset="0.889" stop-color="#00dc1a"/><stop offset="0.917" stop-color="#00d61f"/><stop offset="0.944" stop-color="#00cf28"/><stop offset="0.972" stop-color="#00c830"/><stop offset="1.000" stop-color="#00c237"/></linearGradient><linearGradient id="c156" x1="0" y1="0" x2="0" y2="1"><stop offset="0.000" stop-color="#00bf3b"/><stop offset="0.028" stop-color="#00c533"/><stop offset="0.056" stop-color="#00cc2c"/><stop offset="0.083" stop-color="#00d323"/><stop offset="0.111" stop-color="#00d91c"/><stop offset="0.139" stop-color="#00df18"/><stop offset="0.167" stop-color="#00e613"/><stop offset="0.194" stop-color="#00ed0e"/><stop offset="0.222" stop-color="#00f408"/><stop offset="0.250" stop-color="#00fb03"/><stop offset="0.278" stop-color="#06ff06"/><stop offset="0.306" stop-color="#14ff14"/><stop offset="0.333" stop-color="#25ff25"/><stop offset="0.361" stop-color="#38ff38"/><stop offset="0.389" stop-color="#51ff51"/><stop offset="0.417" stop-color="#99ff99"/><stop offset="0.444" stop-color="#d6ffd6"/><stop offset="0.472" stop-color="#ffffff"/><stop offset="0.500" stop-color="#ffffff"/><stop offset="0.528" stop-color="#ffffff"/><stop offset="0.556" stop-color="#eaffea"/><stop offset="0.583" stop-color="#b3ffb3"/><stop offset="0.611" stop-color="#69ff69"/><stop offset="0.639" stop-color="#40ff40"/><stop offset="0.667" stop-color="#2cff2c"/><stop offset="0.694" stop-color="#1aff1a"/><stop offset="0.722" stop-color="#0bff0b"/><stop offset="0.750" stop-color="#00fd01"/><stop offset="0.778" stop-color="#00f706"/><stop offset="0.806" stop-color="#00f00c"/><stop offset="0.833" stop-color="#00e811"/><stop offset="0.861" stop-color="#00e216"/><stop offset="0.889" stop-color="#00db1b"/><stop offset="0.917" stop-color="#00d520"/><stop offset="0.944" stop-color="#00ce29"/><stop offset="0.972" stop-color="#00c831"/><stop offset="1.000" stop-color="#00c138"/></linearGradient><linearGradient id="c157" x1="0" y1="0" x2="0" y2="1"><stop offset="0.000" stop-color="#00be3c"/><stop offset="0.028" stop-color="#00c435"/><stop offset="0.056" stop-color="#00cb2d"/><stop offset="0.083" stop-color="#00d125"/><stop offset="0.111" stop-color="#00d81d"/><stop offset="0.139" stop-color="#00de19"/><stop offset="0.167" stop-color="#00e414"/><stop offset="0.194" stop-color="#00eb0f"/><stop offset="0.222" stop-color="#00f20a"/><stop offset="0.250" stop-color="#00f904"/><stop offset="0.278" stop-color="#02ff02"/><stop offset="0.306" stop-color="#10ff10"/><stop offset="0.333" stop-color="#1fff1f"/><stop offset="0.361" stop-color="#31ff31"/><stop offset="0.389" stop-color="#45ff45"/><stop offset="0.417" stop-color="#71ff71"/><stop offset="0.444" stop-color="#b0ffb0"/><stop offset="0.472" stop-color="#d5ffd5"/><stop offset="0.500" stop-color="#e7ffe7"/><stop offset="0.528" stop-color="#deffde"/><stop offset="0.556" stop-color="#beffbe"/><stop offset="0.583" stop-color="#88ff88"/><stop offset="0.611" stop-color="#4dff4d"/><stop offset="0.639" stop-color="#38ff38"/><stop offset="0.667" stop-color="#25ff25"/><stop offset="0.694" stop-color="#15ff15"/><stop offset="0.722" stop-color="#07ff07"/><stop offset="0.750" stop-color="#00fb03"/><stop offset="0.778" stop-color="#00f508"/><stop offset="0.806" stop-color="#00ee0d"/><stop offset="0.833" stop-color="#00e712"/><stop offset="0.861" stop-color="#00e017"/><stop offset="0.889" stop-color="#00da1c"/><stop offset="0.917" stop-color="#00d422"/><stop offset="0.944" stop-color="#00cd2a"/><stop offset="0.972" stop-color="#00c732"/><stop offset="1.000" stop-color="#00c039"/></linearGradient><linearGradient id="c158" x1="0" y1="0" x2="0" y2="1"><stop offset="0.000" stop-color="#00bd3d"/><stop offset="0.028" stop-color="#00c336"/><stop offset="0.056" stop-color="#00c92f"/><stop offset="0.083" stop-color="#00d027"/><stop offset="0.111" stop-color="#00d71e"/><stop offset="0.139" stop-color="#00dd1a"/><stop offset="0.167" stop-color="#00e315"/><stop offset="0.194" stop-color="#00e910"/><stop offset="0.222" stop-color="#00f00b"/><stop offset="0.250" stop-color="#00f706"/><stop offset="0.278" stop-color="#00fd01"/><stop offset="0.306" stop-color="#0aff0a"/><stop offset="0.333" stop-color="#18ff18"/><stop offset="0.361" stop-color="#28ff28"/><stop offset="0.389" stop-color="#39ff39"/><stop offset="0.417" stop-color="#4cff4c"/><stop offset="0.444" stop-color="#78ff78"/><stop offset="0.472" stop-color="#a0ffa0"/><stop offset="0.500" stop-color="#b2ffb2"/><stop offset="0.528" stop-color="#aaffaa"/><stop offset="0.556" stop-color="#88ff88"/><stop offset="0.583" stop-color="#5aff5a"/><stop offset="0.611" stop-color="#40ff40"/><stop offset="0.639" stop-color="#2eff2e"/><stop offset="0.667" stop-color="#1eff1e"/><stop offset="0.694" stop-color="#0fff0f"/><stop offset="0.722" stop-color="#01ff01"/><stop offset="0.750" stop-color="#00f904"/><stop offset="0.778" stop-color="#00f209"/><stop offset="0.806" stop-color="#00ec0f"/><stop offset="0.833" stop-color="#00e514"/><stop offset="0.861" stop-color="#00df18"/><stop offset="0.889" stop-color="#00d91d"/><stop offset="0.917" stop-color="#00d224"/><stop offset="0.944" stop-color="#00cc2c"/><stop offset="0.972" stop-color="#00c533"/><stop offset="1.000" stop-color="#00bf3b"/></linearGradient><linearGradient id="c159" x1="0" y1="0" x2="0" y2="1"><stop offset="0.000" stop-color="#00bc3f"/><stop offset="0.028" stop-color="#00c238"/><stop offset="0.056" stop-color="#00c831"/><stop offset="0.083" stop-color="#00ce29"/><stop offset="0.111" stop-color="#00d521"/><stop offset="0.139" stop-color="#00db1b"/><stop offset="0.167" stop-color="#00e117"/><stop offset="0.194" stop-color="#00e712"/><stop offset="0.222" stop-color="#00ed0d"/><stop offset="0.250" stop-color="#00f408"/><stop offset="0.278" stop-color="#00fa04"/><stop offset="0.306" stop-color="#03ff03"/><stop offset="0.333" stop-color="#10ff10"/><stop offset="0.361" stop-color="#1eff1e"/><stop offset="0.389" stop-color="#2dff2d"/><stop offset="0.417" stop-color="#3cff3c"/><stop offset="0.444" stop-color="#4bff4b"/><stop offset="0.472" stop-color="#61ff61"/><stop offset="0.500" stop-color="#6eff6e"/><stop offset="0.528" stop-color="#68ff68"/><stop offset="0.556" stop-color="#50ff50"/><stop offset="0.583" stop-color="#42ff42"/><stop offset="0.611" stop-color="#33ff33"/><stop offset="0.639" stop-color="#23ff23"/><stop offset="0.667" stop-color="#15ff15"/><stop offset="0.694" stop-color="#08ff08"/><stop offset="0.722" stop-color="#00fd02"/><stop offset="0.750" stop-color="#00f607"/><stop offset="0.778" stop-color="#00f00b"/><stop offset="0.806" stop-color="#00e910"/><stop offset="0.833" stop-color="#00e315"/><stop offset="0.861" stop-color="#00dd1a"/><stop offset="0.889" stop-color="#00d71e"/><stop offset="0.917" stop-color="#00d026"/><stop offset="0.944" stop-color="#00ca2e"/><stop offset="0.972" stop-color="#00c435"/><stop offset="1.000" stop-color="#00be3c"/></linearGradient><linearGradient id="c160" x1="0" y1="0" x2="0" y2="1"><stop offset="0.000" stop-color="#00ba41"/><stop offset="0.028" stop-color="#00c03a"/><stop offset="0.056" stop-color="#00c633"/><stop offset="0.083" stop-color="#00cc2b"/><stop offset="0.111" stop-color="#00d323"/><stop offset="0.139" stop-color="#00d91d"/><stop offset="0.167" stop-color="#00de18"/><stop offset="0.194" stop-color="#00e414"/><stop offset="0.222" stop-color="#00ea10"/><stop offset="0.250" stop-color="#00f10b"/><stop offset="0.278" stop-color="#00f706"/><stop offset="0.306" stop-color="#00fd02"/><stop offset="0.333" stop-color="#08ff08"/><stop offset="0.361" stop-color="#14ff14"/><stop offset="0.389" stop-color="#20ff20"/><stop offset="0.417" stop-color="#2dff2d"/><stop offset="0.444" stop-color="#38ff38"/><stop offset="0.472" stop-color="#40ff40"/><stop offset="0.500" stop-color="#44ff44"/><stop offset="0.528" stop-color="#42ff42"/><stop offset="0.556" stop-color="#3bff3b"/><stop offset="0.583" stop-color="#31ff31"/><stop offset="0.611" stop-color="#25ff25"/><stop offset="0.639" stop-color="#18ff18"/><stop offset="0.667" stop-color="#0cff0c"/><stop offset="0.694" stop-color="#00ff00"/><stop offset="0.722" stop-color="#00f905"/><stop offset="0.750" stop-color="#00f309"/><stop offset="0.778" stop-color="#00ed0e"/><stop offset="0.806" stop-color="#00e612"/><stop offset="0.833" stop-color="#00e017"/><stop offset="0.861" stop-color="#00db1b"/><stop offset="0.889" stop-color="#00d520"/><stop offset="0.917" stop-color="#00ce28"/><stop offset="0.944" stop-color="#00c830"/><stop offset="0.972" stop-color="#00c237"/><stop offset="1.000" stop-color="#00bc3e"/></linearGradient><linearGradient id="c161" x1="0" y1="0" x2="0" y2="1"><stop offset="0.000" stop-color="#00b349"/><stop offset="0.028" stop-color="#00b943"/><stop offset="0.056" stop-color="#00c03a"/><stop offset="0.083" stop-color="#00c831"/><stop offset="0.111" stop-color="#00d027"/><stop offset="0.139" stop-color="#00d71f"/><stop offset="0.167" stop-color="#00dc1a"/><stop offset="0.194" stop-color="#00e116"/><stop offset="0.222" stop-color="#00e712"/><stop offset="0.250" stop-color="#00ed0e"/><stop offset="0.278" stop-color="#00f309"/><stop offset="0.306" stop-color="#00f905"/><stop offset="0.333" stop-color="#00fe01"/><stop offset="0.361" stop-color="#09ff09"/><stop offset="0.389" stop-color="#14ff14"/><stop offset="0.417" stop-color="#1eff1e"/><stop offset="0.444" stop-color="#27ff27"/><stop offset="0.472" stop-color="#2dff2d"/><stop offset="0.500" stop-color="#30ff30"/><stop offset="0.528" stop-color="#2eff2e"/><stop offset="0.556" stop-color="#29ff29"/><stop offset="0.583" stop-color="#21ff21"/><stop offset="0.611" stop-color="#18ff18"/><stop offset="0.639" stop-color="#0dff0d"/><stop offset="0.667" stop-color="#02ff02"/><stop offset="0.694" stop-color="#00fb03"/><stop offset="0.722" stop-color="#00f508"/><stop offset="0.750" stop-color="#00ef0c"/><stop offset="0.778" stop-color="#00e910"/><stop offset="0.806" stop-color="#00e315"/><stop offset="0.833" stop-color="#00de19"/><stop offset="0.861" stop-color="#00d91d"/><stop offset="0.889" stop-color="#00d224"/><stop offset="0.917" stop-color="#00cb2d"/><stop offset="0.944" stop-color="#00c237"/><stop offset="0.972" stop-color="#00bb40"/><stop offset="1.000" stop-color="#00b547"/></linearGradient><linearGradient id="c162" x1="0" y1="0" x2="0" y2="1"><stop offset="0.000" stop-color="#00a05f"/><stop offset="0.028" stop-color="#00a659"/><stop offset="0.056" stop-color="#00ad51"/><stop offset="0.083" stop-color="#00b646"/><stop offset="0.111" stop-color="#00c138"/><stop offset="0.139" stop-color="#00cd2a"/><stop offset="0.167" stop-color="#00d81d"/><stop offset="0.194" stop-color="#00de18"/><stop offset="0.222" stop-color="#00e414"/><stop offset="0.250" stop-color="#00e910"/><stop offset="0.278" stop-color="#00ef0c"/><stop offset="0.306" stop-color="#00f408"/><stop offset="0.333" stop-color="#00f904"/><stop offset="0.361" stop-color="#00fe01"/><stop offset="0.389" stop-color="#07ff07"/><stop offset="0.417" stop-color="#10ff10"/><stop offset="0.444" stop-color="#18ff18"/><stop offset="0.472" stop-color="#3cff3c"/><stop offset="0.500" stop-color="#4eff4e"/><stop offset="0.528" stop-color="#45ff45"/><stop offset="0.556" stop-color="#27ff27"/><stop offset="0.583" stop-color="#12ff12"/><stop offset="0.611" stop-color="#0bff0b"/><stop offset="0.639" stop-color="#02ff02"/><stop offset="0.667" stop-color="#00fb03"/><stop offset="0.694" stop-color="#00f607"/><stop offset="0.722" stop-color="#00f10b"/><stop offset="0.750" stop-color="#00eb0f"/><stop offset="0.778" stop-color="#00e613"/><stop offset="0.806" stop-color="#00e017"/><stop offset="0.833" stop-color="#00db1b"/><stop offset="0.861" stop-color="#00d224"/><stop offset="0.889" stop-color="#00c633"/><stop offset="0.917" stop-color="#00ba41"/><stop offset="0.944" stop-color="#00b04d"/><stop offset="0.972" stop-color="#00a857"/><stop offset="1.000" stop-color="#00a25d"/></linearGradient><linearGradient id="c163" x1="0" y1="0" x2="0" y2="1"><stop offset="0.000" stop-color="#00857e"/><stop offset="0.028" stop-color="#008979"/><stop offset="0.056" stop-color="#009072"/><stop offset="0.083" stop-color="#009967"/><stop offset="0.111" stop-color="#00a659"/><stop offset="0.139" stop-color="#00b448"/><stop offset="0.167" stop-color="#00c435"/><stop offset="0.194" stop-color="#00d421"/><stop offset="0.222" stop-color="#00df18"/><stop offset="0.250" stop-color="#00e513"/><stop offset="0.278" stop-color="#00ea10"/><stop offset="0.306" stop-color="#00ef0c"/><stop offset="0.333" stop-color="#00f408"/><stop offset="0.361" stop-color="#00f805"/><stop offset="0.389" stop-color="#00fd02"/><stop offset="0.417" stop-color="#02ff02"/><stop offset="0.444" stop-color="#2dff2d"/><stop offset="0.472" stop-color="#61ff61"/><stop offset="0.500" stop-color="#7fff7f"/><stop offset="0.528" stop-color="#70ff70"/><stop offset="0.556" stop-color="#40ff40"/><stop offset="0.583" stop-color="#0bff0b"/><stop offset="0.611" stop-color="#00fe01"/><stop offset="0.639" stop-color="#00fa04"/><stop offset="0.667" stop-color="#00f607"/><stop offset="0.694" stop-color="#00f10a"/><stop offset="0.722" stop-color="#00ec0e"/><stop offset="0.750" stop-color="#00e712"/><stop offset="0.778" stop-color="#00e216"/><stop offset="0.806" stop-color="#00d91c"/><stop offset="0.833" stop-color="#00ca2e"/><stop offset="0.861" stop-color="#00ba41"/><stop offset="0.889" stop-color="#00ab53"/><stop offset="0.917" stop-color="#009e62"/><stop offset="0.944" stop-color="#00936e"/><stop offset="0.972" stop-color="#008b77"/><stop offset="1.000" stop-color="#00867d"/></linearGradient><linearGradient id="c164" x1="0" y1="0" x2="0" y2="1"><stop offset="0.000" stop-color="#0062a6"/><stop offset="0.028" stop-color="#0065a2"/><stop offset="0.056" stop-color="#006b9b"/><stop offset="0.083" stop-color="#007590"/><stop offset="0.111" stop-color="#008182"/><stop offset="0.139" stop-color="#009072"/><stop offset="0.167" stop-color="#00a15e"/><stop offset="0.194" stop-color="#00b547"/><stop offset="0.222" stop-color="#00c92f"/><stop offset="0.250" stop-color="#00db1b"/><stop offset="0.278" stop-color="#00e613"/><stop offset="0.306" stop-color="#00ea0f"/><stop offset="0.333" stop-color="#00ef0c"/><stop offset="0.361" stop-color="#00f309"/><stop offset="0.389" stop-color="#00f607"/><stop offset="0.417" stop-color="#00fe01"/><stop offset="0.444" stop-color="#40ff40"/><stop offset="0.472" stop-color="#90ff90"/><stop offset="0.500" stop-color="#c6ffc6"/><stop offset="0.528" stop-color="#aeffae"/><stop offset="0.556" stop-color="#5cff5c"/><stop offset="0.583" stop-color="#15ff15"/><stop offset="0.611" stop-color="#00f706"/><stop offset="0.639" stop-color="#00f408"/><stop offset="0.667" stop-color="#00f00b"/><stop offset="0.694" stop-color="#00ec0e"/><stop offset="0.722" stop-color="#00e812"/><stop offset="0.750" stop-color="#00df18"/><stop offset="0.778" stop-color="#00d026"/><stop offset="0.806" stop-color="#00bc3f"/><stop offset="0.833" stop-color="#00a856"/><stop offset="0.861" stop-color="#00966b"/><stop offset="0.889" stop-color="#00867d"/><stop offset="0.917" stop-color="#00798b"/><stop offset="0.944" stop-color="#006e98"/><stop offset="0.972" stop-color="#0067a0"/><stop offset="1.000" stop-color="#0063a5"/></linearGradient><linearGradient id="c165" x1="0" y1="0" x2="0" y2="1"><stop offset="0.000" stop-color="#003ecd"/><stop offset="0.028" stop-color="#0040cb"/><stop offset="0.056" stop-color="#0045c7"/><stop offset="0.083" stop-color="#004bc0"/><stop offset="0.111" stop-color="#0055b4"/><stop offset="0.139" stop-color="#0063a5"/><stop offset="0.167" stop-color="#007491"/><stop offset="0.194" stop-color="#00887a"/><stop offset="0.222" stop-color="#009e62"/><stop offset="0.250" stop-color="#00b646"/><stop offset="0.278" stop-color="#00cd2a"/><stop offset="0.306" stop-color="#00e018"/><stop offset="0.333" stop-color="#00e910"/><stop offset="0.361" stop-color="#00ed0d"/><stop offset="0.389" stop-color="#00f00b"/><stop offset="0.417" stop-color="#00fe01"/><stop offset="0.444" stop-color="#4aff4a"/><stop offset="0.472" stop-color="#b8ffb8"/><stop offset="0.500" stop-color="#ffffff"/><stop offset="0.528" stop-color="#e0ffe0"/><stop offset="0.556" stop-color="#6dff6d"/><stop offset="0.583" stop-color="#16ff16"/><stop offset="0.611" stop-color="#00f10a"/><stop offset="0.639" stop-color="#00ee0d"/><stop offset="0.667" stop-color="#00eb0f"/><stop offset="0.694" stop-color="#00e414"/><stop offset="0.722" stop-color="#00d520"/><stop offset="0.750" stop-color="#00bf3c"/><stop offset="0.778" stop-color="#00a758"/><stop offset="0.806" stop-color="#009072"/><stop offset="0.833" stop-color="#007c88"/><stop offset="0.861" stop-color="#00699e"/><stop offset="0.889" stop-color="#005aaf"/><stop offset="0.917" stop-color="#004ebc"/><stop offset="0.944" stop-color="#0047c5"/><stop offset="0.972" stop-color="#0042ca"/><stop offset="1.000" stop-color="#003fcd"/></linearGradient><linearGradient id="c166" x1="0" y1="0" x2="0" y2="1"><stop offset="0.000" stop-color="#0022e8"/><stop offset="0.028" stop-color="#0022e7"/><stop offset="0.056" stop-color="#0024e5"/><stop offset="0.083" stop-color="#0028e2"/><stop offset="0.111" stop-color="#002edc"/><stop offset="0.139" stop-color="#0037d4"/><stop offset="0.167" stop-color="#0043c9"/><stop offset="0.194" stop-color="#0053b7"/><stop offset="0.222" stop-color="#00689f"/><stop offset="0.250" stop-color="#008183"/><stop offset="0.278" stop-color="#009a66"/><stop offset="0.306" stop-color="#00b547"/><stop offset="0.333" stop-color="#00ce29"/><stop offset="0.361" stop-color="#00e017"/><stop offset="0.389" stop-color="#00ea10"/><stop offset="0.417" stop-color="#00f805"/><stop offset="0.444" stop-color="#3eff3e"/><stop offset="0.472" stop-color="#b0ffb0"/><stop offset="0.500" stop-color="#ffffff"/><stop offset="0.528" stop-color="#d8ffd8"/><stop offset="0.556" stop-color="#61ff61"/><stop offset="0.583" stop-color="#0bff0b"/><stop offset="0.611" stop-color="#00eb0f"/><stop offset="0.639" stop-color="#00e514"/><stop offset="0.667" stop-color="#00d61f"/><stop offset="0.694" stop-color="#00be3c"/><stop offset="0.722" stop-color="#00a45b"/><stop offset="0.750" stop-color="#008a79"/><stop offset="0.778" stop-color="#007195"/><stop offset="0.806" stop-color="#005aaf"/><stop offset="0.833" stop-color="#0048c3"/><stop offset="0.861" stop-color="#003bd1"/><stop offset="0.889" stop-color="#0031da"/><stop offset="0.917" stop-color="#002ae0"/><stop offset="0.944" stop-color="#0025e4"/><stop offset="0.972" stop-color="#0023e6"/><stop offset="1.000" stop-color="#0022e7"/></linearGradient><linearGradient id="c167" x1="0" y1="0" x2="0" y2="1"><stop offset="0.000" stop-color="#0013f5"/><stop offset="0.028" stop-color="#0013f5"/><stop offset="0.056" stop-color="#0013f5"/><stop offset="0.083" stop-color="#0014f4"/><stop offset="0.111" stop-color="#0015f3"/><stop offset="0.139" stop-color="#0018f0"/><stop offset="0.167" stop-color="#001dec"/><stop offset="0.194" stop-color="#0025e4"/><stop offset="0.222" stop-color="#0032d9"/><stop offset="0.250" stop-color="#0043c9"/><stop offset="0.278" stop-color="#0059b0"/><stop offset="0.306" stop-color="#007590"/><stop offset="0.333" stop-color="#009071"/><stop offset="0.361" stop-color="#00ac52"/><stop offset="0.389" stop-color="#00c435"/><stop offset="0.417" stop-color="#00dc1b"/><stop offset="0.444" stop-color="#0bff0b"/><stop offset="0.472" stop-color="#63ff63"/><stop offset="0.500" stop-color="#a8ffa8"/><stop offset="0.528" stop-color="#83ff83"/><stop offset="0.556" stop-color="#2aff2a"/><stop offset="0.583" stop-color="#00ea10"/><stop offset="0.611" stop-color="#00cb2c"/><stop offset="0.639" stop-color="#00b547"/><stop offset="0.667" stop-color="#009a66"/><stop offset="0.694" stop-color="#007f84"/><stop offset="0.722" stop-color="#0063a5"/><stop offset="0.750" stop-color="#004bc0"/><stop offset="0.778" stop-color="#0037d4"/><stop offset="0.806" stop-color="#0029e0"/><stop offset="0.833" stop-color="#0020e9"/><stop offset="0.861" stop-color="#001aef"/><stop offset="0.889" stop-color="#0016f2"/><stop offset="0.917" stop-color="#0014f4"/><stop offset="0.944" stop-color="#0013f5"/><stop offset="0.972" stop-color="#0013f5"/><stop offset="1.000" stop-color="#0013f5"/></linearGradient><linearGradient id="c168" x1="0" y1="0" x2="0" y2="1"><stop offset="0.000" stop-color="#000ff8"/><stop offset="0.028" stop-color="#000ff8"/><stop offset="0.056" stop-color="#000ff8"/><stop offset="0.083" stop-color="#000ff8"/><stop offset="0.111" stop-color="#000ff8"/><stop offset="0.139" stop-color="#000ff8"/><stop offset="0.167" stop-color="#000ff8"/><stop offset="0.194" stop-color="#000ff8"/><stop offset="0.222" stop-color="#0011f7"/><stop offset="0.250" stop-color="#0017f2"/><stop offset="0.278" stop-color="#0020e9"/><stop offset="0.306" stop-color="#0030db"/><stop offset="0.333" stop-color="#0044c8"/><stop offset="0.361" stop-color="#005cac"/><stop offset="0.389" stop-color="#00778e"/><stop offset="0.417" stop-color="#008e74"/><stop offset="0.444" stop-color="#00b24b"/><stop offset="0.472" stop-color="#00d61f"/><stop offset="0.500" stop-color="#00e712"/><stop offset="0.528" stop-color="#00df18"/><stop offset="0.556" stop-color="#00c03a"/><stop offset="0.583" stop-color="#009868"/><stop offset="0.611" stop-color="#008083"/><stop offset="0.639" stop-color="#0066a1"/><stop offset="0.667" stop-color="#004cbe"/><stop offset="0.694" stop-color="#0036d4"/><stop offset="0.722" stop-color="#0025e4"/><stop offset="0.750" stop-color="#001aef"/><stop offset="0.778" stop-color="#0013f5"/><stop offset="0.806" stop-color="#0010f8"/><stop offset="0.833" stop-color="#000ff8"/><stop offset="0.861" stop-color="#000ff8"/><stop offset="0.889" stop-color="#000ff8"/><stop offset="0.917" stop-color="#000ff8"/><stop offset="0.944" stop-color="#000ff8"/><stop offset="0.972" stop-color="#000ff8"/><stop offset="1.000" stop-color="#000ff8"/></linearGradient><linearGradient id="c169" x1="0" y1="0" x2="0" y2="1"><stop offset="0.000" stop-color="#000cfc"/><stop offset="0.028" stop-color="#000cfc"/><stop offset="0.056" stop-color="#000cfc"/><stop offset="0.083" stop-color="#000cfc"/><stop offset="0.111" stop-color="#000cfc"/><stop offset="0.139" stop-color="#000cfc"/><stop offset="0.167" stop-color="#000cfc"/><stop offset="0.194" stop-color="#000cfc"/><stop offset="0.222" stop-color="#000cfc"/><stop offset="0.250" stop-color="#000cfc"/><stop offset="0.278" stop-color="#000cfc"/><stop offset="0.306" stop-color="#000cfb"/><stop offset="0.333" stop-color="#0010f8"/><stop offset="0.361" stop-color="#0018f1"/><stop offset="0.389" stop-color="#0024e5"/><stop offset="0.417" stop-color="#0033d8"/><stop offset="0.444" stop-color="#0042ca"/><stop offset="0.472" stop-color="#0055b5"/><stop offset="0.500" stop-color="#005fa9"/><stop offset="0.528" stop-color="#005aaf"/><stop offset="0.556" stop-color="#004ac2"/><stop offset="0.583" stop-color="#0039d3"/><stop offset="0.611" stop-color="#0029e0"/><stop offset="0.639" stop-color="#001ced"/><stop offset="0.667" stop-color="#0012f6"/><stop offset="0.694" stop-color="#000dfb"/><stop offset="0.722" stop-color="#000cfc"/><stop offset="0.750" stop-color="#000cfc"/><stop offset="0.778" stop-color="#000cfc"/><stop offset="0.806" stop-color="#000cfc"/><stop offset="0.833" stop-color="#000cfc"/><stop offset="0.861" stop-color="#000cfc"/><stop offset="0.889" stop-color="#000cfc"/><stop offset="0.917" stop-color="#000cfc"/><stop offset="0.944" stop-color="#000cfc"/><stop offset="0.972" stop-color="#000cfc"/><stop offset="1.000" stop-color="#000cfc"/></linearGradient><linearGradient id="c170" x1="0" y1="0" x2="0" y2="1"><stop offset="0.000" stop-color="#0008ff"/><stop offset="0.028" stop-color="#0008ff"/><stop offset="0.056" stop-color="#0008ff"/><stop offset="0.083" stop-color="#0008ff"/><stop offset="0.111" stop-color="#0008ff"/><stop offset="0.139" stop-color="#0008ff"/><stop offset="0.167" stop-color="#0008ff"/><stop offset="0.194" stop-color="#0008ff"/><stop offset="0.222" stop-color="#0008ff"/><stop offset="0.250" stop-color="#0008ff"/><stop offset="0.278" stop-color="#0008ff"/><stop offset="0.306" stop-color="#0008ff"/><stop offset="0.333" stop-color="#0008ff"/><stop offset="0.361" stop-color="#0008ff"/><stop offset="0.389" stop-color="#0008ff"/><stop offset="0.417" stop-color="#0008ff"/><stop offset="0.444" stop-color="#0008ff"/><stop offset="0.472" stop-color="#000afe"/><stop offset="0.500" stop-color="#000afd"/><stop offset="0.528" stop-color="#000afd"/><stop offset="0.556" stop-color="#0009fe"/><stop offset="0.583" stop-color="#0008ff"/><stop offset="0.611" stop-color="#0008ff"/><stop offset="0.639" stop-color="#0008ff"/><stop offset="0.667" stop-color="#0008ff"/><stop offset="0.694" stop-color="#0008ff"/><stop offset="0.722" stop-color="#0008ff"/><stop offset="0.750" stop-color="#0008ff"/><stop offset="0.778" stop-color="#0008ff"/><stop offset="0.806" stop-color="#0008ff"/><stop offset="0.833" stop-color="#0008ff"/><stop offset="0.861" stop-color="#0008ff"/><stop offset="0.889" stop-color="#0008ff"/><stop offset="0.917" stop-color="#0008ff"/><stop offset="0.944" stop-color="#0008ff"/><stop offset="0.972" stop-color="#0008ff"/><stop offset="1.000" stop-color="#0008ff"/></linearGradient><linearGradient id="c171" x1="0" y1="0" x2="0" y2="1"><stop offset="0.000" stop-color="#0c08fc"/><stop offset="0.028" stop-color="#0c08fc"/><stop offset="0.056" stop-color="#0c08fc"/><stop offset="0.083" stop-color="#0c08fc"/><stop offset="0.111" stop-color="#0c08fc"/><stop offset="0.139" stop-color="#0c08fc"/><stop offset="0.167" stop-color="#0c08fc"/><stop offset="0.194" stop-color="#0c08fc"/><stop offset="0.222" stop-color="#0c08fc"/><stop offset="0.250" stop-color="#0c08fc"/><stop offset="0.278" stop-color="#0c08fc"/><stop offset="0.306" stop-color="#0c08fc"/><stop offset="0.333" stop-color="#0c08fc"/><stop offset="0.361" stop-color="#0c08fc"/><stop offset="0.389" stop-color="#0c08fc"/><stop offset="0.417" stop-color="#0c08fc"/><stop offset="0.444" stop-color="#0c08fc"/><stop offset="0.472" stop-color="#0c08fc"/><stop offset="0.500" stop-color="#0c08fc"/><stop offset="0.528" stop-color="#0c08fc"/><stop offset="0.556" stop-color="#0c08fc"/><stop offset="0.583" stop-color="#0c08fc"/><stop offset="0.611" stop-color="#0c08fc"/><stop offset="0.639" stop-color="#0c08fc"/><stop offset="0.667" stop-color="#0c08fc"/><stop offset="0.694" stop-color="#0c08fc"/><stop offset="0.722" stop-color="#0c08fc"/><stop offset="0.750" stop-color="#0c08fc"/><stop offset="0.778" stop-color="#0c08fc"/><stop offset="0.806" stop-color="#0c08fc"/><stop offset="0.833" stop-color="#0c08fc"/><stop offset="0.861" stop-color="#0c08fc"/><stop offset="0.889" stop-color="#0c08fc"/><stop offset="0.917" stop-color="#0c08fc"/><stop offset="0.944" stop-color="#0c08fc"/><stop offset="0.972" stop-color="#0c08fc"/><stop offset="1.000" stop-color="#0c08fc"/></linearGradient><linearGradient id="c172" x1="0" y1="0" x2="0" y2="1"><stop offset="0.000" stop-color="#1a08f7"/><stop offset="0.028" stop-color="#1a08f7"/><stop offset="0.056" stop-color="#1a08f7"/><stop offset="0.083" stop-color="#1a08f7"/><stop offset="0.111" stop-color="#1a08f7"/><stop offset="0.139" stop-color="#1a08f7"/><stop offset="0.167" stop-color="#1a08f7"/><stop offset="0.194" stop-color="#1a08f7"/><stop offset="0.222" stop-color="#1a08f7"/><stop offset="0.250" stop-color="#1a08f7"/><stop offset="0.278" stop-color="#1a08f7"/><stop offset="0.306" stop-color="#1a08f7"/><stop offset="0.333" stop-color="#1a08f7"/><stop offset="0.361" stop-color="#1a08f7"/><stop offset="0.389" stop-color="#1a08f7"/><stop offset="0.417" stop-color="#1a08f7"/><stop offset="0.444" stop-color="#1a08f7"/><stop offset="0.472" stop-color="#1a08f7"/><stop offset="0.500" stop-color="#1a08f7"/><stop offset="0.528" stop-color="#1a08f7"/><stop offset="0.556" stop-color="#1a08f7"/><stop offset="0.583" stop-color="#1a08f7"/><stop offset="0.611" stop-color="#1a08f7"/><stop offset="0.639" stop-color="#1a08f7"/><stop offset="0.667" stop-color="#1a08f7"/><stop offset="0.694" stop-color="#1a08f7"/><stop offset="0.722" stop-color="#1a08f7"/><stop offset="0.750" stop-color="#1a08f7"/><stop offset="0.778" stop-color="#1a08f7"/><stop offset="0.806" stop-color="#1a08f7"/><stop offset="0.833" stop-color="#1a08f7"/><stop offset="0.861" stop-color="#1a08f7"/><stop offset="0.889" stop-color="#1a08f7"/><stop offset="0.917" stop-color="#1a08f7"/><stop offset="0.944" stop-color="#1a08f7"/><stop offset="0.972" stop-color="#1a08f7"/><stop offset="1.000" stop-color="#1a08f7"/></linearGradient><linearGradient id="c173" x1="0" y1="0" x2="0" y2="1"><stop offset="0.000" stop-color="#2e06ef"/><stop offset="0.028" stop-color="#2e06ef"/><stop offset="0.056" stop-color="#2e06ef"/><stop offset="0.083" stop-color="#2e06ef"/><stop offset="0.111" stop-color="#2e06ef"/><stop offset="0.139" stop-color="#2e06ef"/><stop offset="0.167" stop-color="#2e06ef"/><stop offset="0.194" stop-color="#2e06ef"/><stop offset="0.222" stop-color="#2e06ef"/><stop offset="0.250" stop-color="#2e06ef"/><stop offset="0.278" stop-color="#2e06ef"/><stop offset="0.306" stop-color="#2e06ef"/><stop offset="0.333" stop-color="#2e06ef"/><stop offset="0.361" stop-color="#2e06ef"/><stop offset="0.389" stop-color="#2e06ef"/><stop offset="0.417" stop-color="#2e06ef"/><stop offset="0.444" stop-color="#2e06ef"/><stop offset="0.472" stop-color="#2e06ef"/><stop offset="0.500" stop-color="#2e06ef"/><stop offset="0.528" stop-color="#2e06ef"/><stop offset="0.556" stop-color="#2e06ef"/><stop offset="0.583" stop-color="#2e06ef"/><stop offset="0.611" stop-color="#2e06ef"/><stop offset="0.639" stop-color="#2e06ef"/><stop offset="0.667" stop-color="#2e06ef"/><stop offset="0.694" stop-color="#2e06ef"/><stop offset="0.722" stop-color="#2e06ef"/><stop offset="0.750" stop-color="#2e06ef"/><stop offset="0.778" stop-color="#2e06ef"/><stop offset="0.806" stop-color="#2e06ef"/><stop offset="0.833" stop-color="#2e06ef"/><stop offset="0.861" stop-color="#2e06ef"/><stop offset="0.889" stop-color="#2e06ef"/><stop offset="0.917" stop-color="#2e06ef"/><stop offset="0.944" stop-color="#2e06ef"/><stop offset="0.972" stop-color="#2e06ef"/><stop offset="1.000" stop-color="#2e06ef"/></linearGradient><linearGradient id="c174" x1="0" y1="0" x2="0" y2="1"><stop offset="0.000" stop-color="#3f05e0"/><stop offset="0.028" stop-color="#3f05e0"/><stop offset="0.056" stop-color="#3f05e0"/><stop offset="0.083" stop-color="#3f05e0"/><stop offset="0.111" stop-color="#3f05e0"/><stop offset="0.139" stop-color="#3f05e0"/><stop offset="0.167" stop-color="#3f05e0"/><stop offset="0.194" stop-color="#3f05e0"/><stop offset="0.222" stop-color="#3f05e0"/><stop offset="0.250" stop-color="#3f05e0"/><stop offset="0.278" stop-color="#3f05e0"/><stop offset="0.306" stop-color="#3f05e0"/><stop offset="0.333" stop-color="#3f05e0"/><stop offset="0.361" stop-color="#3f05e0"/><stop offset="0.389" stop-color="#3f05e0"/><stop offset="0.417" stop-color="#3f05e0"/><stop offset="0.444" stop-color="#3f05e0"/><stop offset="0.472" stop-color="#3f05e0"/><stop offset="0.500" stop-color="#3f05e0"/><stop offset="0.528" stop-color="#3f05e0"/><stop offset="0.556" stop-color="#3f05e0"/><stop offset="0.583" stop-color="#3f05e0"/><stop offset="0.611" stop-color="#3f05e0"/><stop offset="0.639" stop-color="#3f05e0"/><stop offset="0.667" stop-color="#3f05e0"/><stop offset="0.694" stop-color="#3f05e0"/><stop offset="0.722" stop-color="#3f05e0"/><stop offset="0.750" stop-color="#3f05e0"/><stop offset="0.778" stop-color="#3f05e0"/><stop offset="0.806" stop-color="#3f05e0"/><stop offset="0.833" stop-color="#3f05e0"/><stop offset="0.861" stop-color="#3f05e0"/><stop offset="0.889" stop-color="#3f05e0"/><stop offset="0.917" stop-color="#3f05e0"/><stop offset="0.944" stop-color="#3f05e0"/><stop offset="0.972" stop-color="#3f05e0"/><stop offset="1.000" stop-color="#3f05e0"/></linearGradient><linearGradient id="c175" x1="0" y1="0" x2="0" y2="1"><stop offset="0.000" stop-color="#5003cf"/><stop offset="0.028" stop-color="#5003cf"/><stop offset="0.056" stop-color="#5003cf"/><stop offset="0.083" stop-color="#5003cf"/><stop offset="0.111" stop-color="#5003cf"/><stop offset="0.139" stop-color="#5003cf"/><stop offset="0.167" stop-color="#5003cf"/><stop offset="0.194" stop-color="#5003cf"/><stop offset="0.222" stop-color="#5003cf"/><stop offset="0.250" stop-color="#5003cf"/><stop offset="0.278" stop-color="#5003cf"/><stop offset="0.306" stop-color="#5003cf"/><stop offset="0.333" stop-color="#5003cf"/><stop offset="0.361" stop-color="#5003cf"/><stop offset="0.389" stop-color="#5003cf"/><stop offset="0.417" stop-color="#5003cf"/><stop offset="0.444" stop-color="#5003cf"/><stop offset="0.472" stop-color="#5003cf"/><stop offset="0.500" stop-color="#5003cf"/><stop offset="0.528" stop-color="#5003cf"/><stop offset="0.556" stop-color="#5003cf"/><stop offset="0.583" stop-color="#5003cf"/><stop offset="0.611" stop-color="#5003cf"/><stop offset="0.639" stop-color="#5003cf"/><stop offset="0.667" stop-color="#5003cf"/><stop offset="0.694" stop-color="#5003cf"/><stop offset="0.722" stop-color="#5003cf"/><stop offset="0.750" stop-color="#5003cf"/><stop offset="0.778" stop-color="#5003cf"/><stop offset="0.806" stop-color="#5003cf"/><stop offset="0.833" stop-color="#5003cf"/><stop offset="0.861" stop-color="#5003cf"/><stop offset="0.889" stop-color="#5003cf"/><stop offset="0.917" stop-color="#5003cf"/><stop offset="0.944" stop-color="#5003cf"/><stop offset="0.972" stop-color="#5003cf"/><stop offset="1.000" stop-color="#5003cf"/></linearGradient><linearGradient id="c176" x1="0" y1="0" x2="0" y2="1"><stop offset="0.000" stop-color="#6101be"/><stop offset="0.028" stop-color="#6101be"/><stop offset="0.056" stop-color="#6101be"/><stop offset="0.083" stop-color="#6101be"/><stop offset="0.111" stop-color="#6101be"/><stop offset="0.139" stop-color="#6101be"/><stop offset="0.167" stop-color="#6101be"/><stop offset="0.194" stop-color="#6101be"/><stop offset="0.222" stop-color="#6101be"/><stop offset="0.250" stop-color="#6101be"/><stop offset="0.278" stop-color="#6101be"/><stop offset="0.306" stop-color="#6101be"/><stop offset="0.333" stop-color="#6101be"/><stop offset="0.361" stop-color="#6101be"/><stop offset="0.389" stop-color="#6101be"/><stop offset="0.417" stop-color="#6101be"/><stop offset="0.444" stop-color="#6101be"/><stop offset="0.472" stop-color="#6101be"/><stop offset="0.500" stop-color="#6101be"/><stop offset="0.528" stop-color="#6101be"/><stop offset="0.556" stop-color="#6101be"/><stop offset="0.583" stop-color="#6101be"/><stop offset="0.611" stop-color="#6101be"/><stop offset="0.639" stop-color="#6101be"/><stop offset="0.667" stop-color="#6101be"/><stop offset="0.694" stop-color="#6101be"/><stop offset="0.722" stop-color="#6101be"/><stop offset="0.750" stop-color="#6101be"/><stop offset="0.778" stop-color="#6101be"/><stop offset="0.806" stop-color="#6101be"/><stop offset="0.833" stop-color="#6101be"/><stop offset="0.861" stop-color="#6101be"/><stop offset="0.889" stop-color="#6101be"/><stop offset="0.917" stop-color="#6101be"/><stop offset="0.944" stop-color="#6101be"/><stop offset="0.972" stop-color="#6101be"/><stop offset="1.000" stop-color="#6101be"/></linearGradient><linearGradient id="c177" x1="0" y1="0" x2="0" y2="1"><stop offset="0.000" stop-color="#7000ad"/><stop offset="0.028" stop-color="#7000ad"/><stop offset="0.056" stop-color="#7000ad"/><stop offset="0.083" stop-color="#7000ad"/><stop offset="0.111" stop-color="#7000ad"/><stop offset="0.139" stop-color="#7000ad"/><stop offset="0.167" stop-color="#7000ad"/><stop offset="0.194" stop-color="#7000ad"/><stop offset="0.222" stop-color="#7000ad"/><stop offset="0.250" stop-color="#7000ad"/><stop offset="0.278" stop-color="#7000ad"/><stop offset="0.306" stop-color="#7000ad"/><stop offset="0.333" stop-color="#7000ad"/><stop offset="0.361" stop-color="#7000ad"/><stop offset="0.389" stop-color="#7000ad"/><stop offset="0.417" stop-color="#7000ad"/><stop offset="0.444" stop-color="#7000ad"/><stop offset="0.472" stop-color="#7000ad"/><stop offset="0.500" stop-color="#7000ad"/><stop offset="0.528" stop-color="#7000ad"/><stop offset="0.556" stop-color="#7000ad"/><stop offset="0.583" stop-color="#7000ad"/><stop offset="0.611" stop-color="#7000ad"/><stop offset="0.639" stop-color="#7000ad"/><stop offset="0.667" stop-color="#7000ad"/><stop offset="0.694" stop-color="#7000ad"/><stop offset="0.722" stop-color="#7000ad"/><stop offset="0.750" stop-color="#7000ad"/><stop offset="0.778" stop-color="#7000ad"/><stop offset="0.806" stop-color="#7000ad"/><stop offset="0.833" stop-color="#7000ad"/><stop offset="0.861" stop-color="#7000ad"/><stop offset="0.889" stop-color="#7000ad"/><stop offset="0.917" stop-color="#7000ad"/><stop offset="0.944" stop-color="#7000ad"/><stop offset="0.972" stop-color="#7000ad"/><stop offset="1.000" stop-color="#7000ad"/></linearGradient><linearGradient id="c178" x1="0" y1="0" x2="0" y2="1"><stop offset="0.000" stop-color="#7d009f"/><stop offset="0.028" stop-color="#7d009f"/><stop offset="0.056" stop-color="#7d009f"/><stop offset="0.083" stop-color="#7d009f"/><stop offset="0.111" stop-color="#7d009f"/><stop offset="0.139" stop-color="#7d009f"/><stop offset="0.167" stop-color="#7d009f"/><stop offset="0.194" stop-color="#7d009f"/><stop offset="0.222" stop-color="#7d009f"/><stop offset="0.250" stop-color="#7d009f"/><stop offset="0.278" stop-color="#7d009f"/><stop offset="0.306" stop-color="#7d009f"/><stop offset="0.333" stop-color="#7d009f"/><stop offset="0.361" stop-color="#7d009f"/><stop offset="0.389" stop-color="#7d009f"/><stop offset="0.417" stop-color="#7d009f"/><stop offset="0.444" stop-color="#7d009f"/><stop offset="0.472" stop-color="#7d009f"/><stop offset="0.500" stop-color="#7d009f"/><stop offset="0.528" stop-color="#7d009f"/><stop offset="0.556" stop-color="#7d009f"/><stop offset="0.583" stop-color="#7d009f"/><stop offset="0.611" stop-color="#7d009f"/><stop offset="0.639" stop-color="#7d009f"/><stop offset="0.667" stop-color="#7d009f"/><stop offset="0.694" stop-color="#7d009f"/><stop offset="0.722" stop-color="#7d009f"/><stop offset="0.750" stop-color="#7d009f"/><stop offset="0.778" stop-color="#7d009f"/><stop offset="0.806" stop-color="#7d009f"/><stop offset="0.833" stop-color="#7d009f"/><stop offset="0.861" stop-color="#7d009f"/><stop offset="0.889" stop-color="#7d009f"/><stop offset="0.917" stop-color="#7d009f"/><stop offset="0.944" stop-color="#7d009f"/><stop offset="0.972" stop-color="#7d009f"/><stop offset="1.000" stop-color="#7d009f"/></linearGradient><linearGradient id="c179" x1="0" y1="0" x2="0" y2="1"><stop offset="0.000" stop-color="#890090"/><stop offset="0.028" stop-color="#890090"/><stop offset="0.056" stop-color="#890090"/><stop offset="0.083" stop-color="#890090"/><stop offset="0.111" stop-color="#890090"/><stop offset="0.139" stop-color="#890090"/><stop offset="0.167" stop-color="#890090"/><stop offset="0.194" stop-color="#890090"/><stop offset="0.222" stop-color="#890090"/><stop offset="0.250" stop-color="#890090"/><stop offset="0.278" stop-color="#890090"/><stop offset="0.306" stop-color="#890090"/><stop offset="0.333" stop-color="#890090"/><stop offset="0.361" stop-color="#890090"/><stop offset="0.389" stop-color="#890090"/><stop offset="0.417" stop-color="#890090"/><stop offset="0.444" stop-color="#890090"/><stop offset="0.472" stop-color="#890090"/><stop offset="0.500" stop-color="#890090"/><stop offset="0.528" stop-color="#890090"/><stop offset="0.556" stop-color="#890090"/><stop offset="0.583" stop-color="#890090"/><stop offset="0.611" stop-color="#890090"/><stop offset="0.639" stop-color="#890090"/><stop offset="0.667" stop-color="#890090"/><stop offset="0.694" stop-color="#890090"/><stop offset="0.722" stop-color="#890090"/><stop offset="0.750" stop-color="#890090"/><stop offset="0.778" stop-color="#890090"/><stop offset="0.806" stop-color="#890090"/><stop offset="0.833" stop-color="#890090"/><stop offset="0.861" stop-color="#890090"/><stop offset="0.889" stop-color="#890090"/><stop offset="0.917" stop-color="#890090"/><stop offset="0.944" stop-color="#890090"/><stop offset="0.972" stop-color="#890090"/><stop offset="1.000" stop-color="#890090"/></linearGradient><linearGradient id="c180" x1="0" y1="0" x2="0" y2="1"><stop offset="0.000" stop-color="#960082"/><stop offset="0.028" stop-color="#960082"/><stop offset="0.056" stop-color="#960082"/><stop offset="0.083" stop-color="#960082"/><stop offset="0.111" stop-color="#960082"/><stop offset="0.139" stop-color="#960082"/><stop offset="0.167" stop-color="#960082"/><stop offset="0.194" stop-color="#960082"/><stop offset="0.222" stop-color="#960082"/><stop offset="0.250" stop-color="#960082"/><stop offset="0.278" stop-color="#960082"/><stop offset="0.306" stop-color="#960082"/><stop offset="0.333" stop-color="#960082"/><stop offset="0.361" stop-color="#960082"/><stop offset="0.389" stop-color="#960082"/><stop offset="0.417" stop-color="#960082"/><stop offset="0.444" stop-color="#960082"/><stop offset="0.472" stop-color="#960082"/><stop offset="0.500" stop-color="#960082"/><stop offset="0.528" stop-color="#960082"/><stop offset="0.556" stop-color="#960082"/><stop offset="0.583" stop-color="#960082"/><stop offset="0.611" stop-color="#960082"/><stop offset="0.639" stop-color="#960082"/><stop offset="0.667" stop-color="#960082"/><stop offset="0.694" stop-color="#960082"/><stop offset="0.722" stop-color="#960082"/><stop offset="0.750" stop-color="#960082"/><stop offset="0.778" stop-color="#960082"/><stop offset="0.806" stop-color="#960082"/><stop offset="0.833" stop-color="#960082"/><stop offset="0.861" stop-color="#960082"/><stop offset="0.889" stop-color="#960082"/><stop offset="0.917" stop-color="#960082"/><stop offset="0.944" stop-color="#960082"/><stop offset="0.972" stop-color="#960082"/><stop offset="1.000" stop-color="#960082"/></linearGradient><linearGradient id="c181" x1="0" y1="0" x2="0" y2="1"><stop offset="0.000" stop-color="#a30074"/><stop offset="0.028" stop-color="#a30074"/><stop offset="0.056" stop-color="#a30074"/><stop offset="0.083" stop-color="#a30074"/><stop offset="0.111" stop-color="#a30074"/><stop offset="0.139" stop-color="#a30074"/><stop offset="0.167" stop-color="#a30074"/><stop offset="0.194" stop-color="#a30074"/><stop offset="0.222" stop-color="#a30074"/><stop offset="0.250" stop-color="#a30074"/><stop offset="0.278" stop-color="#a30074"/><stop offset="0.306" stop-color="#a30074"/><stop offset="0.333" stop-color="#a30074"/><stop offset="0.361" stop-color="#a30074"/><stop offset="0.389" stop-color="#a30074"/><stop offset="0.417" stop-color="#a30074"/><stop offset="0.444" stop-color="#a30074"/><stop offset="0.472" stop-color="#a30074"/><stop offset="0.500" stop-color="#a30074"/><stop offset="0.528" stop-color="#a30074"/><stop offset="0.556" stop-color="#a30074"/><stop offset="0.583" stop-color="#a30074"/><stop offset="0.611" stop-color="#a30074"/><stop offset="0.639" stop-color="#a30074"/><stop offset="0.667" stop-color="#a30074"/><stop offset="0.694" stop-color="#a30074"/><stop offset="0.722" stop-color="#a30074"/><stop offset="0.750" stop-color="#a30074"/><stop offset="0.778" stop-color="#a30074"/><stop offset="0.806" stop-color="#a30074"/><stop offset="0.833" stop-color="#a30074"/><stop offset="0.861" stop-color="#a30074"/><stop offset="0.889" stop-color="#a30074"/><stop offset="0.917" stop-color="#a30074"/><stop offset="0.944" stop-color="#a30074"/><stop offset="0.972" stop-color="#a30074"/><stop offset="1.000" stop-color="#a30074"/></linearGradient><linearGradient id="c182" x1="0" y1="0" x2="0" y2="1"><stop offset="0.000" stop-color="#af0067"/><stop offset="0.028" stop-color="#af0067"/><stop offset="0.056" stop-color="#af0067"/><stop offset="0.083" stop-color="#af0067"/><stop offset="0.111" stop-color="#af0067"/><stop offset="0.139" stop-color="#af0067"/><stop offset="0.167" stop-color="#af0067"/><stop offset="0.194" stop-color="#af0067"/><stop offset="0.222" stop-color="#af0067"/><stop offset="0.250" stop-color="#af0067"/><stop offset="0.278" stop-color="#af0067"/><stop offset="0.306" stop-color="#af0067"/><stop offset="0.333" stop-color="#af0067"/><stop offset="0.361" stop-color="#af0067"/><stop offset="0.389" stop-color="#af0067"/><stop offset="0.417" stop-color="#af0067"/><stop offset="0.444" stop-color="#af0067"/><stop offset="0.472" stop-color="#af0067"/><stop offset="0.500" stop-color="#af0067"/><stop offset="0.528" stop-color="#af0067"/><stop offset="0.556" stop-color="#af0067"/><stop offset="0.583" stop-color="#af0067"/><stop offset="0.611" stop-color="#af0067"/><stop offset="0.639" stop-color="#af0067"/><stop offset="0.667" stop-color="#af0067"/><stop offset="0.694" stop-color="#af0067"/><stop offset="0.722" stop-color="#af0067"/><stop offset="0.750" stop-color="#af0067"/><stop offset="0.778" stop-color="#af0067"/><stop offset="0.806" stop-color="#af0067"/><stop offset="0.833" stop-color="#af0067"/><stop offset="0.861" stop-color="#af0067"/><stop offset="0.889" stop-color="#af0067"/><stop offset="0.917" stop-color="#af0067"/><stop offset="0.944" stop-color="#af0067"/><stop offset="0.972" stop-color="#af0067"/><stop offset="1.000" stop-color="#af0067"/></linearGradient><linearGradient id="c183" x1="0" y1="0" x2="0" y2="1"><stop offset="0.000" stop-color="#bc0059"/><stop offset="0.028" stop-color="#bc0059"/><stop offset="0.056" stop-color="#bc0059"/><stop offset="0.083" stop-color="#bc0059"/><stop offset="0.111" stop-color="#bc0059"/><stop offset="0.139" stop-color="#bc0059"/><stop offset="0.167" stop-color="#bc0059"/><stop offset="0.194" stop-color="#bc0059"/><stop offset="0.222" stop-color="#bc0059"/><stop offset="0.250" stop-color="#bc0059"/><stop offset="0.278" stop-color="#bc0059"/><stop offset="0.306" stop-color="#bc0059"/><stop offset="0.333" stop-color="#bc0059"/><stop offset="0.361" stop-color="#bc0059"/><stop offset="0.389" stop-color="#bc0059"/><stop offset="0.417" stop-color="#bc0059"/><stop offset="0.444" stop-color="#bc0059"/><stop offset="0.472" stop-color="#bc0059"/><stop offset="0.500" stop-color="#bc0059"/><stop offset="0.528" stop-color="#bc0059"/><stop offset="0.556" stop-color="#bc0059"/><stop offset="0.583" stop-color="#bc0059"/><stop offset="0.611" stop-color="#bc0059"/><stop offset="0.639" stop-color="#bc0059"/><stop offset="0.667" stop-color="#bc0059"/><stop offset="0.694" stop-color="#bc0059"/><stop offset="0.722" stop-color="#bc0059"/><stop offset="0.750" stop-color="#bc0059"/><stop offset="0.778" stop-color="#bc0059"/><stop offset="0.806" stop-color="#bc0059"/><stop offset="0.833" stop-color="#bc0059"/><stop offset="0.861" stop-color="#bc0059"/><stop offset="0.889" stop-color="#bc0059"/><stop offset="0.917" stop-color="#bc0059"/><stop offset="0.944" stop-color="#bc0059"/><stop offset="0.972" stop-color="#bc0059"/><stop offset="1.000" stop-color="#bc0059"/></linearGradient><linearGradient id="c184" x1="0" y1="0" x2="0" y2="1"><stop offset="0.000" stop-color="#c40051"/><stop offset="0.028" stop-color="#c40051"/><stop offset="0.056" stop-color="#c40051"/><stop offset="0.083" stop-color="#c40051"/><stop offset="0.111" stop-color="#c40051"/><stop offset="0.139" stop-color="#c40051"/><stop offset="0.167" stop-color="#c40051"/><stop offset="0.194" stop-color="#c40051"/><stop offset="0.222" stop-color="#c40051"/><stop offset="0.250" stop-color="#c40051"/><stop offset="0.278" stop-color="#c40051"/><stop offset="0.306" stop-color="#c40051"/><stop offset="0.333" stop-color="#c40051"/><stop offset="0.361" stop-color="#c40051"/><stop offset="0.389" stop-color="#c40051"/><stop offset="0.417" stop-color="#c40051"/><stop offset="0.444" stop-color="#c40051"/><stop offset="0.472" stop-color="#c40051"/><stop offset="0.500" stop-color="#c40051"/><stop offset="0.528" stop-color="#c40051"/><stop offset="0.556" stop-color="#c40051"/><stop offset="0.583" stop-color="#c40051"/><stop offset="0.611" stop-color="#c40051"/><stop offset="0.639" stop-color="#c40051"/><stop offset="0.667" stop-color="#c40051"/><stop offset="0.694" stop-color="#c40051"/><stop offset="0.722" stop-color="#c40051"/><stop offset="0.750" stop-color="#c40051"/><stop offset="0.778" stop-color="#c40051"/><stop offset="0.806" stop-color="#c40051"/><stop offset="0.833" stop-color="#c40051"/><stop offset="0.861" stop-color="#c40051"/><stop offset="0.889" stop-color="#c40051"/><stop offset="0.917" stop-color="#c40051"/><stop offset="0.944" stop-color="#c40051"/><stop offset="0.972" stop-color="#c40051"/><stop offset="1.000" stop-color="#c40051"/></linearGradient><linearGradient id="c185" x1="0" y1="0" x2="0" y2="1"><stop offset="0.000" stop-color="#c9004b"/><stop offset="0.028" stop-color="#c9004b"/><stop offset="0.056" stop-color="#c9004b"/><stop offset="0.083" stop-color="#c9004b"/><stop offset="0.111" stop-color="#c9004b"/><stop offset="0.139" stop-color="#c9004b"/><stop offset="0.167" stop-color="#c9004b"/><stop offset="0.194" stop-color="#c9004b"/><stop offset="0.222" stop-color="#c9004b"/><stop offset="0.250" stop-color="#c9004b"/><stop offset="0.278" stop-color="#c9004b"/><stop offset="0.306" stop-color="#c9004b"/><stop offset="0.333" stop-color="#c9004b"/><stop offset="0.361" stop-color="#c9004b"/><stop offset="0.389" stop-color="#c9004b"/><stop offset="0.417" stop-color="#c9004b"/><stop offset="0.444" stop-color="#c9004b"/><stop offset="0.472" stop-color="#c9004b"/><stop offset="0.500" stop-color="#c9004b"/><stop offset="0.528" stop-color="#c9004b"/><stop offset="0.556" stop-color="#c9004b"/><stop offset="0.583" stop-color="#c9004b"/><stop offset="0.611" stop-color="#c9004b"/><stop offset="0.639" stop-color="#c9004b"/><stop offset="0.667" stop-color="#c9004b"/><stop offset="0.694" stop-color="#c9004b"/><stop offset="0.722" stop-color="#c9004b"/><stop offset="0.750" stop-color="#c9004b"/><stop offset="0.778" stop-color="#c9004b"/><stop offset="0.806" stop-color="#c9004b"/><stop offset="0.833" stop-color="#c9004b"/><stop offset="0.861" stop-color="#c9004b"/><stop offset="0.889" stop-color="#c9004b"/><stop offset="0.917" stop-color="#c9004b"/><stop offset="0.944" stop-color="#c9004b"/><stop offset="0.972" stop-color="#c9004b"/><stop offset="1.000" stop-color="#c9004b"/></linearGradient><linearGradient id="c186" x1="0" y1="0" x2="0" y2="1"><stop offset="0.000" stop-color="#cf0044"/><stop offset="0.028" stop-color="#cf0044"/><stop offset="0.056" stop-color="#cf0044"/><stop offset="0.083" stop-color="#cf0044"/><stop offset="0.111" stop-color="#cf0044"/><stop offset="0.139" stop-color="#cf0044"/><stop offset="0.167" stop-color="#cf0044"/><stop offset="0.194" stop-color="#cf0044"/><stop offset="0.222" stop-color="#cf0044"/><stop offset="0.250" stop-color="#cf0044"/><stop offset="0.278" stop-color="#cf0044"/><stop offset="0.306" stop-color="#cf0044"/><stop offset="0.333" stop-color="#cf0044"/><stop offset="0.361" stop-color="#cf0044"/><stop offset="0.389" stop-color="#cf0044"/><stop offset="0.417" stop-color="#cf0044"/><stop offset="0.444" stop-color="#cf0044"/><stop offset="0.472" stop-color="#cf0044"/><stop offset="0.500" stop-color="#cf0044"/><stop offset="0.528" stop-color="#cf0044"/><stop offset="0.556" stop-color="#cf0044"/><stop offset="0.583" stop-color="#cf0044"/><stop offset="0.611" stop-color="#cf0044"/><stop offset="0.639" stop-color="#cf0044"/><stop offset="0.667" stop-color="#cf0044"/><stop offset="0.694" stop-color="#cf0044"/><stop offset="0.722" stop-color="#cf0044"/><stop offset="0.750" stop-color="#cf0044"/><stop offset="0.778" stop-color="#cf0044"/><stop offset="0.806" stop-color="#cf0044"/><stop offset="0.833" stop-color="#cf0044"/><stop offset="0.861" stop-color="#cf0044"/><stop offset="0.889" stop-color="#cf0044"/><stop offset="0.917" stop-color="#cf0044"/><stop offset="0.944" stop-color="#cf0044"/><stop offset="0.972" stop-color="#cf0044"/><stop offset="1.000" stop-color="#cf0044"/></linearGradient><linearGradient id="c187" x1="0" y1="0" x2="0" y2="1"><stop offset="0.000" stop-color="#d4003e"/><stop offset="0.028" stop-color="#d4003e"/><stop offset="0.056" stop-color="#d4003e"/><stop offset="0.083" stop-color="#d4003e"/><stop offset="0.111" stop-color="#d4003e"/><stop offset="0.139" stop-color="#d4003e"/><stop offset="0.167" stop-color="#d4003e"/><stop offset="0.194" stop-color="#d4003e"/><stop offset="0.222" stop-color="#d4003e"/><stop offset="0.250" stop-color="#d4003e"/><stop offset="0.278" stop-color="#d4003e"/><stop offset="0.306" stop-color="#d4003e"/><stop offset="0.333" stop-color="#d4003e"/><stop offset="0.361" stop-color="#d4003e"/><stop offset="0.389" stop-color="#d4003e"/><stop offset="0.417" stop-color="#d4003e"/><stop offset="0.444" stop-color="#d4003e"/><stop offset="0.472" stop-color="#d4003e"/><stop offset="0.500" stop-color="#d4003e"/><stop offset="0.528" stop-color="#d4003e"/><stop offset="0.556" stop-color="#d4003e"/><stop offset="0.583" stop-color="#d4003e"/><stop offset="0.611" stop-color="#d4003e"/><stop offset="0.639" stop-color="#d4003e"/><stop offset="0.667" stop-color="#d4003e"/><stop offset="0.694" stop-color="#d4003e"/><stop offset="0.722" stop-color="#d4003e"/><stop offset="0.750" stop-color="#d4003e"/><stop offset="0.778" stop-color="#d4003e"/><stop offset="0.806" stop-color="#d4003e"/><stop offset="0.833" stop-color="#d4003e"/><stop offset="0.861" stop-color="#d4003e"/><stop offset="0.889" stop-color="#d4003e"/><stop offset="0.917" stop-color="#d4003e"/><stop offset="0.944" stop-color="#d4003e"/><stop offset="0.972" stop-color="#d4003e"/><stop offset="1.000" stop-color="#d4003e"/></linearGradient><linearGradient id="c188" x1="0" y1="0" x2="0" y2="1"><stop offset="0.000" stop-color="#d90038"/><stop offset="0.028" stop-color="#d90038"/><stop offset="0.056" stop-color="#d90038"/><stop offset="0.083" stop-color="#d90038"/><stop offset="0.111" stop-color="#d90038"/><stop offset="0.139" stop-color="#d90038"/><stop offset="0.167" stop-color="#d90038"/><stop offset="0.194" stop-color="#d90038"/><stop offset="0.222" stop-color="#d90038"/><stop offset="0.250" stop-color="#d90038"/><stop offset="0.278" stop-color="#d90038"/><stop offset="0.306" stop-color="#d90038"/><stop offset="0.333" stop-color="#d90038"/><stop offset="0.361" stop-color="#d90038"/><stop offset="0.389" stop-color="#d90038"/><stop offset="0.417" stop-color="#d90038"/><stop offset="0.444" stop-color="#d90038"/><stop offset="0.472" stop-color="#d90038"/><stop offset="0.500" stop-color="#d90038"/><stop offset="0.528" stop-color="#d90038"/><stop offset="0.556" stop-color="#d90038"/><stop offset="0.583" stop-color="#d90038"/><stop offset="0.611" stop-color="#d90038"/><stop offset="0.639" stop-color="#d90038"/><stop offset="0.667" stop-color="#d90038"/><stop offset="0.694" stop-color="#d90038"/><stop offset="0.722" stop-color="#d90038"/><stop offset="0.750" stop-color="#d90038"/><stop offset="0.778" stop-color="#d90038"/><stop offset="0.806" stop-color="#d90038"/><stop offset="0.833" stop-color="#d90038"/><stop offset="0.861" stop-color="#d90038"/><stop offset="0.889" stop-color="#d90038"/><stop offset="0.917" stop-color="#d90038"/><stop offset="0.944" stop-color="#d90038"/><stop offset="0.972" stop-color="#d90038"/><stop offset="1.000" stop-color="#d90038"/></linearGradient><linearGradient id="c189" x1="0" y1="0" x2="0" y2="1"><stop offset="0.000" stop-color="#df0031"/><stop offset="0.028" stop-color="#df0031"/><stop offset="0.056" stop-color="#df0031"/><stop offset="0.083" stop-color="#df0031"/><stop offset="0.111" stop-color="#df0031"/><stop offset="0.139" stop-color="#df0031"/><stop offset="0.167" stop-color="#df0031"/><stop offset="0.194" stop-color="#df0031"/><stop offset="0.222" stop-color="#df0031"/><stop offset="0.250" stop-color="#df0031"/><stop offset="0.278" stop-color="#df0031"/><stop offset="0.306" stop-color="#df0031"/><stop offset="0.333" stop-color="#df0031"/><stop offset="0.361" stop-color="#df0031"/><stop offset="0.389" stop-color="#df0031"/><stop offset="0.417" stop-color="#df0031"/><stop offset="0.444" stop-color="#df0031"/><stop offset="0.472" stop-color="#df0031"/><stop offset="0.500" stop-color="#df0031"/><stop offset="0.528" stop-color="#df0031"/><stop offset="0.556" stop-color="#df0031"/><stop offset="0.583" stop-color="#df0031"/><stop offset="0.611" stop-color="#df0031"/><stop offset="0.639" stop-color="#df0031"/><stop offset="0.667" stop-color="#df0031"/><stop offset="0.694" stop-color="#df0031"/><stop offset="0.722" stop-color="#df0031"/><stop offset="0.750" stop-color="#df0031"/><stop offset="0.778" stop-color="#df0031"/><stop offset="0.806" stop-color="#df0031"/><stop offset="0.833" stop-color="#df0031"/><stop offset="0.861" stop-color="#df0031"/><stop offset="0.889" stop-color="#df0031"/><stop offset="0.917" stop-color="#df0031"/><stop offset="0.944" stop-color="#df0031"/><stop offset="0.972" stop-color="#df0031"/><stop offset="1.000" stop-color="#df0031"/></linearGradient><linearGradient id="c190" x1="0" y1="0" x2="0" y2="1"><stop offset="0.000" stop-color="#e3002c"/><stop offset="0.028" stop-color="#e3002c"/><stop offset="0.056" stop-color="#e3002c"/><stop offset="0.083" stop-color="#e3002c"/><stop offset="0.111" stop-color="#e3002c"/><stop offset="0.139" stop-color="#e3002c"/><stop offset="0.167" stop-color="#e3002c"/><stop offset="0.194" stop-color="#e3002c"/><stop offset="0.222" stop-color="#e3002c"/><stop offset="0.250" stop-color="#e3002c"/><stop offset="0.278" stop-color="#e3002c"/><stop offset="0.306" stop-color="#e3002c"/><stop offset="0.333" stop-color="#e3002c"/><stop offset="0.361" stop-color="#e3002c"/><stop offset="0.389" stop-color="#e3002c"/><stop offset="0.417" stop-color="#e3002c"/><stop offset="0.444" stop-color="#e3002c"/><stop offset="0.472" stop-color="#e3002c"/><stop offset="0.500" stop-color="#e3002c"/><stop offset="0.528" stop-color="#e3002c"/><stop offset="0.556" stop-color="#e3002c"/><stop offset="0.583" stop-color="#e3002c"/><stop offset="0.611" stop-color="#e3002c"/><stop offset="0.639" stop-color="#e3002c"/><stop offset="0.667" stop-color="#e3002c"/><stop offset="0.694" stop-color="#e3002c"/><stop offset="0.722" stop-color="#e3002c"/><stop offset="0.750" stop-color="#e3002c"/><stop offset="0.778" stop-color="#e3002c"/><stop offset="0.806" stop-color="#e3002c"/><stop offset="0.833" stop-color="#e3002c"/><stop offset="0.861" stop-color="#e3002c"/><stop offset="0.889" stop-color="#e3002c"/><stop offset="0.917" stop-color="#e3002c"/><stop offset="0.944" stop-color="#e3002c"/><stop offset="0.972" stop-color="#e3002c"/><stop offset="1.000" stop-color="#e3002c"/></linearGradient><linearGradient id="c191" x1="0" y1="0" x2="0" y2="1"><stop offset="0.000" stop-color="#e70027"/><stop offset="0.028" stop-color="#e70027"/><stop offset="0.056" stop-color="#e70027"/><stop offset="0.083" stop-color="#e70027"/><stop offset="0.111" stop-color="#e70027"/><stop offset="0.139" stop-color="#e70027"/><stop offset="0.167" stop-color="#e70027"/><stop offset="0.194" stop-color="#e70027"/><stop offset="0.222" stop-color="#e70027"/><stop offset="0.250" stop-color="#e70027"/><stop offset="0.278" stop-color="#e70027"/><stop offset="0.306" stop-color="#e70027"/><stop offset="0.333" stop-color="#e70027"/><stop offset="0.361" stop-color="#e70027"/><stop offset="0.389" stop-color="#e70027"/><stop offset="0.417" stop-color="#e70027"/><stop offset="0.444" stop-color="#e70027"/><stop offset="0.472" stop-color="#e70027"/><stop offset="0.500" stop-color="#e70027"/><stop offset="0.528" stop-color="#e70027"/><stop offset="0.556" stop-color="#e70027"/><stop offset="0.583" stop-color="#e70027"/><stop offset="0.611" stop-color="#e70027"/><stop offset="0.639" stop-color="#e70027"/><stop offset="0.667" stop-color="#e70027"/><stop offset="0.694" stop-color="#e70027"/><stop offset="0.722" stop-color="#e70027"/><stop offset="0.750" stop-color="#e70027"/><stop offset="0.778" stop-color="#e70027"/><stop offset="0.806" stop-color="#e70027"/><stop offset="0.833" stop-color="#e70027"/><stop offset="0.861" stop-color="#e70027"/><stop offset="0.889" stop-color="#e70027"/><stop offset="0.917" stop-color="#e70027"/><stop offset="0.944" stop-color="#e70027"/><stop offset="0.972" stop-color="#e70027"/><stop offset="1.000" stop-color="#e70027"/></linearGradient><linearGradient id="c192" x1="0" y1="0" x2="0" y2="1"><stop offset="0.000" stop-color="#eb0022"/><stop offset="0.028" stop-color="#eb0022"/><stop offset="0.056" stop-color="#eb0022"/><stop offset="0.083" stop-color="#eb0022"/><stop offset="0.111" stop-color="#eb0022"/><stop offset="0.139" stop-color="#eb0022"/><stop offset="0.167" stop-color="#eb0022"/><stop offset="0.194" stop-color="#eb0022"/><stop offset="0.222" stop-color="#eb0022"/><stop offset="0.250" stop-color="#eb0022"/><stop offset="0.278" stop-color="#eb0022"/><stop offset="0.306" stop-color="#eb0022"/><stop offset="0.333" stop-color="#eb0022"/><stop offset="0.361" stop-color="#eb0022"/><stop offset="0.389" stop-color="#eb0022"/><stop offset="0.417" stop-color="#eb0022"/><stop offset="0.444" stop-color="#eb0022"/><stop offset="0.472" stop-color="#eb0022"/><stop offset="0.500" stop-color="#eb0022"/><stop offset="0.528" stop-color="#eb0022"/><stop offset="0.556" stop-color="#eb0022"/><stop offset="0.583" stop-color="#eb0022"/><stop offset="0.611" stop-color="#eb0022"/><stop offset="0.639" stop-color="#eb0022"/><stop offset="0.667" stop-color="#eb0022"/><stop offset="0.694" stop-color="#eb0022"/><stop offset="0.722" stop-color="#eb0022"/><stop offset="0.750" stop-color="#eb0022"/><stop offset="0.778" stop-color="#eb0022"/><stop offset="0.806" stop-color="#eb0022"/><stop offset="0.833" stop-color="#eb0022"/><stop offset="0.861" stop-color="#eb0022"/><stop offset="0.889" stop-color="#eb0022"/><stop offset="0.917" stop-color="#eb0022"/><stop offset="0.944" stop-color="#eb0022"/><stop offset="0.972" stop-color="#eb0022"/><stop offset="1.000" stop-color="#eb0022"/></linearGradient><linearGradient id="c193" x1="0" y1="0" x2="0" y2="1"><stop offset="0.000" stop-color="#ef001d"/><stop offset="0.028" stop-color="#ef001d"/><stop offset="0.056" stop-color="#ef001d"/><stop offset="0.083" stop-color="#ef001d"/><stop offset="0.111" stop-color="#ef001d"/><stop offset="0.139" stop-color="#ef001d"/><stop offset="0.167" stop-color="#ef001d"/><stop offset="0.194" stop-color="#ef001d"/><stop offset="0.222" stop-color="#ef001d"/><stop offset="0.250" stop-color="#ef001d"/><stop offset="0.278" stop-color="#ef001d"/><stop offset="0.306" stop-color="#ef001d"/><stop offset="0.333" stop-color="#ef001d"/><stop offset="0.361" stop-color="#ef001d"/><stop offset="0.389" stop-color="#ef001d"/><stop offset="0.417" stop-color="#ef001d"/><stop offset="0.444" stop-color="#ef001d"/><stop offset="0.472" stop-color="#ef001d"/><stop offset="0.500" stop-color="#ef001d"/><stop offset="0.528" stop-color="#ef001d"/><stop offset="0.556" stop-color="#ef001d"/><stop offset="0.583" stop-color="#ef001d"/><stop offset="0.611" stop-color="#ef001d"/><stop offset="0.639" stop-color="#ef001d"/><stop offset="0.667" stop-color="#ef001d"/><stop offset="0.694" stop-color="#ef001d"/><stop offset="0.722" stop-color="#ef001d"/><stop offset="0.750" stop-color="#ef001d"/><stop offset="0.778" stop-color="#ef001d"/><stop offset="0.806" stop-color="#ef001d"/><stop offset="0.833" stop-color="#ef001d"/><stop offset="0.861" stop-color="#ef001d"/><stop offset="0.889" stop-color="#ef001d"/><stop offset="0.917" stop-color="#ef001d"/><stop offset="0.944" stop-color="#ef001d"/><stop offset="0.972" stop-color="#ef001d"/><stop offset="1.000" stop-color="#ef001d"/></linearGradient><linearGradient id="c194" x1="0" y1="0" x2="0" y2="1"><stop offset="0.000" stop-color="#f40018"/><stop offset="0.028" stop-color="#f40018"/><stop offset="0.056" stop-color="#f40018"/><stop offset="0.083" stop-color="#f40018"/><stop offset="0.111" stop-color="#f40018"/><stop offset="0.139" stop-color="#f40018"/><stop offset="0.167" stop-color="#f40018"/><stop offset="0.194" stop-color="#f40018"/><stop offset="0.222" stop-color="#f40018"/><stop offset="0.250" stop-color="#f40018"/><stop offset="0.278" stop-color="#f40018"/><stop offset="0.306" stop-color="#f40018"/><stop offset="0.333" stop-color="#f40018"/><stop offset="0.361" stop-color="#f40018"/><stop offset="0.389" stop-color="#f40018"/><stop offset="0.417" stop-color="#f40018"/><stop offset="0.444" stop-color="#f40018"/><stop offset="0.472" stop-color="#f40018"/><stop offset="0.500" stop-color="#f40018"/><stop offset="0.528" stop-color="#f40018"/><stop offset="0.556" stop-color="#f40018"/><stop offset="0.583" stop-color="#f40018"/><stop offset="0.611" stop-color="#f40018"/><stop offset="0.639" stop-color="#f40018"/><stop offset="0.667" stop-color="#f40018"/><stop offset="0.694" stop-color="#f40018"/><stop offset="0.722" stop-color="#f40018"/><stop offset="0.750" stop-color="#f40018"/><stop offset="0.778" stop-color="#f40018"/><stop offset="0.806" stop-color="#f40018"/><stop offset="0.833" stop-color="#f40018"/><stop offset="0.861" stop-color="#f40018"/><stop offset="0.889" stop-color="#f40018"/><stop offset="0.917" stop-color="#f40018"/><stop offset="0.944" stop-color="#f40018"/><stop offset="0.972" stop-color="#f40018"/><stop offset="1.000" stop-color="#f40018"/></linearGradient><linearGradient id="c195" x1="0" y1="0" x2="0" y2="1"><stop offset="0.000" stop-color="#f80013"/><stop offset="0.028" stop-color="#f80013"/><stop offset="0.056" stop-color="#f80013"/><stop offset="0.083" stop-color="#f80013"/><stop offset="0.111" stop-color="#f80013"/><stop offset="0.139" stop-color="#f80013"/><stop offset="0.167" stop-color="#f80013"/><stop offset="0.194" stop-color="#f80013"/><stop offset="0.222" stop-color="#f80013"/><stop offset="0.250" stop-color="#f80013"/><stop offset="0.278" stop-color="#f80013"/><stop offset="0.306" stop-color="#f80013"/><stop offset="0.333" stop-color="#f80013"/><stop offset="0.361" stop-color="#f80013"/><stop offset="0.389" stop-color="#f80013"/><stop offset="0.417" stop-color="#f80013"/><stop offset="0.444" stop-color="#f80013"/><stop offset="0.472" stop-color="#f80013"/><stop offset="0.500" stop-color="#f80013"/><stop offset="0.528" stop-color="#f80013"/><stop offset="0.556" stop-color="#f80013"/><stop offset="0.583" stop-color="#f80013"/><stop offset="0.611" stop-color="#f80013"/><stop offset="0.639" stop-color="#f80013"/><stop offset="0.667" stop-color="#f80013"/><stop offset="0.694" stop-color="#f80013"/><stop offset="0.722" stop-color="#f80013"/><stop offset="0.750" stop-color="#f80013"/><stop offset="0.778" stop-color="#f80013"/><stop offset="0.806" stop-color="#f80013"/><stop offset="0.833" stop-color="#f80013"/><stop offset="0.861" stop-color="#f80013"/><stop offset="0.889" stop-color="#f80013"/><stop offset="0.917" stop-color="#f80013"/><stop offset="0.944" stop-color="#f80013"/><stop offset="0.972" stop-color="#f80013"/><stop offset="1.000" stop-color="#f80013"/></linearGradient><linearGradient id="c196" x1="0" y1="0" x2="0" y2="1"><stop offset="0.000" stop-color="#fb000b"/><stop offset="0.028" stop-color="#fb000b"/><stop offset="0.056" stop-color="#fb000b"/><stop offset="0.083" stop-color="#fb000b"/><stop offset="0.111" stop-color="#fb000b"/><stop offset="0.139" stop-color="#fb000b"/><stop offset="0.167" stop-color="#fb000b"/><stop offset="0.194" stop-color="#fb000b"/><stop offset="0.222" stop-color="#fb000b"/><stop offset="0.250" stop-color="#fb000b"/><stop offset="0.278" stop-color="#fb000b"/><stop offset="0.306" stop-color="#fb000b"/><stop offset="0.333" stop-color="#fb000b"/><stop offset="0.361" stop-color="#fb000b"/><stop offset="0.389" stop-color="#fb000b"/><stop offset="0.417" stop-color="#fb000b"/><stop offset="0.444" stop-color="#fb000b"/><stop offset="0.472" stop-color="#fb000b"/><stop offset="0.500" stop-color="#fb000b"/><stop offset="0.528" stop-color="#fb000b"/><stop offset="0.556" stop-color="#fb000b"/><stop offset="0.583" stop-color="#fb000b"/><stop offset="0.611" stop-color="#fb000b"/><stop offset="0.639" stop-color="#fb000b"/><stop offset="0.667" stop-color="#fb000b"/><stop offset="0.694" stop-color="#fb000b"/><stop offset="0.722" stop-color="#fb000b"/><stop offset="0.750" stop-color="#fb000b"/><stop offset="0.778" stop-color="#fb000b"/><stop offset="0.806" stop-color="#fb000b"/><stop offset="0.833" stop-color="#fb000b"/><stop offset="0.861" stop-color="#fb000b"/><stop offset="0.889" stop-color="#fb000b"/><stop offset="0.917" stop-color="#fb000b"/><stop offset="0.944" stop-color="#fb000b"/><stop offset="0.972" stop-color="#fb000b"/><stop offset="1.000" stop-color="#fb000b"/></linearGradient><linearGradient id="c197" x1="0" y1="0" x2="0" y2="1"><stop offset="0.000" stop-color="#fe0003"/><stop offset="0.028" stop-color="#fe0003"/><stop offset="0.056" stop-color="#fe0003"/><stop offset="0.083" stop-color="#fe0003"/><stop offset="0.111" stop-color="#fe0003"/><stop offset="0.139" stop-color="#fe0003"/><stop offset="0.167" stop-color="#fe0003"/><stop offset="0.194" stop-color="#fe0003"/><stop offset="0.222" stop-color="#fe0003"/><stop offset="0.250" stop-color="#fe0003"/><stop offset="0.278" stop-color="#fe0003"/><stop offset="0.306" stop-color="#fe0003"/><stop offset="0.333" stop-color="#fe0003"/><stop offset="0.361" stop-color="#fe0003"/><stop offset="0.389" stop-color="#fe0003"/><stop offset="0.417" stop-color="#fe0003"/><stop offset="0.444" stop-color="#fe0003"/><stop offset="0.472" stop-color="#fe0003"/><stop offset="0.500" stop-color="#fe0003"/><stop offset="0.528" stop-color="#fe0003"/><stop offset="0.556" stop-color="#fe0003"/><stop offset="0.583" stop-color="#fe0003"/><stop offset="0.611" stop-color="#fe0003"/><stop offset="0.639" stop-color="#fe0003"/><stop offset="0.667" stop-color="#fe0003"/><stop offset="0.694" stop-color="#fe0003"/><stop offset="0.722" stop-color="#fe0003"/><stop offset="0.750" stop-color="#fe0003"/><stop offset="0.778" stop-color="#fe0003"/><stop offset="0.806" stop-color="#fe0003"/><stop offset="0.833" stop-color="#fe0003"/><stop offset="0.861" stop-color="#fe0003"/><stop offset="0.889" stop-color="#fe0003"/><stop offset="0.917" stop-color="#fe0003"/><stop offset="0.944" stop-color="#fe0003"/><stop offset="0.972" stop-color="#fe0003"/><stop offset="1.000" stop-color="#fe0003"/></linearGradient><linearGradient id="c198" x1="0" y1="0" x2="0" y2="1"><stop offset="0.000" stop-color="#ff0000"/><stop offset="0.028" stop-color="#ff0000"/><stop offset="0.056" stop-color="#ff0000"/><stop offset="0.083" stop-color="#ff0000"/><stop offset="0.111" stop-color="#ff0000"/><stop offset="0.139" stop-color="#ff0000"/><stop offset="0.167" stop-color="#ff0000"/><stop offset="0.194" stop-color="#ff0000"/><stop offset="0.222" stop-color="#ff0000"/><stop offset="0.250" stop-color="#ff0000"/><stop offset="0.278" stop-color="#ff0000"/><stop offset="0.306" stop-color="#ff0000"/><stop offset="0.333" stop-color="#ff0000"/><stop offset="0.361" stop-color="#ff0000"/><stop offset="0.389" stop-color="#ff0000"/><stop offset="0.417" stop-color="#ff0000"/><stop offset="0.444" stop-color="#ff0000"/><stop offset="0.472" stop-color="#ff0000"/><stop offset="0.500" stop-color="#ff0000"/><stop offset="0.528" stop-color="#ff0000"/><stop offset="0.556" stop-color="#ff0000"/><stop offset="0.583" stop-color="#ff0000"/><stop offset="0.611" stop-color="#ff0000"/><stop offset="0.639" stop-color="#ff0000"/><stop offset="0.667" stop-color="#ff0000"/><stop offset="0.694" stop-color="#ff0000"/><stop offset="0.722" stop-color="#ff0000"/><stop offset="0.750" stop-color="#ff0000"/><stop offset="0.778" stop-color="#ff0000"/><stop offset="0.806" stop-color="#ff0000"/><stop offset="0.833" stop-color="#ff0000"/><stop offset="0.861" stop-color="#ff0000"/><stop offset="0.889" stop-color="#ff0000"/><stop offset="0.917" stop-color="#ff0000"/><stop offset="0.944" stop-color="#ff0000"/><stop offset="0.972" stop-color="#ff0000"/><stop offset="1.000" stop-color="#ff0000"/></linearGradient><linearGradient id="c199" x1="0" y1="0" x2="0" y2="1"><stop offset="0.000" stop-color="#ff0000"/><stop offset="0.028" stop-color="#ff0000"/><stop offset="0.056" stop-color="#ff0000"/><stop offset="0.083" stop-color="#ff0000"/><stop offset="0.111" stop-color="#ff0000"/><stop offset="0.139" stop-color="#ff0000"/><stop offset="0.167" stop-color="#ff0000"/><stop offset="0.194" stop-color="#ff0000"/><stop offset="0.222" stop-color="#ff0000"/><stop offset="0.250" stop-color="#ff0000"/><stop offset="0.278" stop-color="#ff0000"/><stop offset="0.306" stop-color="#ff0000"/><stop offset="0.333" stop-color="#ff0000"/><stop offset="0.361" stop-color="#ff0000"/><stop offset="0.389" stop-color="#ff0000"/><stop offset="0.417" stop-color="#ff0000"/><stop offset="0.444" stop-color="#ff0000"/><stop offset="0.472" stop-color="#ff0000"/><stop offset="0.500" stop-color="#ff0000"/><stop offset="0.528" stop-color="#ff0000"/><stop offset="0.556" stop-color="#ff0000"/><stop offset="0.583" stop-color="#ff0000"/><stop offset="0.611" stop-color="#ff0000"/><stop offset="0.639" stop-color="#ff0000"/><stop offset="0.667" stop-color="#ff0000"/><stop offset="0.694" stop-color="#ff0000"/><stop offset="0.722" stop-color="#ff0000"/><stop offset="0.750" stop-color="#ff0000"/><stop offset="0.778" stop-color="#ff0000"/><stop offset="0.806" stop-color="#ff0000"/><stop offset="0.833" stop-color="#ff0000"/><stop offset="0.861" stop-color="#ff0000"/><stop offset="0.889" stop-color="#ff0000"/><stop offset="0.917" stop-color="#ff0000"/><stop offset="0.944" stop-color="#ff0000"/><stop offset="0.972" stop-color="#ff0000"/><stop offset="1.000" stop-color="#ff0000"/></linearGradient></defs>
<rect x="60" y="8.3" width="1.6" height="109.3" fill="url(#c60)"/>
<rect x="61" y="8.3" width="1.6" height="109.3" fill="url(#c61)"/>
<rect x="62" y="8.3" width="1.6" height="109.3" fill="url(#c62)"/>
<rect x="63" y="8.3" width="1.6" height="109.3" fill="url(#c63)"/>
<rect x="64" y="8.3" width="1.6" height="109.3" fill="url(#c64)"/>
<rect x="65" y="8.3" width="1.6" height="109.3" fill="url(#c65)"/>
<rect x="66" y="8.3" width="1.6" height="109.3" fill="url(#c66)"/>
<rect x="67" y="8.3" width="1.6" height="109.3" fill="url(#c67)"/>
<rect x="68" y="8.3" width="1.6" height="109.3" fill="url(#c68)"/>
<rect x="69" y="8.3" width="1.6" height="109.3" fill="url(#c69)"/>
<rect x="70" y="8.3" width="1.6" height="109.3" fill="url(#c70)"/>
<rect x="71" y="8.3" width="1.6" height="109.3" fill="url(#c71)"/>
<rect x="72" y="8.3" width="1.6" height="109.3" fill="url(#c72)"/>
<rect x="73" y="8.3" width="1.6" height="109.3" fill="url(#c73)"/>
<rect x="74" y="8.3" width="1.6" height="109.3" fill="url(#c74)"/>
<rect x="75" y="8.3" width="1.6" height="109.3" fill="url(#c75)"/>
<rect x="76" y="8.3" width="1.6" height="109.3" fill="url(#c76)"/>
<rect x="77" y="8.3" width="1.6" height="109.3" fill="url(#c77)"/>
<rect x="78" y="8.3" width="1.6" height="109.3" fill="url(#c78)"/>
<rect x="79" y="8.3" width="1.6" height="109.3" fill="url(#c79)"/>
<rect x="80" y="8.3" width="1.6" height="109.3" fill="url(#c80)"/>
<rect x="81" y="8.3" width="1.6" height="109.3" fill="url(#c81)"/>
<rect x="82" y="8.3" width="1.6" height="109.3" fill="url(#c82)"/>
<rect x="83" y="8.3" width="1.6" height="109.3" fill="url(#c83)"/>
<rect x="84" y="8.3" width="1.6" height="109.3" fill="url(#c84)"/>
<rect x="85" y="8.3" width="1.6" height="109.3" fill="url(#c85)"/>
<rect x="86" y="8.3" width="1.6" height="109.3" fill="url(#c86)"/>
<rect x="87" y="8.3" width="1.6" height="109.3" fill="url(#c87)"/>
<rect x="88" y="8.3" width="1.6" height="109.3" fill="url(#c88)"/>
<rect x="89" y="8.3" width="1.6" height="109.3" fill="url(#c89)"/>
<rect x="90" y="8.3" width="1.6" height="109.3" fill="url(#c90)"/>
<rect x="91" y="8.3" width="1.6" height="109.3" fill="url(#c91)"/>
<rect x="92" y="8.3" width="1.6" height="109.3" fill="url(#c92)"/>
<rect x="93" y="8.3" width="1.6" height="109.3" fill="url(#c93)"/>
<rect x="94" y="8.3" width="1.6" height="109.3" fill="url(#c94)"/>
<rect x="95" y="8.3" width="1.6" height="109.3" fill="url(#c95)"/>
<rect x="96" y="8.3" width="1.6" height="109.3" fill="url(#c96)"/>
<rect x="97" y="8.3" width="1.6" height="109.3" fill="url(#c97)"/>
<rect x="98" y="8.3" width="1.6" height="109.3" fill="url(#c98)"/>
<rect x="99" y="8.3" width="1.6" height="109.3" fill="url(#c99)"/>
<rect x="100" y="8.3" width="1.6" height="109.3" fill="url(#c100)"/>
<rect x="101" y="8.3" width="1.6" height="109.3" fill="url(#c101)"/>
<rect x="102" y="8.3" width="1.6" height="109.3" fill="url(#c102)"/>
<rect x="103" y="8.3" width="1.6" height="109.3" fill="url(#c103)"/>
<rect x="104" y="8.3" width="1.6" height="109.3" fill="url(#c104)"/>
<rect x="105" y="8.3" width="1.6" height="109.3" fill="url(#c105)"/>
<rect x="106" y="8.3" width="1.6" height="109.3" fill="url(#c106)"/>
<rect x="107" y="8.3" width="1.6" height="109.3" fill="url(#c107)"/>
<rect x="108" y="8.3" width="1.6" height="109.3" fill="url(#c108)"/>
<rect x="109" y="8.3" width="1.6" height="109.3" fill="url(#c109)"/>
<rect x="110" y="8.3" width="1.6" height="109.3" fill="url(#c110)"/>
<rect x="111" y="8.3" width="1.6" height="109.3" fill="url(#c111)"/>
<rect x="112" y="8.3" width="1.6" height="109.3" fill="url(#c112)"/>
<rect x="113" y="8.3" width="1.6" height="109.3" fill="url(#c113)"/>
<rect x="114" y="8.3" width="1.6" height="109.3" fill="url(#c114)"/>
<rect x="115" y="8.3" width="1.6" height="109.3" fill="url(#c115)"/>
<rect x="116" y="8.3" width="1.6" height="109.3" fill="url(#c116)"/>
<rect x="117" y="8.3" width="1.6" height="109.3" fill="url(#c117)"/>
<rect x="118" y="8.3" width="1.6" height="109.3" fill="url(#c118)"/>
<rect x="119" y="8.3" width="1.6" height="109.3" fill="url(#c119)"/>
<rect x="120" y="8.3" width="1.6" height="109.3" fill="url(#c120)"/>
<rect x="121" y="8.3" width="1.6" height="109.3" fill="url(#c121)"/>
<rect x="122" y="8.3" width="1.6" height="109.3" fill="url(#c122)"/>
<rect x="123" y="8.3" width="1.6" height="109.3" fill="url(#c123)"/>
<rect x="124" y="8.3" width="1.6" height="109.3" fill="url(#c124)"/>
<rect x="125" y="8.3" width="1.6" height="109.3" fill="url(#c125)"/>
<rect x="126" y="8.3" width="1.6" height="109.3" fill="url(#c126)"/>
<rect x="127" y="8.3" width="1.6" height="109.3" fill="url(#c127)"/>
<rect x="128" y="8.3" width="1.6" height="109.3" fill="url(#c128)"/>
<rect x="129" y="8.3" width="1.6" height="109.3" fill="url(#c129)"/>
<rect x="130" y="8.3" width="1.6" height="109.3" fill="url(#c130)"/>
<rect x="131" y="8.3" width="1.6" height="109.3" fill="url(#c131)"/>
<rect x="132" y="8.3" width="1.6" height="109.3" fill="url(#c132)"/>
<rect x="133" y="8.3" width="1.6" height="109.3" fill="url(#c133)"/>
<rect x="134" y="8.3" width="1.6" height="109.3" fill="url(#c134)"/>
<rect x="135" y="8.3" width="1.6" height="109.3" fill="url(#c135)"/>
<rect x="136" y="8.3" width="1.6" height="109.3" fill="url(#c136)"/>
<rect x="137" y="8.3" width="1.6" height="109.3" fill="url(#c137)"/>
<rect x="138" y="8.3" width="1.6" height="109.3" fill="url(#c138)"/>
<rect x="139" y="8.3" width="1.6" height="109.3" fill="url(#c139)"/>
<rect x="140" y="8.3" width="1.6" height="109.3" fill="url(#c140)"/>
<rect x="141" y="8.3" width="1.6" height="109.3" fill="url(#c141)"/>
<rect x="142" y="8.3" width="1.6" height="109.3" fill="url(#c142)"/>
<rect x="143" y="8.3" width="1.6" height="109.3" fill="url(#c143)"/>
<rect x="144" y="8.3" width="1.6" height="109.3" fill="url(#c144)"/>
<rect x="145" y="8.3" width="1.6" height="109.3" fill="url(#c145)"/>
<rect x="146" y="8.3" width="1.6" height="109.3" fill="url(#c146)"/>
<rect x="147" y="8.3" width="1.6" height="109.3" fill="url(#c147)"/>
<rect x="148" y="8.3" width="1.6" height="109.3" fill="url(#c148)"/>
<rect x="149" y="8.3" width="1.6" height="109.3" fill="url(#c149)"/>
<rect x="150" y="8.3" width="1.6" height="109.3" fill="url(#c150)"/>
<rect x="151" y="8.3" width="1.6" height="109.3" fill="url(#c151)"/>
<rect x="152" y="8.3" width="1.6" height="109.3" fill="url(#c152)"/>
<rect x="153" y="8.3" width="1.6" height="109.3" fill="url(#c153)"/>
<rect x="154" y="8.3" width="1.6" height="109.3" fill="url(#c154)"/>
<rect x="155" y="8.3" width="1.6" height="109.3" fill="url(#c155)"/>
<rect x="156" y="8.3" width="1.6" height="109.3" fill="url(#c156)"/>
<rect x="157" y="8.3" width="1.6" height="109.3" fill="url(#c157)"/>
<rect x="158" y="8.3" width="1.6" height="109.3" fill="url(#c158)"/>
<rect x="159" y="8.3" width="1.6" height="109.3" fill="url(#c159)"/>
<rect x="160" y="8.3" width="1.6" height="109.3" fill="url(#c160)"/>
<rect x="161" y="8.3" width="1.6" height="109.3" fill="url(#c161)"/>
<rect x="162" y="8.3" width="1.6" height="109.3" fill="url(#c162)"/>
<rect x="163" y="8.3" width="1.6" height="109.3" fill="url(#c163)"/>
<rect x="164" y="8.3" width="1.6" height="109.3" fill="url(#c164)"/>
<rect x="165" y="8.3" width="1.6" height="109.3" fill="url(#c165)"/>
<rect x="166" y="8.3" width="1.6" height="109.3" fill="url(#c166)"/>
<rect x="167" y="8.3" width="1.6" height="109.3" fill="url(#c167)"/>
<rect x="168" y="8.3" width="1.6" height="109.3" fill="url(#c168)"/>
<rect x="169" y="8.3" width="1.6" height="109.3" fill="url(#c169)"/>
<rect x="170" y="8.3" width="1.6" height="109.3" fill="url(#c170)"/>
<rect x="171" y="8.3" width="1.6" height="109.3" fill="url(#c171)"/>
<rect x="172" y="8.3" width="1.6" height="109.3" fill="url(#c172)"/>
<rect x="173" y="8.3" width="1.6" height="109.3" fill="url(#c173)"/>
<rect x="174" y="8.3" width="1.6" height="109.3" fill="url(#c174)"/>
<rect x="175" y="8.3" width="1.6" height="109.3" fill="url(#c175)"/>
<rect x="176" y="8.3" width="1.6" height="109.3" fill="url(#c176)"/>
<rect x="177" y="8.3" width="1.6" height="109.3" fill="url(#c177)"/>
<rect x="178" y="8.3" width="1.6" height="109.3" fill="url(#c178)"/>
<rect x="179" y="8.3" width="1.6" height="109.3" fill="url(#c179)"/>
<rect x="180" y="8.3" width="1.6" height="109.3" fill="url(#c180)"/>
<rect x="181" y="8.3" width="1.6" height="109.3" fill="url(#c181)"/>
<rect x="182" y="8.3" width="1.6" height="109.3" fill="url(#c182)"/>
<rect x="183" y="8.3" width="1.6" height="109.3" fill="url(#c183)"/>
<rect x="184" y="8.3" width="1.6" height="109.3" fill="url(#c184)"/>
<rect x="185" y="8.3" width="1.6" height="109.3" fill="url(#c185)"/>
<rect x="186" y="8.3" width="1.6" height="109.3" fill="url(#c186)"/>
<rect x="187" y="8.3" width="1.6" height="109.3" fill="url(#c187)"/>
<rect x="188" y="8.3" width="1.6" height="109.3" fill="url(#c188)"/>
<rect x="189" y="8.3" width="1.6" height="109.3" fill="url(#c189)"/>
<rect x="190" y="8.3" width="1.6" height="109.3" fill="url(#c190)"/>
<rect x="191" y="8.3" width="1.6" height="109.3" fill="url(#c191)"/>
<rect x="192" y="8.3" width="1.6" height="109.3" fill="url(#c192)"/>
<rect x="193" y="8.3" width="1.6" height="109.3" fill="url(#c193)"/>
<rect x="194" y="8.3" width="1.6" height="109.3" fill="url(#c194)"/>
<rect x="195" y="8.3" width="1.6" height="109.3" fill="url(#c195)"/>
<rect x="196" y="8.3" width="1.6" height="109.3" fill="url(#c196)"/>
<rect x="197" y="8.3" width="1.6" height="109.3" fill="url(#c197)"/>
<rect x="198" y="8.3" width="1.6" height="109.3" fill="url(#c198)"/>
<rect x="199" y="8.3" width="1.6" height="109.3" fill="url(#c199)"/>
<rect x="200" y="8.3" width="80.0" height="109.3" fill="#ff0000"/>
<defs><linearGradient id="cb" x1="0" y1="0" x2="0" y2="1"><stop offset="0.000" stop-color="#f80012"/><stop offset="0.013" stop-color="#f30018"/><stop offset="0.025" stop-color="#ee001e"/><stop offset="0.037" stop-color="#ea0024"/><stop offset="0.050" stop-color="#e5002a"/><stop offset="0.062" stop-color="#e00030"/><stop offset="0.075" stop-color="#da0037"/><stop offset="0.087" stop-color="#d3003f"/><stop offset="0.100" stop-color="#cd0046"/><stop offset="0.113" stop-color="#c6004e"/><stop offset="0.125" stop-color="#c00055"/><stop offset="0.138" stop-color="#b8005e"/><stop offset="0.150" stop-color="#af0067"/><stop offset="0.163" stop-color="#a70070"/><stop offset="0.175" stop-color="#9e0079"/><stop offset="0.188" stop-color="#960082"/><stop offset="0.200" stop-color="#8e008c"/><stop offset="0.212" stop-color="#850095"/><stop offset="0.225" stop-color="#7d009f"/><stop offset="0.237" stop-color="#7400a8"/><stop offset="0.250" stop-color="#6c00b2"/><stop offset="0.263" stop-color="#6101be"/><stop offset="0.275" stop-color="#5602c9"/><stop offset="0.287" stop-color="#4a04d5"/><stop offset="0.300" stop-color="#3f05e0"/><stop offset="0.312" stop-color="#3406ec"/><stop offset="0.325" stop-color="#2707f2"/><stop offset="0.338" stop-color="#1a08f7"/><stop offset="0.350" stop-color="#1008fb"/><stop offset="0.362" stop-color="#0808fd"/><stop offset="0.375" stop-color="#0008ff"/><stop offset="0.388" stop-color="#0013f5"/><stop offset="0.400" stop-color="#001eeb"/><stop offset="0.412" stop-color="#0028e1"/><stop offset="0.425" stop-color="#0033d7"/><stop offset="0.438" stop-color="#003ecd"/><stop offset="0.450" stop-color="#0248c1"/><stop offset="0.463" stop-color="#0552b5"/><stop offset="0.475" stop-color="#075ca9"/><stop offset="0.487" stop-color="#0a669d"/><stop offset="0.500" stop-color="#0c7091"/><stop offset="0.512" stop-color="#0f7888"/><stop offset="0.525" stop-color="#127f7e"/><stop offset="0.537" stop-color="#168775"/><stop offset="0.550" stop-color="#198e6b"/><stop offset="0.562" stop-color="#1c9662"/><stop offset="0.575" stop-color="#1b9d58"/><stop offset="0.588" stop-color="#19a54e"/><stop offset="0.600" stop-color="#18ac44"/><stop offset="0.613" stop-color="#16b43a"/><stop offset="0.625" stop-color="#07d913"/><stop offset="0.637" stop-color="#01ed01"/><stop offset="0.650" stop-color="#02ee02"/><stop offset="0.662" stop-color="#03ef03"/><stop offset="0.675" stop-color="#04f004"/><stop offset="0.688" stop-color="#05f105"/><stop offset="0.700" stop-color="#06f306"/><stop offset="0.713" stop-color="#07f407"/><stop offset="0.725" stop-color="#08f508"/><stop offset="0.738" stop-color="#09f609"/><stop offset="0.750" stop-color="#0af80a"/><stop offset="0.762" stop-color="#0bf90b"/><stop offset="0.775" stop-color="#0cfa0c"/><stop offset="0.787" stop-color="#1efb1e"/><stop offset="0.800" stop-color="#31fb31"/><stop offset="0.812" stop-color="#43fc43"/><stop offset="0.825" stop-color="#55fd55"/><stop offset="0.838" stop-color="#67fe67"/><stop offset="0.850" stop-color="#7afe7a"/><stop offset="0.863" stop-color="#8cff8c"/><stop offset="0.875" stop-color="#aeffae"/><stop offset="0.887" stop-color="#d0ffd0"/><stop offset="0.900" stop-color="#d5ffd5"/><stop offset="0.912" stop-color="#daffda"/><stop offset="0.925" stop-color="#e0ffe0"/><stop offset="0.938" stop-color="#e5ffe5"/><stop offset="0.950" stop-color="#eaffea"/><stop offset="0.963" stop-color="#efffef"/><stop offset="0.975" stop-color="#f5fff5"/><stop offset="0.988" stop-color="#fafffa"/><stop offset="1.000" stop-color="#ffffff"/></linearGradient></defs><rect x="285.5" y="8.5" width="11.0" height="109.0" fill="url(#cb)" stroke="#444" stroke-width="0.8"/><line x1="285.5" y1="22.12" x2="296.5" y2="22.12" stroke="#222" stroke-width="0.8" stroke-dasharray="2.5,1.5"/><text x="303.4" y="28.32" class="t">10<tspan dy="-6.6" font-size="10.4">−2</tspan></text><line x1="285.5" y1="49.38" x2="296.5" y2="49.38" stroke="#222" stroke-width="0.8" stroke-dasharray="2.5,1.5"/><text x="303.4" y="55.58" class="t">10<tspan dy="-6.6" font-size="10.4">−4</tspan></text><line x1="285.5" y1="76.62" x2="296.5" y2="76.62" stroke="#222" stroke-width="0.8" stroke-dasharray="2.5,1.5"/><text x="303.4" y="82.83" class="t">10<tspan dy="-6.6" font-size="10.4">−6</tspan></text><line x1="285.5" y1="103.88" x2="296.5" y2="103.88" stroke="#222" stroke-width="0.8" stroke-dasharray="2.5,1.5"/><text x="303.4" y="110.08" class="t">10<tspan dy="-6.6" font-size="10.4">−8</tspan></text>
<g clip-path="url(#clipm)">
<path d="M61.40 216.50V223.50M66.10 201.50V217.50M71.70 199.30V209.30M76.30 180.30V194.30M80.80 190.70V202.70M85.40 178.00V193.00M89.70 174.60V189.60M94.40 170.90V185.90M99.10 169.00V185.00M103.70 183.20V197.20M108.20 163.30V181.30M112.90 175.90V190.90M117.50 172.30V187.70M122.10 169.70V185.70M126.60 171.80V187.20M131.20 174.20V189.20M135.70 162.40V180.40M140.30 170.30V186.30M145.00 174.10V189.10M149.60 180.00V194.00M154.20 189.00V201.00M158.80 162.70V180.70M163.20 163.60V181.60M172.60 130.30V150.30M177.00 122.30V143.70M181.50 142.10V160.90M190.70 146.20V166.20M195.30 167.10V187.10M199.90 171.50V190.50M209.00 186.60V200.60M213.60 196.00V208.00M218.20 194.70V206.70M222.80 198.60V210.60M227.40 194.30V206.30M232.00 194.00V206.00M236.50 201.30V211.30M241.10 212.80V220.80M245.70 199.50V210.50M250.30 214.30V222.30M254.90 211.10V219.10M259.50 207.40V217.40M264.00 219.50V225.50M268.60 219.50V225.50M273.20 220.50V226.50" stroke="#c86a6a" stroke-width="1.2" fill="none"/><g fill="#a82424"><circle cx="61.40" cy="220.00" r="2.1"/><circle cx="66.10" cy="209.50" r="2.1"/><circle cx="71.70" cy="204.30" r="2.1"/><circle cx="76.30" cy="187.30" r="2.1"/><circle cx="80.80" cy="196.70" r="2.1"/><circle cx="85.40" cy="185.50" r="2.1"/><circle cx="89.70" cy="182.10" r="2.1"/><circle cx="94.40" cy="178.40" r="2.1"/><circle cx="99.10" cy="177.00" r="2.1"/><circle cx="103.70" cy="190.20" r="2.1"/><circle cx="108.20" cy="172.30" r="2.1"/><circle cx="112.90" cy="183.40" r="2.1"/><circle cx="117.50" cy="180.00" r="2.1"/><circle cx="122.10" cy="177.70" r="2.1"/><circle cx="126.60" cy="179.50" r="2.1"/><circle cx="131.20" cy="181.70" r="2.1"/><circle cx="135.70" cy="171.40" r="2.1"/><circle cx="140.30" cy="178.30" r="2.1"/><circle cx="145.00" cy="181.60" r="2.1"/><circle cx="149.60" cy="187.00" r="2.1"/><circle cx="154.20" cy="195.00" r="2.1"/><circle cx="158.80" cy="171.70" r="2.1"/><circle cx="163.20" cy="172.60" r="2.1"/><circle cx="172.60" cy="140.30" r="2.1"/><circle cx="177.00" cy="133.00" r="2.1"/><circle cx="181.50" cy="151.50" r="2.1"/><circle cx="190.70" cy="156.20" r="2.1"/><circle cx="195.30" cy="177.10" r="2.1"/><circle cx="199.90" cy="181.00" r="2.1"/><circle cx="209.00" cy="193.60" r="2.1"/><circle cx="213.60" cy="202.00" r="2.1"/><circle cx="218.20" cy="200.70" r="2.1"/><circle cx="222.80" cy="204.60" r="2.1"/><circle cx="227.40" cy="200.30" r="2.1"/><circle cx="232.00" cy="200.00" r="2.1"/><circle cx="236.50" cy="206.30" r="2.1"/><circle cx="241.10" cy="216.80" r="2.1"/><circle cx="245.70" cy="205.00" r="2.1"/><circle cx="250.30" cy="218.30" r="2.1"/><circle cx="254.90" cy="215.10" r="2.1"/><circle cx="259.50" cy="212.40" r="2.1"/><circle cx="264.00" cy="222.50" r="2.1"/><circle cx="268.60" cy="222.50" r="2.1"/><circle cx="273.20" cy="223.50" r="2.1"/></g>
<path d="M65.20 204.90V215.90M74.40 196.00V205.60M83.80 205.40V215.40M93.10 198.70V210.10M102.40 196.40V207.60M111.70 183.60V195.60M121.00 191.80V203.80M130.30 182.40V194.40M139.60 176.40V190.40M148.90 182.80V196.80M158.20 173.50V189.50M167.50 148.90V166.90M176.80 153.80V171.80M186.10 158.60V174.60M195.40 179.80V191.80M204.70 185.50V197.50M214.00 193.60V203.60M223.30 187.60V199.60M232.60 197.50V207.50M241.90 200.00V210.00M251.20 208.40V216.40M260.50 213.70V220.70M269.80 217.40V223.40M279.10 215.30V221.30" stroke="#1030ff" stroke-width="1.15" fill="none"/><g fill="#1030ff"><path d="M65.20 208.10l2.3 2.3l-2.3 2.3l-2.3 -2.3z"/><path d="M74.40 198.50l2.3 2.3l-2.3 2.3l-2.3 -2.3z"/><path d="M83.80 208.10l2.3 2.3l-2.3 2.3l-2.3 -2.3z"/><path d="M93.10 202.10l2.3 2.3l-2.3 2.3l-2.3 -2.3z"/><path d="M102.40 199.70l2.3 2.3l-2.3 2.3l-2.3 -2.3z"/><path d="M111.70 187.30l2.3 2.3l-2.3 2.3l-2.3 -2.3z"/><path d="M121.00 195.50l2.3 2.3l-2.3 2.3l-2.3 -2.3z"/><path d="M130.30 186.10l2.3 2.3l-2.3 2.3l-2.3 -2.3z"/><path d="M139.60 181.10l2.3 2.3l-2.3 2.3l-2.3 -2.3z"/><path d="M148.90 187.50l2.3 2.3l-2.3 2.3l-2.3 -2.3z"/><path d="M158.20 179.20l2.3 2.3l-2.3 2.3l-2.3 -2.3z"/><path d="M167.50 155.60l2.3 2.3l-2.3 2.3l-2.3 -2.3z"/><path d="M176.80 160.50l2.3 2.3l-2.3 2.3l-2.3 -2.3z"/><path d="M186.10 164.30l2.3 2.3l-2.3 2.3l-2.3 -2.3z"/><path d="M195.40 183.50l2.3 2.3l-2.3 2.3l-2.3 -2.3z"/><path d="M204.70 189.20l2.3 2.3l-2.3 2.3l-2.3 -2.3z"/><path d="M214.00 196.30l2.3 2.3l-2.3 2.3l-2.3 -2.3z"/><path d="M223.30 191.30l2.3 2.3l-2.3 2.3l-2.3 -2.3z"/><path d="M232.60 200.20l2.3 2.3l-2.3 2.3l-2.3 -2.3z"/><path d="M241.90 202.70l2.3 2.3l-2.3 2.3l-2.3 -2.3z"/><path d="M251.20 210.10l2.3 2.3l-2.3 2.3l-2.3 -2.3z"/><path d="M260.50 214.90l2.3 2.3l-2.3 2.3l-2.3 -2.3z"/><path d="M269.80 218.10l2.3 2.3l-2.3 2.3l-2.3 -2.3z"/><path d="M279.10 216.00l2.3 2.3l-2.3 2.3l-2.3 -2.3z"/></g>
<path d="M60.30 227.00C60.43 226.58 60.48 225.55 61.10 224.40C61.72 223.25 63.21 221.29 64.20 219.80C65.19 218.31 66.31 216.56 67.30 215.10C68.29 213.64 69.39 212.08 70.40 210.70C71.41 209.32 72.59 207.78 73.60 206.50C74.61 205.22 75.71 203.87 76.70 202.70C77.69 201.53 78.81 200.26 79.80 199.20C80.79 198.14 81.91 197.04 82.90 196.10C83.89 195.16 85.01 194.12 86.00 193.30C86.99 192.48 88.11 191.74 89.10 191.00C90.09 190.26 91.21 189.37 92.20 188.70C93.19 188.03 94.25 187.42 95.30 186.80C96.35 186.18 97.20 185.63 98.75 184.80C100.30 183.97 103.04 182.40 105.00 181.60C106.96 180.80 109.00 180.25 111.00 179.80C113.00 179.35 115.46 179.02 117.50 178.80C119.54 178.58 121.75 178.29 123.75 178.40C125.75 178.51 128.00 179.04 130.00 179.50C132.00 179.96 134.65 180.69 136.25 181.25C137.85 181.81 137.80 182.00 140.00 183.00C142.20 184.00 147.28 186.17 150.00 187.50C152.72 188.83 154.92 190.21 157.00 191.30C159.08 192.39 160.92 193.42 163.00 194.30C165.08 195.18 167.92 195.95 170.00 196.80C172.08 197.65 174.08 198.54 176.00 199.60C177.92 200.66 180.24 202.38 182.00 203.40C183.76 204.42 185.08 205.10 187.00 206.00C188.92 206.90 191.92 208.10 194.00 209.00C196.08 209.90 197.86 210.56 200.00 211.60C202.14 212.64 204.52 214.11 207.40 215.50C210.28 216.89 214.70 218.91 218.00 220.30C221.30 221.69 224.48 223.21 228.00 224.20C231.52 225.19 236.48 225.96 240.00 226.50C243.52 227.04 248.40 227.42 250.00 227.60" stroke="#2a3cff" stroke-width="1.5" fill="none" stroke-dasharray="2.2,1.9"/>
<path d="M60.30 226.50C60.43 225.92 60.48 224.60 61.10 222.90C61.72 221.20 63.21 217.85 64.20 215.90C65.19 213.95 66.31 212.20 67.30 210.70C68.29 209.20 69.39 207.84 70.40 206.50C71.41 205.16 72.59 203.58 73.60 202.30C74.61 201.02 75.71 199.68 76.70 198.50C77.69 197.32 78.81 196.02 79.80 194.90C80.79 193.78 81.91 192.54 82.90 191.50C83.89 190.46 85.01 189.34 86.00 188.40C86.99 187.46 88.11 186.43 89.10 185.60C90.09 184.77 91.21 183.90 92.20 183.20C93.19 182.50 94.37 181.74 95.30 181.20C96.23 180.66 97.02 180.33 98.00 179.80C98.98 179.27 100.28 178.44 101.40 177.90C102.52 177.36 103.66 176.88 105.00 176.40C106.34 175.92 108.36 175.25 109.80 174.90C111.24 174.55 112.64 174.34 114.00 174.20C115.36 174.06 116.94 173.95 118.30 174.00C119.66 174.05 121.16 174.29 122.50 174.50C123.84 174.71 125.50 175.00 126.70 175.30C127.90 175.60 128.66 175.90 130.00 176.40C131.34 176.90 133.50 177.66 135.10 178.40C136.70 179.14 138.42 180.10 140.00 181.00C141.58 181.90 143.27 182.93 145.00 184.00C146.73 185.07 149.20 186.63 150.80 187.70C152.40 188.77 153.53 189.76 155.00 190.70C156.47 191.64 158.78 193.02 160.00 193.60C161.22 194.18 161.88 194.40 162.60 194.30C163.32 194.20 163.97 194.01 164.50 193.00C165.03 191.99 165.53 190.40 165.90 188.00C166.27 185.60 166.56 182.48 166.80 178.00C167.04 173.52 167.24 166.88 167.40 160.00C167.56 153.12 167.70 143.00 167.80 135.00C167.90 127.00 167.97 114.00 168.00 110.00M169.20 110.00C169.30 111.92 169.51 118.00 169.80 122.00C170.09 126.00 170.58 131.16 171.00 135.00C171.42 138.84 171.89 142.69 172.40 146.00C172.91 149.31 173.62 153.22 174.20 155.70C174.78 158.18 175.07 159.61 176.00 161.50C176.93 163.39 178.56 165.69 180.00 167.50C181.44 169.31 183.40 171.20 185.00 172.80C186.60 174.40 188.08 175.76 190.00 177.50C191.92 179.24 194.22 181.46 197.00 183.70C199.78 185.94 204.04 189.12 207.40 191.50C210.76 193.88 214.64 196.60 218.00 198.60C221.36 200.60 225.44 202.53 228.40 204.00C231.36 205.47 233.52 206.36 236.50 207.80C239.48 209.24 243.64 211.32 247.00 213.00C250.36 214.68 254.14 216.89 257.50 218.30C260.86 219.71 265.04 220.79 268.00 221.80C270.96 222.81 274.72 224.15 276.00 224.60" stroke="#000" stroke-width="2.3" fill="none"/>
<path d="M100.00 227.40C103.20 227.30 115.20 227.02 120.00 226.80C124.80 226.58 126.80 226.38 130.00 226.00C133.20 225.62 137.25 225.02 140.00 224.40C142.75 223.78 145.02 223.04 147.20 222.10C149.38 221.16 151.86 219.80 153.60 218.50C155.34 217.20 156.80 215.89 158.10 214.00C159.40 212.11 160.69 209.31 161.70 206.70C162.71 204.09 163.60 200.88 164.40 197.70C165.20 194.52 166.12 190.27 166.70 186.80C167.28 183.33 167.71 181.89 168.00 176.00C168.29 170.11 168.37 160.56 168.50 150.00C168.63 139.44 168.75 116.40 168.80 110.00M169.30 110.00C169.41 114.00 169.76 128.28 170.00 135.00C170.24 141.72 170.43 146.72 170.80 152.00C171.17 157.28 171.88 164.16 172.30 168.00C172.72 171.84 172.79 172.99 173.40 176.00C174.01 179.01 175.22 183.62 176.10 186.80C176.98 189.98 177.88 193.47 178.90 195.90C179.92 198.33 181.20 200.56 182.50 202.00C183.80 203.44 185.13 203.94 187.00 204.90C188.87 205.86 192.12 207.22 194.20 208.00C196.28 208.78 197.89 209.22 200.00 209.80C202.11 210.38 204.52 210.96 207.40 211.60C210.28 212.24 214.38 213.10 218.00 213.80C221.62 214.50 225.36 215.18 230.00 216.00C234.64 216.82 240.92 217.86 247.00 218.90C253.08 219.94 263.36 221.60 268.00 222.50C272.64 223.40 274.72 224.18 276.00 224.50" stroke="#f02020" stroke-width="1.3" fill="none" stroke-dasharray="4,2.8"/>
</g>
<g clip-path="url(#clipb)">
<path d="M168.00 294.30V310.30M169.80 260.80V278.80M171.00 239.20V257.20M172.40 236.20V254.20M174.80 272.70V288.70M177.20 281.60V297.60M179.80 262.00V280.00M182.20 279.20V295.20M184.60 287.60V301.60M187.20 289.40V303.40M189.00 299.90V311.90M191.00 307.90V319.90M193.10 315.70V325.70M195.50 305.80V317.80M197.90 293.60V307.60M200.50 303.70V315.70M203.20 305.80V317.80M205.30 295.00V309.00M206.70 317.20V327.20M208.20 296.50V310.50M210.30 302.80V314.80M212.70 298.30V312.30M215.30 302.20V314.20M217.70 311.30V322.30M220.70 298.90V312.90M223.00 295.30V309.30M225.10 303.70V315.70M226.30 298.90V312.90M228.40 291.00V306.00M230.70 300.90V313.90M232.80 315.70V325.70M235.20 298.90V312.90M237.50 294.40V308.40M239.60 305.80V317.80M241.70 305.80V317.80M244.60 300.90V313.90M247.00 308.20V320.20M249.70 299.50V313.50M252.00 295.30V309.30M254.10 308.80V320.80M256.50 314.20V324.20M258.50 311.30V322.30M260.90 305.80V317.80M263.00 308.80V320.80M265.30 307.30V319.30M267.40 298.90V312.90M269.80 308.80V320.80M271.80 321.10V329.10M274.20 324.10V332.10" stroke="#c86a6a" stroke-width="1.2" fill="none"/><g fill="#a82424"><circle cx="168.00" cy="302.30" r="2.1"/><circle cx="169.80" cy="269.80" r="2.1"/><circle cx="171.00" cy="248.20" r="2.1"/><circle cx="172.40" cy="245.20" r="2.1"/><circle cx="174.80" cy="280.70" r="2.1"/><circle cx="177.20" cy="289.60" r="2.1"/><circle cx="179.80" cy="271.00" r="2.1"/><circle cx="182.20" cy="287.20" r="2.1"/><circle cx="184.60" cy="294.60" r="2.1"/><circle cx="187.20" cy="296.40" r="2.1"/><circle cx="189.00" cy="305.90" r="2.1"/><circle cx="191.00" cy="313.90" r="2.1"/><circle cx="193.10" cy="320.70" r="2.1"/><circle cx="195.50" cy="311.80" r="2.1"/><circle cx="197.90" cy="300.60" r="2.1"/><circle cx="200.50" cy="309.70" r="2.1"/><circle cx="203.20" cy="311.80" r="2.1"/><circle cx="205.30" cy="302.00" r="2.1"/><circle cx="206.70" cy="322.20" r="2.1"/><circle cx="208.20" cy="303.50" r="2.1"/><circle cx="210.30" cy="308.80" r="2.1"/><circle cx="212.70" cy="305.30" r="2.1"/><circle cx="215.30" cy="308.20" r="2.1"/><circle cx="217.70" cy="316.80" r="2.1"/><circle cx="220.70" cy="305.90" r="2.1"/><circle cx="223.00" cy="302.30" r="2.1"/><circle cx="225.10" cy="309.70" r="2.1"/><circle cx="226.30" cy="305.90" r="2.1"/><circle cx="228.40" cy="298.50" r="2.1"/><circle cx="230.70" cy="307.40" r="2.1"/><circle cx="232.80" cy="320.70" r="2.1"/><circle cx="235.20" cy="305.90" r="2.1"/><circle cx="237.50" cy="301.40" r="2.1"/><circle cx="239.60" cy="311.80" r="2.1"/><circle cx="241.70" cy="311.80" r="2.1"/><circle cx="244.60" cy="307.40" r="2.1"/><circle cx="247.00" cy="314.20" r="2.1"/><circle cx="249.70" cy="306.50" r="2.1"/><circle cx="252.00" cy="302.30" r="2.1"/><circle cx="254.10" cy="314.80" r="2.1"/><circle cx="256.50" cy="319.20" r="2.1"/><circle cx="258.50" cy="316.80" r="2.1"/><circle cx="260.90" cy="311.80" r="2.1"/><circle cx="263.00" cy="314.80" r="2.1"/><circle cx="265.30" cy="313.30" r="2.1"/><circle cx="267.40" cy="305.90" r="2.1"/><circle cx="269.80" cy="314.80" r="2.1"/><circle cx="271.80" cy="325.10" r="2.1"/><circle cx="274.20" cy="328.10" r="2.1"/></g>
<path d="M168.20 337.20C168.20 331.25 168.17 312.35 168.20 300.00C168.23 287.65 168.32 268.40 168.40 260.00C168.48 251.60 168.56 250.28 168.70 247.50C168.84 244.72 169.11 243.29 169.30 242.60C169.49 241.91 169.71 242.34 169.90 243.20C170.09 244.06 170.24 245.95 170.50 248.00C170.76 250.05 171.13 253.44 171.50 256.00C171.87 258.56 172.35 261.63 172.80 264.00C173.25 266.37 173.60 268.10 174.30 270.80C175.00 273.50 176.03 277.92 177.20 280.90C178.37 283.88 179.68 286.34 181.60 289.40C183.52 292.46 186.77 297.22 189.20 300.00C191.63 302.78 194.37 305.06 196.80 306.80C199.23 308.54 202.00 309.86 204.40 310.90C206.80 311.94 209.43 312.82 211.80 313.30C214.17 313.78 215.49 313.82 219.20 313.90C222.91 313.98 230.07 313.88 235.00 313.80C239.93 313.72 245.62 313.43 250.00 313.40C254.38 313.37 259.47 313.15 262.40 313.60C265.33 314.05 266.65 314.82 268.30 316.20C269.95 317.58 271.60 320.15 272.70 322.20C273.80 324.25 274.62 326.63 275.20 329.00C275.78 331.37 276.12 335.72 276.30 337.00" stroke="#000" stroke-width="2.3" fill="none"/>
<path d="M168.50 337.20C168.50 331.25 168.47 312.35 168.50 300.00C168.53 287.65 168.62 268.24 168.70 260.00C168.78 251.76 168.87 251.12 169.00 248.50C169.13 245.88 169.32 244.27 169.50 243.60C169.68 242.93 169.91 243.36 170.10 244.30C170.29 245.24 170.44 247.31 170.70 249.50C170.96 251.69 171.33 255.36 171.70 258.00C172.07 260.64 172.55 263.60 173.00 266.00C173.45 268.40 173.80 270.20 174.50 273.00C175.20 275.80 176.23 280.38 177.40 283.50C178.57 286.62 179.91 289.38 181.80 292.50C183.69 295.62 186.80 300.14 189.20 303.00C191.60 305.86 194.37 308.48 196.80 310.40C199.23 312.32 202.00 313.78 204.40 315.00C206.80 316.22 209.43 317.20 211.80 318.00C214.17 318.80 215.84 319.30 219.20 320.00C222.56 320.70 228.26 321.58 232.80 322.40C237.34 323.22 242.86 324.04 247.60 325.10C252.34 326.16 258.50 327.82 262.40 329.00C266.30 330.18 269.90 331.54 272.00 332.50C274.10 333.46 274.70 334.28 275.50 335.00C276.30 335.72 276.76 336.68 277.00 337.00" stroke="#f02020" stroke-width="1.3" fill="none" stroke-dasharray="4,2.8"/>
<path d="M183.70 337.00C184.71 336.71 187.87 335.92 190.00 335.20C192.13 334.48 194.76 333.36 197.00 332.50C199.24 331.64 201.63 330.74 204.00 329.80C206.37 328.86 209.56 327.50 211.80 326.60C214.04 325.70 215.73 325.16 218.00 324.20C220.27 323.24 223.63 321.59 226.00 320.60C228.37 319.61 230.56 318.80 232.80 318.00C235.04 317.20 237.63 316.26 240.00 315.60C242.37 314.94 245.52 314.24 247.60 313.90C249.68 313.56 250.63 313.52 253.00 313.50C255.37 313.48 259.95 313.34 262.40 313.80C264.85 314.26 266.65 315.02 268.30 316.40C269.95 317.78 271.60 320.35 272.70 322.40C273.80 324.45 274.59 326.86 275.20 329.20C275.81 331.54 276.29 335.75 276.50 337.00" stroke="#2a3cff" stroke-width="1.5" fill="none" stroke-dasharray="2.2,1.9"/>
</g>
<rect x="67.6" y="264.6" width="91.9" height="67.9" fill="#fff" stroke="#333" stroke-width="0.9"/><circle cx="93.3" cy="271.5" r="2.3" fill="#a82424"/><circle cx="93.3" cy="285.2" r="2.9" fill="#0018ff"/><line x1="74" y1="298.6" x2="113" y2="298.6" stroke="#000" stroke-width="1.9"/><line x1="74" y1="311.9" x2="112.5" y2="311.9" stroke="#f02020" stroke-width="1.3" stroke-dasharray="3.6,4.45"/><line x1="74" y1="325.9" x2="112.3" y2="325.9" stroke="#2a3cff" stroke-width="1.5" stroke-dasharray="2.2,1.88"/><text x="119.3" y="276.0" class="t" style="font-size:11.4px">BESIII</text><text x="119.3" y="288.7" class="t" style="font-size:11.4px">Belle</text><text x="119.3" y="302.5" class="t" style="font-size:11.4px">Full</text><text x="119.3" y="315.9" class="t" style="font-size:11.4px">State</text><text x="119.3" y="330.0" class="t" style="font-size:11.4px">b.k.</text>
<path d="M69.50 8.30L69.50 11.10M69.50 114.80L69.50 120.40M69.50 224.90L69.50 230.50M69.50 334.40L69.50 337.20M78.50 8.30L78.50 11.10M78.50 114.80L78.50 120.40M78.50 224.90L78.50 230.50M78.50 334.40L78.50 337.20M87.50 8.30L87.50 13.50M87.50 112.40L87.50 122.80M87.50 222.50L87.50 232.90M87.50 332.00L87.50 337.20M96.50 8.30L96.50 11.10M96.50 114.80L96.50 120.40M96.50 224.90L96.50 230.50M96.50 334.40L96.50 337.20M105.50 8.30L105.50 11.10M105.50 114.80L105.50 120.40M105.50 224.90L105.50 230.50M105.50 334.40L105.50 337.20M115.50 8.30L115.50 11.10M115.50 114.80L115.50 120.40M115.50 224.90L115.50 230.50M115.50 334.40L115.50 337.20M124.50 8.30L124.50 11.10M124.50 114.80L124.50 120.40M124.50 224.90L124.50 230.50M124.50 334.40L124.50 337.20M133.50 8.30L133.50 13.50M133.50 112.40L133.50 122.80M133.50 222.50L133.50 232.90M133.50 332.00L133.50 337.20M142.50 8.30L142.50 11.10M142.50 114.80L142.50 120.40M142.50 224.90L142.50 230.50M142.50 334.40L142.50 337.20M151.50 8.30L151.50 11.10M151.50 114.80L151.50 120.40M151.50 224.90L151.50 230.50M151.50 334.40L151.50 337.20M160.50 8.30L160.50 11.10M160.50 114.80L160.50 120.40M160.50 224.90L160.50 230.50M160.50 334.40L160.50 337.20M169.50 8.30L169.50 11.10M169.50 114.80L169.50 120.40M169.50 224.90L169.50 230.50M169.50 334.40L169.50 337.20M179.50 8.30L179.50 13.50M179.50 112.40L179.50 122.80M179.50 222.50L179.50 232.90M179.50 332.00L179.50 337.20M188.50 8.30L188.50 11.10M188.50 114.80L188.50 120.40M188.50 224.90L188.50 230.50M188.50 334.40L188.50 337.20M197.50 8.30L197.50 11.10M197.50 114.80L197.50 120.40M197.50 224.90L197.50 230.50M197.50 334.40L197.50 337.20M206.50 8.30L206.50 11.10M206.50 114.80L206.50 120.40M206.50 224.90L206.50 230.50M206.50 334.40L206.50 337.20M215.50 8.30L215.50 11.10M215.50 114.80L215.50 120.40M215.50 224.90L215.50 230.50M215.50 334.40L215.50 337.20M224.50 8.30L224.50 13.50M224.50 112.40L224.50 122.80M224.50 222.50L224.50 232.90M224.50 332.00L224.50 337.20M234.50 8.30L234.50 11.10M234.50 114.80L234.50 120.40M234.50 224.90L234.50 230.50M234.50 334.40L234.50 337.20M243.50 8.30L243.50 11.10M243.50 114.80L243.50 120.40M243.50 224.90L243.50 230.50M243.50 334.40L243.50 337.20M252.50 8.30L252.50 11.10M252.50 114.80L252.50 120.40M252.50 224.90L252.50 230.50M252.50 334.40L252.50 337.20M261.50 8.30L261.50 11.10M261.50 114.80L261.50 120.40M261.50 224.90L261.50 230.50M261.50 334.40L261.50 337.20M270.50 8.30L270.50 13.50M270.50 112.40L270.50 122.80M270.50 222.50L270.50 232.90M270.50 332.00L270.50 337.20M60.00 17.50L62.80 17.50M277.20 17.50L280.00 17.50M60.00 26.50L65.20 26.50M274.80 26.50L280.00 26.50M60.00 35.50L62.80 35.50M277.20 35.50L280.00 35.50M60.00 44.50L65.20 44.50M274.80 44.50L280.00 44.50M60.00 53.50L62.80 53.50M277.20 53.50L280.00 53.50M60.00 62.50L65.20 62.50M274.80 62.50L280.00 62.50M60.00 72.50L62.80 72.50M277.20 72.50L280.00 72.50M60.00 81.50L65.20 81.50M274.80 81.50L280.00 81.50M60.00 90.50L62.80 90.50M277.20 90.50L280.00 90.50M60.00 99.50L65.20 99.50M274.80 99.50L280.00 99.50M60.00 108.50L62.80 108.50M277.20 108.50L280.00 108.50M60.00 216.50L62.80 216.50M277.20 216.50L280.00 216.50M60.00 204.50L65.20 204.50M274.80 204.50L280.00 204.50M60.00 193.50L62.80 193.50M277.20 193.50L280.00 193.50M60.00 181.50L65.20 181.50M274.80 181.50L280.00 181.50M60.00 170.50L62.80 170.50M277.20 170.50L280.00 170.50M60.00 158.50L65.20 158.50M274.80 158.50L280.00 158.50M60.00 147.50L62.80 147.50M277.20 147.50L280.00 147.50M60.00 135.50L65.20 135.50M274.80 135.50L280.00 135.50M60.00 123.50L62.80 123.50M277.20 123.50L280.00 123.50M60.00 325.50L62.80 325.50M277.20 325.50L280.00 325.50M60.00 314.50L65.20 314.50M274.80 314.50L280.00 314.50M60.00 302.50L62.80 302.50M277.20 302.50L280.00 302.50M60.00 291.50L65.20 291.50M274.80 291.50L280.00 291.50M60.00 279.50L62.80 279.50M277.20 279.50L280.00 279.50M60.00 268.50L65.20 268.50M274.80 268.50L280.00 268.50M60.00 256.50L62.80 256.50M277.20 256.50L280.00 256.50M60.00 245.50L65.20 245.50M274.80 245.50L280.00 245.50M60.00 233.50L62.80 233.50M277.20 233.50L280.00 233.50" stroke="#000" stroke-width="1" fill="none"/>
<rect x="60.0" y="8.3" width="220.0" height="328.9" fill="none" stroke="#000" stroke-width="1.9"/><line x1="60.0" y1="117.6" x2="280.0" y2="117.6" stroke="#000" stroke-width="1.9"/><line x1="60.0" y1="227.7" x2="280.0" y2="227.7" stroke="#000" stroke-width="1.9"/>
<text x="49.6" y="12.70" text-anchor="end" class="t">30</text>
<text x="49.6" y="30.92" text-anchor="end" class="t">20</text>
<text x="49.6" y="49.13" text-anchor="end" class="t">10</text>
<text x="49.6" y="67.35" text-anchor="end" class="t">0</text>
<text x="49.6" y="85.57" text-anchor="end" class="t">−10</text>
<text x="49.6" y="103.78" text-anchor="end" class="t">−20</text>
<text x="49.6" y="122.00" text-anchor="end" class="t">−30</text>
<text x="49.6" y="232.10" text-anchor="end" class="t">0</text>
<text x="49.6" y="209.05" text-anchor="end" class="t">20</text>
<text x="49.6" y="186.00" text-anchor="end" class="t">40</text>
<text x="49.6" y="162.95" text-anchor="end" class="t">60</text>
<text x="49.6" y="139.90" text-anchor="end" class="t">80</text>
<text x="49.6" y="341.60" text-anchor="end" class="t">0</text>
<text x="49.6" y="318.55" text-anchor="end" class="t">20</text>
<text x="49.6" y="295.50" text-anchor="end" class="t">40</text>
<text x="49.6" y="272.45" text-anchor="end" class="t">60</text>
<text x="49.6" y="249.40" text-anchor="end" class="t">80</text>
<text x="87.50" y="359" text-anchor="middle" class="t">3.7</text>
<text x="133.33" y="359" text-anchor="middle" class="t">3.8</text>
<text x="179.17" y="359" text-anchor="middle" class="t">3.9</text>
<text x="225.00" y="359" text-anchor="middle" class="t">4.0</text>
<text x="270.83" y="359" text-anchor="middle" class="t">4.1</text>
<text x="170.7" y="380.5" text-anchor="middle" class="s">Re(z)(GeV)</text>
<text transform="translate(13.3 57.7) rotate(-90)" text-anchor="middle" class="s">Im(z) (MeV)</text>
<text transform="translate(15.8 178.2) rotate(-90)" text-anchor="middle" class="s">Events</text>
<text transform="translate(15.8 287.8) rotate(-90)" text-anchor="middle" class="s">Events</text>
<text class="s" style="font-size:16.6px"><tspan x="226" y="139.8">π</tspan><tspan x="236.3" y="133.2" font-size="10.5">−</tspan><tspan x="241.8" y="139.8">J/</tspan><tspan x="251.6" y="139.8" textLength="11.4" lengthAdjust="spacingAndGlyphs">ψ</tspan></text>
<text class="s" font-size="15.3"><tspan x="223.6" y="254.1">D</tspan><tspan x="235.2" y="245.8" font-size="11.5">*</tspan><tspan x="241" y="244.8" font-size="12" fill="#444" stroke="none">−</tspan><tspan x="249" y="254.1">D</tspan><tspan x="260.6" y="249.4" font-size="11.8">0</tspan></text>
</svg>
</body></html>
